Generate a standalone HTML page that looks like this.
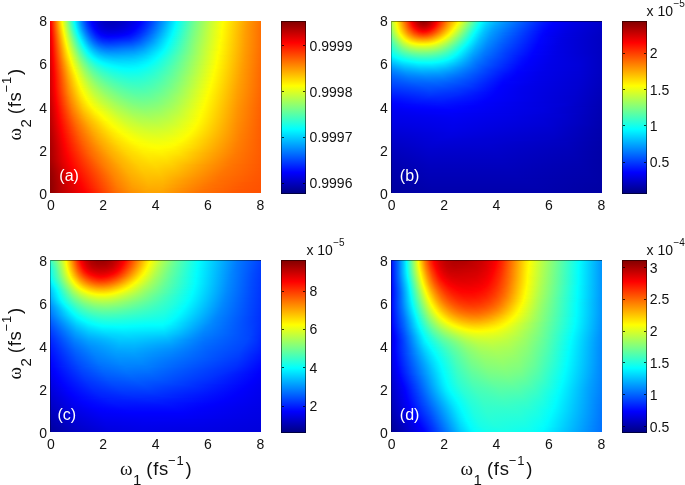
<!DOCTYPE html>
<html><head><meta charset="utf-8"><title>figure</title>
<style>
html,body{margin:0;padding:0;background:#fff;}
body{width:685px;height:485px;position:relative;overflow:hidden;font-family:"Liberation Sans",sans-serif;color:#111;}
.pl{position:absolute;overflow:hidden;}
.bx{position:absolute;box-sizing:border-box;border-top:1px solid rgba(0,0,0,0.45);border-left:1px solid rgba(0,0,0,0.3);pointer-events:none;}
.pl i{display:block;height:1px;width:100%;}
.cb{position:absolute;box-sizing:border-box;border:1px solid rgba(0,0,0,0.5);background-origin:border-box;}
.tk{position:absolute;width:2.7px;height:1px;background:rgba(0,0,0,0.75);}
.t{position:absolute;white-space:nowrap;line-height:1;font-size:14px;}
.r{text-align:right;}
.c{text-align:center;}
.al{position:absolute;white-space:pre;line-height:1;width:70px;height:26px;}
.al span{position:absolute;line-height:1;}
.al.rot{transform-origin:0 0;transform:rotate(-90deg);}
.mn{font-size:18.5px;letter-spacing:0.7px;}
.om{font-family:"Liberation Serif",serif;font-size:19px;}
.sb{font-size:15px;}
.su{font-size:13px;letter-spacing:0.8px;}
.ex{font-size:10px;position:relative;top:-9.6px;margin-left:0.4px;}
.w{color:#fff;font-size:16px;}
</style></head><body>
<div class="pl" style="left:50px;top:20.75px;width:211.2px;height:172.5px">
<i style="background:linear-gradient(90deg,#f90000 0.237%,#ff0f00 0.7109%,#fff200 5.45%,#f6ff09 5.924%,#3bffc4 10.19%,#01fffe 11.61%,#0073ff 15.4%,#002cff 17.77%,#0004ff 19.67%,#0000f3 20.62%,#0000d1 23.46%,#0000bd 26.78%,#0000ba 30.57%,#0000ca 35.31%,#0000ee 41%,#0000ff 42.89%,#003aff 47.63%,#00a8ff 54.74%,#00fcff 59.95%,#1fffe0 62.32%,#82ff7d 69.91%,#f3ff0c 80.81%,#fffe00 82.23%,#ff9b00 93.6%,#ff7300 99.76%)"></i>
<i style="background:linear-gradient(90deg,#f70000 0.237%,#ff0d00 0.7109%,#ffef00 5.45%,#f9ff06 5.924%,#3effc1 10.19%,#04fffb 11.61%,#00cbff 13.03%,#0066ff 15.88%,#002eff 17.77%,#0006ff 19.67%,#0000fc 20.14%,#0000d7 22.99%,#0000c2 25.83%,#0000bb 29.62%,#0000c7 34.36%,#0000e9 40.05%,#0003ff 42.89%,#003dff 47.63%,#00abff 54.74%,#00feff 59.95%,#72ff8d 68.48%,#d3ff2c 77.49%,#fffd00 82.23%,#ff9a00 93.6%,#ff7200 99.76%)"></i>
<i style="background:linear-gradient(90deg,#f60000 0.237%,#ff0c00 0.7109%,#ffec00 5.45%,#fcff03 5.924%,#41ffbe 10.19%,#06fff9 11.61%,#00f2ff 12.09%,#0078ff 15.4%,#0032ff 17.77%,#0000ff 20.14%,#0000dd 22.51%,#0000c6 25.36%,#0000bd 29.15%,#0000c7 33.89%,#0000e7 39.57%,#0000ff 42.42%,#0039ff 47.16%,#00a5ff 54.27%,#01fffe 59.95%,#68ff97 67.54%,#c1ff3e 75.59%,#feff01 81.75%,#ff9600 94.08%,#ff7100 99.76%)"></i>
<i style="background:linear-gradient(90deg,#f50000 0.237%,#ff0a00 0.7109%,#ffff00 5.924%,#44ffbb 10.19%,#0afff5 11.61%,#00f6ff 12.09%,#008cff 14.93%,#0042ff 17.3%,#000bff 19.67%,#0003ff 20.14%,#0000d6 23.46%,#0000c4 26.3%,#0000c0 30.09%,#0000ce 34.83%,#0000f1 40.52%,#0003ff 42.42%,#003cff 47.16%,#00a8ff 54.27%,#00fbff 59.48%,#0afff5 60.43%,#70ff8f 68.01%,#ccff33 76.54%,#feff01 81.75%,#ff9900 93.6%,#ff7100 99.76%)"></i>
<i style="background:linear-gradient(90deg,#f30000 0.237%,#ff0900 0.7109%,#fffc00 5.924%,#c2ff3d 7.346%,#0dfff2 11.61%,#00f9ff 12.09%,#0090ff 14.93%,#0046ff 17.3%,#000fff 19.67%,#0000fd 20.62%,#0000de 22.99%,#0000c9 25.83%,#0000c2 29.62%,#0000ce 34.36%,#0000ed 39.57%,#0002ff 41.94%,#0038ff 46.68%,#00a3ff 53.79%,#00fdff 59.48%,#77ff88 68.48%,#d6ff29 77.49%,#ffff00 81.75%,#ff9c00 93.13%,#ff7000 99.76%)"></i>
<i style="background:linear-gradient(90deg,#f20000 0.237%,#ff0800 0.7109%,#fff800 5.924%,#f0ff0f 6.398%,#38ffc7 10.66%,#00feff 12.09%,#0095ff 14.93%,#004bff 17.3%,#0013ff 19.67%,#0002ff 20.62%,#0000dc 23.46%,#0000ca 26.3%,#0000c6 30.09%,#0000d6 35.31%,#0000f7 40.52%,#0000ff 41.47%,#0036ff 46.21%,#0097ff 52.84%,#00ffff 59.48%,#67ff98 67.06%,#c0ff3f 75.12%,#fffe00 81.75%,#ff9b00 93.13%,#ff7000 99.76%)"></i>
<i style="background:linear-gradient(90deg,#f10000 0.237%,#ff0700 0.7109%,#fff500 5.924%,#f4ff0b 6.398%,#3cffc3 10.66%,#03fffc 12.09%,#00bbff 13.98%,#005eff 16.82%,#0022ff 19.19%,#0000fe 21.09%,#0000e0 23.46%,#0000ce 26.3%,#0000c9 30.09%,#0000d9 35.31%,#0000fb 40.52%,#0004ff 41.47%,#0039ff 46.21%,#00a2ff 53.32%,#00faff 59%,#09fff6 59.95%,#6eff91 67.54%,#caff35 76.07%,#fffd00 81.75%,#ff9b00 93.13%,#ff7000 99.76%)"></i>
<i style="background:linear-gradient(90deg,#f00000 0.237%,#ff0500 0.7109%,#fff100 5.924%,#f8ff07 6.398%,#41ffbe 10.66%,#08fff7 12.09%,#00f5ff 12.56%,#008fff 15.4%,#0049ff 17.77%,#0014ff 20.14%,#0003ff 21.09%,#0000ee 22.51%,#0000d6 25.36%,#0000cd 28.67%,#0000d5 33.41%,#0000f0 38.63%,#0000fe 40.52%,#002bff 44.79%,#0080ff 50.95%,#00fdff 59%,#75ff8a 68.01%,#d4ff2b 77.01%,#fffd00 81.75%,#ff9b00 93.13%,#ff6f00 99.76%)"></i>
<i style="background:linear-gradient(90deg,#ef0000 0.237%,#ff0400 0.7109%,#ffed00 5.924%,#fbff04 6.398%,#46ffb9 10.66%,#0dfff2 12.09%,#00faff 12.56%,#0095ff 15.4%,#004fff 17.77%,#0019ff 20.14%,#0001ff 21.56%,#0000e0 24.41%,#0000d2 27.73%,#0000d7 32.46%,#0000ed 37.68%,#0000fe 40.05%,#002aff 44.31%,#007dff 50.47%,#00ffff 59%,#65ff9a 66.59%,#c3ff3c 75.12%,#feff01 81.28%,#ff9700 93.6%,#ff6f00 99.76%)"></i>
<i style="background:linear-gradient(90deg,#ee0000 0.237%,#ff0300 0.7109%,#ffff00 6.398%,#4bffb4 10.66%,#01fffe 12.56%,#008cff 15.88%,#0049ff 18.25%,#0016ff 20.62%,#0000fe 22.04%,#0000e5 24.41%,#0000d8 27.25%,#0000d9 31.52%,#0000ef 37.2%,#0000ff 39.57%,#0029ff 43.84%,#0073ff 49.53%,#00fbff 58.53%,#09fff6 59.48%,#6cff93 67.06%,#cdff32 76.07%,#feff01 81.28%,#ff9a00 93.13%,#ff6f00 99.76%)"></i>
<i style="background:linear-gradient(90deg,#ec0000 0.237%,#ff0100 0.7109%,#fffb00 6.398%,#daff25 7.346%,#2bffd4 11.61%,#07fff8 12.56%,#00f4ff 13.03%,#0093ff 15.88%,#004fff 18.25%,#001cff 20.62%,#0000fe 22.51%,#0000e7 24.88%,#0000dc 28.2%,#0000e4 33.41%,#0000fc 38.63%,#000cff 40.52%,#003eff 45.26%,#009aff 51.9%,#00fdff 58.53%,#79ff86 68.01%,#dbff24 77.49%,#ffff00 81.28%,#ff9d00 92.65%,#ff6f00 99.76%)"></i>
<i style="background:linear-gradient(90deg,#eb0000 0.237%,#ff0000 0.7109%,#fff700 6.398%,#f2ff0d 6.872%,#43ffbc 11.14%,#0dfff2 12.56%,#00faff 13.03%,#008bff 16.35%,#004aff 18.72%,#0019ff 21.09%,#0000fd 22.99%,#0000ea 25.36%,#0000e1 28.67%,#0000ec 34.36%,#0002ff 38.63%,#0027ff 42.89%,#006eff 48.58%,#01fffe 58.53%,#69ff96 66.59%,#caff35 75.59%,#ffff00 81.28%,#ff9d00 92.65%,#ff6f00 99.76%)"></i>
<i style="background:linear-gradient(90deg,#ea0000 0.237%,#fd0000 0.7109%,#ffca00 5.45%,#fff300 6.398%,#f7ff08 6.872%,#49ffb6 11.14%,#02fffd 13.03%,#0084ff 16.82%,#0046ff 19.19%,#0018ff 21.56%,#0000fe 23.46%,#0000eb 26.3%,#0000e9 30.09%,#0000f9 36.26%,#0004ff 38.15%,#0028ff 42.42%,#006cff 48.1%,#00fcff 58.06%,#10ffef 59.48%,#76ff89 67.54%,#d8ff27 77.01%,#fffe00 81.28%,#ff9d00 92.65%,#ff6f00 99.76%)"></i>
<i style="background:linear-gradient(90deg,#e80000 0.237%,#fc0000 0.7109%,#ff3800 2.133%,#ffef00 6.398%,#fbff04 6.872%,#4fffb0 11.14%,#08fff7 13.03%,#00f7ff 13.51%,#008bff 16.82%,#004dff 19.19%,#001eff 21.56%,#0001ff 23.93%,#0000f0 27.25%,#0000f3 31.99%,#0002ff 36.73%,#001bff 40.52%,#0052ff 45.73%,#00c1ff 53.79%,#00feff 58.06%,#71ff8e 67.06%,#d4ff2b 76.54%,#fffe00 81.28%,#ffa000 92.18%,#ff6f00 99.76%)"></i>
<i style="background:linear-gradient(90deg,#e70000 0.237%,#fa0000 0.7109%,#ff0f00 1.185%,#ffff00 6.872%,#54ffab 11.14%,#00fdff 13.51%,#0092ff 16.82%,#0054ff 19.19%,#0025ff 21.56%,#0008ff 23.93%,#0000fd 25.36%,#0000f5 28.67%,#0002ff 34.83%,#0016ff 39.1%,#0042ff 43.84%,#0096ff 50.47%,#02fffd 58.06%,#6dff92 66.59%,#d0ff2f 76.07%,#fffd00 81.28%,#ffa000 92.18%,#ff6f00 99.76%)"></i>
<i style="background:linear-gradient(90deg,#e60000 0.237%,#f90000 0.7109%,#ff0d00 1.185%,#fffb00 6.872%,#c9ff36 8.294%,#27ffd8 12.56%,#05fffa 13.51%,#00f4ff 13.98%,#008cff 17.3%,#0051ff 19.67%,#0025ff 22.04%,#000bff 24.41%,#0000ff 26.78%,#0004ff 32.46%,#0016ff 38.15%,#0038ff 42.42%,#0081ff 48.58%,#00fdff 57.58%,#7fff80 68.01%,#e7ff18 78.44%,#fffd00 81.28%,#ffa000 92.18%,#ff6f00 99.76%)"></i>
<i style="background:linear-gradient(90deg,#e40000 0.237%,#f70000 0.7109%,#ff0c00 1.185%,#fff700 6.872%,#f4ff0b 7.346%,#4fffb0 11.61%,#0cfff3 13.51%,#00fbff 13.98%,#0094ff 17.3%,#0058ff 19.67%,#002cff 22.04%,#0012ff 24.41%,#0007ff 27.25%,#000cff 32.46%,#001dff 38.15%,#003fff 42.42%,#0086ff 48.58%,#01fffe 57.58%,#75ff8a 67.06%,#dbff24 77.01%,#fffc00 81.28%,#ffa000 92.18%,#ff6f00 99.76%)"></i>
<i style="background:linear-gradient(90deg,#e30000 0.237%,#f60000 0.7109%,#ff0a00 1.185%,#fff300 6.872%,#f8ff07 7.346%,#55ffaa 11.61%,#03fffc 13.98%,#00c5ff 15.88%,#0076ff 18.72%,#0044ff 21.09%,#0022ff 23.46%,#0011ff 26.3%,#0010ff 30.57%,#0024ff 38.15%,#0045ff 42.42%,#008bff 48.58%,#00fdff 57.11%,#86ff79 68.48%,#f1ff0e 79.38%,#fffc00 81.28%,#ff9f00 92.18%,#ff6f00 99.76%)"></i>
<i style="background:linear-gradient(90deg,#e20000 0.237%,#f50000 0.7109%,#ff0900 1.185%,#ffef00 6.872%,#fcff03 7.346%,#5bffa4 11.61%,#0afff5 13.98%,#00faff 14.45%,#0096ff 17.77%,#005fff 20.14%,#0036ff 22.51%,#0020ff 24.88%,#0017ff 28.2%,#0028ff 37.2%,#003fff 41%,#0079ff 46.68%,#01fffe 57.11%,#78ff87 67.06%,#e0ff1f 77.49%,#feff01 80.81%,#ff9c00 92.65%,#ff6f00 99.76%)"></i>
<i style="background:linear-gradient(90deg,#e20000 0.237%,#f40000 0.7109%,#ff0800 1.185%,#fffe00 7.346%,#51ffae 12.09%,#02fffd 14.45%,#009eff 17.77%,#0067ff 20.14%,#003fff 22.51%,#0029ff 24.88%,#0020ff 28.2%,#0032ff 37.68%,#004aff 41.47%,#0084ff 47.16%,#00fdff 56.64%,#8dff72 68.96%,#ffff00 80.81%,#ff9f00 92.18%,#ff6e00 99.76%)"></i>
<i style="background:linear-gradient(90deg,#e10000 0.237%,#f30000 0.7109%,#ff0700 1.185%,#fffa00 7.346%,#f2ff0d 7.82%,#57ffa8 12.09%,#08fff7 14.45%,#00f9ff 14.93%,#00a7ff 17.77%,#0070ff 20.14%,#0049ff 22.51%,#0032ff 24.88%,#0029ff 28.2%,#003dff 38.15%,#005aff 42.42%,#009aff 48.58%,#01fffe 56.64%,#7aff85 67.06%,#eaff15 78.44%,#fffe00 80.81%,#ff9f00 92.18%,#ff6e00 99.76%)"></i>
<i style="background:linear-gradient(90deg,#e10000 0.237%,#f30000 0.7109%,#ff0600 1.185%,#fff600 7.346%,#f6ff09 7.82%,#4dffb2 12.56%,#01fffe 14.93%,#00a3ff 18.25%,#0070ff 20.62%,#004cff 22.99%,#0039ff 25.36%,#0033ff 28.67%,#0048ff 38.63%,#0065ff 42.89%,#00a5ff 49.05%,#00fdff 56.16%,#94ff6b 69.43%,#fcff03 80.33%,#ffed00 82.7%,#ff9800 93.13%,#ff6e00 99.76%)"></i>
<i style="background:linear-gradient(90deg,#e00000 0.237%,#ff0500 1.185%,#fff200 7.346%,#fbff04 7.82%,#53ffac 12.56%,#08fff7 14.93%,#00f8ff 15.4%,#00abff 18.25%,#0079ff 20.62%,#0056ff 22.99%,#0043ff 25.36%,#003cff 28.67%,#0051ff 38.63%,#006cff 42.89%,#00aaff 49.05%,#01fffe 56.16%,#82ff7d 67.54%,#f8ff07 79.86%,#fff900 81.28%,#ff9e00 92.18%,#ff6e00 99.76%)"></i>
<i style="background:linear-gradient(90deg,#e00000 0.237%,#ff0400 1.185%,#ffff00 7.82%,#59ffa6 12.56%,#01fffe 15.4%,#00a9ff 18.72%,#007aff 21.09%,#005bff 23.46%,#0049ff 26.3%,#0047ff 30.09%,#005bff 39.1%,#0077ff 43.36%,#00b5ff 49.53%,#00fdff 55.69%,#97ff68 69.43%,#fdff02 80.33%,#ff9700 93.13%,#ff6e00 99.76%)"></i>
<i style="background:linear-gradient(90deg,#df0000 0.237%,#ff0300 1.185%,#fffb00 7.82%,#e1ff1e 8.768%,#50ffaf 13.03%,#08fff7 15.4%,#00f9ff 15.88%,#00b2ff 18.72%,#0084ff 21.09%,#0065ff 23.46%,#0053ff 26.3%,#0051ff 30.09%,#0064ff 39.1%,#0082ff 43.84%,#00c4ff 50.47%,#01fffe 55.69%,#8eff71 68.48%,#feff01 80.33%,#ff9b00 92.65%,#ff6e00 99.76%)"></i>
<i style="background:linear-gradient(90deg,#de0000 0.237%,#ff0200 1.185%,#fff700 7.82%,#f6ff09 8.294%,#56ffa9 13.03%,#02fffd 15.88%,#00b0ff 19.19%,#0086ff 21.56%,#006bff 23.93%,#005cff 26.78%,#005bff 30.57%,#006fff 39.57%,#008dff 44.31%,#00ceff 50.95%,#00feff 55.21%,#99ff66 69.43%,#ffff00 80.33%,#ff9e00 92.18%,#ff6e00 99.76%)"></i>
<i style="background:linear-gradient(90deg,#de0000 0.237%,#ff0100 1.185%,#fff300 7.82%,#fbff04 8.294%,#5dffa2 13.03%,#09fff6 15.88%,#00fcff 16.35%,#00b9ff 19.19%,#0090ff 21.56%,#0071ff 24.41%,#0064ff 27.25%,#0067ff 31.52%,#0077ff 39.57%,#0094ff 44.31%,#00d3ff 50.95%,#03fffc 55.21%,#9eff61 69.91%,#ffff00 80.33%,#ff9d00 92.18%,#ff6e00 99.76%)"></i>
<i style="background:linear-gradient(90deg,#dd0000 0.237%,#ff0000 1.185%,#ffff00 8.294%,#63ff9c 13.03%,#04fffb 16.35%,#00ebff 17.3%,#00b0ff 20.14%,#008dff 22.51%,#0075ff 25.36%,#006dff 28.67%,#007fff 39.57%,#009bff 44.31%,#00d7ff 50.95%,#01fffe 54.74%,#a4ff5b 70.38%,#fffe00 80.33%,#ff9d00 92.18%,#ff6d00 99.76%)"></i>
<i style="background:linear-gradient(90deg,#dd0000 0.237%,#fe0000 1.185%,#fffb00 8.294%,#e3ff1c 9.242%,#4dffb2 13.98%,#00ffff 16.82%,#00c1ff 19.67%,#0097ff 22.51%,#007fff 25.36%,#0076ff 28.67%,#0086ff 39.1%,#009eff 43.84%,#00d3ff 50%,#00feff 54.27%,#b7ff48 72.27%,#fffd00 80.33%,#ff9d00 92.18%,#ff6d00 99.76%)"></i>
<i style="background:linear-gradient(90deg,#dc0000 0.237%,#fd0000 1.185%,#fff700 8.294%,#f7ff08 8.768%,#62ff9d 13.51%,#08fff7 16.82%,#00fbff 17.3%,#00c2ff 20.14%,#009bff 22.99%,#0087ff 25.83%,#0080ff 29.62%,#008fff 39.57%,#00a8ff 44.31%,#00e1ff 50.95%,#03fffc 54.27%,#bdff42 72.75%,#fffd00 80.33%,#ff9d00 92.18%,#ff6d00 99.76%)"></i>
<i style="background:linear-gradient(90deg,#dc0000 0.237%,#fc0000 1.185%,#fff300 8.294%,#fcff03 8.768%,#68ff97 13.51%,#0ffff0 16.82%,#04fffb 17.3%,#00eeff 18.25%,#00bcff 21.09%,#009cff 23.93%,#008bff 27.25%,#008bff 31.99%,#0099ff 40.05%,#00b5ff 45.26%,#00f7ff 52.84%,#02fffd 53.79%,#cbff34 74.17%,#feff01 79.86%,#ff9900 92.65%,#ff6d00 99.76%)"></i>
<i style="background:linear-gradient(90deg,#db0000 0.237%,#fb0000 1.185%,#ff2e00 2.607%,#ffef00 8.294%,#fffe00 8.768%,#61ff9e 13.98%,#0cfff3 17.3%,#01fffe 17.77%,#00ccff 20.62%,#00aaff 23.46%,#0096ff 26.78%,#0093ff 31.52%,#00a0ff 40.05%,#00bbff 45.26%,#01fffe 53.32%,#d9ff26 75.59%,#ffff00 79.86%,#ff9c00 92.18%,#ff6d00 99.76%)"></i>
<i style="background:linear-gradient(90deg,#da0000 0.237%,#fb0000 1.185%,#ff1c00 2.133%,#ffdb00 7.82%,#fff900 8.768%,#f6ff09 9.242%,#67ff98 13.98%,#13ffec 17.3%,#00feff 18.25%,#00ceff 21.09%,#00afff 23.93%,#009eff 27.25%,#009cff 32.46%,#00a7ff 40.05%,#00c1ff 45.26%,#00ffff 52.84%,#e6ff19 77.01%,#ffff00 79.86%,#ff9f00 91.71%,#ff6c00 99.76%)"></i>
<i style="background:linear-gradient(90deg,#da0000 0.237%,#fa0000 1.185%,#ff0b00 1.659%,#ffc900 7.346%,#fff500 8.768%,#faff05 9.242%,#6eff91 13.98%,#1bffe4 17.3%,#00fdff 18.72%,#00d0ff 21.56%,#00b5ff 24.41%,#00a5ff 28.2%,#00a6ff 35.31%,#00b3ff 41.47%,#00d4ff 47.16%,#00ffff 52.37%,#f8ff07 78.91%,#fffa00 80.33%,#ff9b00 92.18%,#ff6c00 99.76%)"></i>
<i style="background:linear-gradient(90deg,#d90000 0.237%,#f90000 1.185%,#ff0a00 1.659%,#ffb600 6.872%,#ffff00 9.242%,#74ff8b 13.98%,#22ffdd 17.3%,#06fff9 18.72%,#00fcff 19.19%,#00d4ff 22.04%,#00b8ff 25.36%,#00acff 29.62%,#00b2ff 38.63%,#00c5ff 43.84%,#00f3ff 50.47%,#00ffff 51.9%,#fdff02 79.38%,#ff9400 93.13%,#ff6c00 99.76%)"></i>
<i style="background:linear-gradient(90deg,#d80000 0.237%,#f80000 1.185%,#ff0900 1.659%,#ffb300 6.872%,#fffb00 9.242%,#e7ff18 10.19%,#6eff91 14.45%,#20ffdf 17.77%,#05fffa 19.19%,#00fcff 19.67%,#00d7ff 22.51%,#00bfff 25.83%,#00b4ff 30.09%,#00b9ff 38.63%,#00cbff 43.84%,#00f7ff 50.47%,#03fffc 51.9%,#a4ff5b 69.43%,#feff01 79.38%,#ff9700 92.65%,#ff6c00 99.76%)"></i>
<i style="background:linear-gradient(90deg,#d80000 0.237%,#f70000 1.185%,#ff0700 1.659%,#ffb000 6.872%,#fff700 9.242%,#f9ff06 9.716%,#75ff8a 14.45%,#28ffd7 17.77%,#06fff9 19.67%,#00fdff 20.14%,#00dcff 22.99%,#00c5ff 26.3%,#00bbff 31.04%,#00c1ff 39.57%,#00d8ff 45.26%,#00ffff 50.95%,#67ff98 62.8%,#feff01 79.38%,#ff9a00 92.18%,#ff6c00 99.76%)"></i>
<i style="background:linear-gradient(90deg,#d70000 0.237%,#f60000 1.185%,#ff0600 1.659%,#ffbb00 7.346%,#feff01 9.716%,#7bff84 14.45%,#2fffd0 17.77%,#00ffff 20.62%,#00dcff 23.93%,#00c9ff 27.73%,#00c2ff 33.41%,#00caff 40.52%,#00e3ff 46.21%,#00ffff 50.47%,#60ff9f 61.85%,#ffff00 79.38%,#ff9d00 91.71%,#ff6b00 99.76%)"></i>
<i style="background:linear-gradient(90deg,#d70000 0.237%,#f50000 1.185%,#ff0500 1.659%,#ffb700 7.346%,#fffc00 9.716%,#8dff72 13.98%,#40ffbf 17.3%,#0ffff0 20.14%,#02fffd 21.09%,#00deff 24.88%,#00ccff 29.62%,#00caff 36.73%,#00d6ff 42.42%,#00f6ff 48.58%,#04fffb 50.47%,#5effa1 61.37%,#fffe00 79.38%,#ff9d00 91.71%,#ff6b00 99.76%)"></i>
<i style="background:linear-gradient(90deg,#d60000 0.237%,#f40000 1.185%,#ff0400 1.659%,#ffc200 7.82%,#fff800 9.716%,#f9ff06 10.19%,#87ff78 14.45%,#3fffc0 17.77%,#10ffef 20.62%,#00feff 22.04%,#00e4ff 25.36%,#00d3ff 30.09%,#00d1ff 37.68%,#00dfff 43.36%,#02fffd 49.53%,#4fffb0 59.48%,#fdff02 78.91%,#ff9600 92.65%,#ff6b00 99.76%)"></i>
<i style="background:linear-gradient(90deg,#d60000 0.237%,#ff0300 1.659%,#ffbe00 7.82%,#fdff02 10.19%,#8eff71 14.45%,#46ffb9 17.77%,#18ffe7 20.62%,#00fdff 22.99%,#00e5ff 26.78%,#00d7ff 32.46%,#00daff 40.05%,#00efff 45.73%,#03fffc 49.05%,#49ffb6 58.53%,#feff01 78.91%,#ff9900 92.18%,#ff6b00 99.76%)"></i>
<i style="background:linear-gradient(90deg,#d60000 0.237%,#ff0200 1.659%,#ffc800 8.294%,#fffd00 10.19%,#7eff81 15.4%,#3cffc3 18.72%,#14ffeb 21.56%,#00fdff 23.93%,#00e7ff 28.2%,#00dcff 33.89%,#00e1ff 40.52%,#00f8ff 46.68%,#04fffb 48.58%,#44ffbb 57.58%,#ffff00 78.91%,#ff9f00 91.23%,#ff6b00 99.76%)"></i>
<i style="background:linear-gradient(90deg,#d50000 0.237%,#ff0100 1.659%,#ffc500 8.294%,#fff900 10.19%,#f9ff06 10.66%,#8fff70 14.93%,#4cffb3 18.25%,#1cffe3 21.56%,#02fffd 24.41%,#00e7ff 30.57%,#00e2ff 37.68%,#00eeff 43.36%,#02fffd 47.63%,#3bffc4 56.16%,#b9ff46 70.85%,#fffe00 78.91%,#ff9e00 91.23%,#ff6a00 99.76%)"></i>
<i style="background:linear-gradient(90deg,#d50000 0.237%,#ff0000 1.659%,#ffc100 8.294%,#fdff02 10.66%,#95ff6a 14.93%,#53ffac 18.25%,#23ffdc 21.56%,#06fff9 24.88%,#00fbff 26.78%,#00eaff 32.46%,#00e9ff 39.57%,#00fcff 45.73%,#0efff1 49.05%,#4cffb3 58.06%,#fffd00 78.91%,#ff9e00 91.23%,#ff6a00 99.76%)"></i>
<i style="background:linear-gradient(90deg,#d40000 0.237%,#fe0000 1.659%,#ffcb00 8.768%,#fffd00 10.66%,#86ff79 15.88%,#4affb5 19.19%,#20ffdf 22.51%,#05fffa 26.3%,#00faff 28.67%,#00edff 34.83%,#00f1ff 41%,#01fffe 45.73%,#2cffd3 53.32%,#7dff82 63.74%,#feff01 78.44%,#ff9700 92.18%,#ff6a00 99.76%)"></i>
<i style="background:linear-gradient(90deg,#d40000 0.237%,#fd0000 1.659%,#ffd400 9.242%,#fff900 10.66%,#f9ff06 11.14%,#96ff69 15.4%,#58ffa7 18.72%,#2cffd3 22.04%,#0efff1 25.83%,#00feff 29.15%,#00f2ff 35.31%,#00f6ff 41.47%,#03fffc 45.26%,#2cffd3 52.84%,#77ff88 62.8%,#ffff00 78.44%,#ff9d00 91.23%,#ff6a00 99.76%)"></i>
<i style="background:linear-gradient(90deg,#d30000 0.237%,#fc0000 1.659%,#ff8400 6.398%,#feff01 11.14%,#9cff63 15.4%,#5effa1 18.72%,#33ffcc 22.04%,#15ffea 25.83%,#00feff 31.04%,#00f6ff 37.68%,#02fffd 43.84%,#26ffd9 51.42%,#69ff96 60.9%,#ffff00 78.44%,#ffa000 90.76%,#ff6900 99.76%)"></i>
<i style="background:linear-gradient(90deg,#d30000 0.237%,#fb0000 1.659%,#ff2500 3.081%,#ffcd00 9.242%,#fffc00 11.14%,#98ff67 15.88%,#5dffa2 19.19%,#35ffca 22.51%,#16ffe9 26.78%,#00ffff 32.94%,#00fcff 39.57%,#05fffa 43.36%,#23ffdc 50.47%,#60ff9f 59.48%,#fffe00 78.44%,#ff9f00 90.76%,#ff6900 99.76%)"></i>
<i style="background:linear-gradient(90deg,#d20000 0.237%,#fa0000 1.659%,#ff1600 2.607%,#ffbd00 8.768%,#fff800 11.14%,#fbff04 11.61%,#9dff62 15.88%,#63ff9c 19.19%,#3bffc4 22.51%,#1cffe3 26.78%,#05fffa 32.94%,#01fffe 39.1%,#10ffef 45.73%,#37ffc8 53.32%,#7cff83 62.8%,#feff01 77.96%,#ff9500 92.18%,#ff6900 99.76%)"></i>
<i style="background:linear-gradient(90deg,#d20000 0.237%,#fa0000 1.659%,#ff0800 2.133%,#ffba00 8.768%,#ffff00 11.61%,#a3ff5c 15.88%,#69ff96 19.19%,#41ffbe 22.51%,#21ffde 26.78%,#0afff5 32.94%,#05fffa 39.1%,#14ffeb 45.73%,#39ffc6 53.32%,#7dff82 62.8%,#ffff00 77.96%,#ff9b00 91.23%,#ff6900 99.76%)"></i>
<i style="background:linear-gradient(90deg,#d10000 0.237%,#f90000 1.659%,#ff0700 2.133%,#ffb700 8.768%,#fffb00 11.61%,#e3ff1c 13.03%,#8eff71 17.3%,#5cffa3 20.62%,#36ffc9 24.41%,#19ffe6 29.62%,#0afff5 36.26%,#0efff1 42.42%,#27ffd8 49.53%,#5bffa4 58.06%,#bbff44 69.91%,#fffe00 77.96%,#ff9e00 90.76%,#ff6900 99.76%)"></i>
<i style="background:linear-gradient(90deg,#d10000 0.237%,#f80000 1.659%,#ff0600 2.133%,#ffb400 8.768%,#fff700 11.61%,#fcff03 12.09%,#a4ff5b 16.35%,#6eff91 19.67%,#44ffbb 23.46%,#25ffda 28.2%,#11ffee 34.36%,#0ffff0 40.52%,#20ffdf 47.16%,#4affb5 55.21%,#94ff6b 65.17%,#fffd00 77.96%,#ff9d00 90.76%,#ff6800 99.76%)"></i>
<i style="background:linear-gradient(90deg,#d10000 0.237%,#f70000 1.659%,#ff0500 2.133%,#ffb100 8.768%,#fffe00 12.09%,#a0ff5f 16.82%,#6dff92 20.14%,#46ffb9 23.93%,#26ffd9 29.15%,#14ffeb 35.31%,#14ffeb 41.47%,#27ffd8 48.1%,#52ffad 56.16%,#9dff62 66.11%,#feff01 77.49%,#ff9700 91.71%,#ff6800 99.76%)"></i>
<i style="background:linear-gradient(90deg,#d00000 0.237%,#f70000 1.659%,#ff0400 2.133%,#ffaf00 8.768%,#fffa00 12.09%,#efff10 13.03%,#9dff62 17.3%,#6dff92 20.62%,#47ffb8 24.41%,#29ffd6 29.62%,#18ffe7 35.78%,#18ffe7 41.94%,#2effd1 49.05%,#5bffa4 57.11%,#a7ff58 67.06%,#ffff00 77.49%,#ff9c00 90.76%,#ff6800 99.76%)"></i>
<i style="background:linear-gradient(90deg,#d00000 0.237%,#f60000 1.659%,#ff0400 2.133%,#ffac00 8.768%,#fdff02 12.56%,#aaff55 16.82%,#72ff8d 20.62%,#49ffb6 24.88%,#2cffd3 30.09%,#1bffe4 36.73%,#1dffe2 42.89%,#35ffca 50%,#66ff99 58.53%,#c0ff3f 69.91%,#fffe00 77.49%,#ff9f00 90.28%,#ff6800 99.76%)"></i>
<i style="background:linear-gradient(90deg,#d00000 0.237%,#ff0300 2.133%,#ffa900 8.768%,#fffd00 12.56%,#a7ff58 17.3%,#72ff8d 21.09%,#4bffb4 25.36%,#2dffd2 31.04%,#1effe1 37.2%,#22ffdd 43.36%,#3affc5 50.47%,#6cff93 59%,#c9ff36 70.85%,#fffd00 77.49%,#ff9f00 90.28%,#ff6800 99.76%)"></i>
<i style="background:linear-gradient(90deg,#d00000 0.237%,#ff0200 2.133%,#ffa700 8.768%,#fffa00 12.56%,#faff05 13.03%,#acff53 17.3%,#77ff88 21.09%,#50ffaf 25.36%,#31ffce 31.04%,#22ffdd 37.2%,#25ffda 43.36%,#3cffc3 50.47%,#6eff91 59%,#cbff34 70.85%,#feff01 77.01%,#ff9b00 90.76%,#ff6800 99.76%)"></i>
<i style="background:linear-gradient(90deg,#d00000 0.237%,#ff0200 2.133%,#ffa500 8.768%,#feff01 13.03%,#b1ff4e 17.3%,#7cff83 21.09%,#55ffaa 25.36%,#36ffc9 31.04%,#26ffd9 37.68%,#29ffd6 43.84%,#41ffbe 50.95%,#73ff8c 59.48%,#d8ff27 72.27%,#ffff00 77.01%,#ffa100 89.81%,#ff6700 99.76%)"></i>
<i style="background:linear-gradient(90deg,#d00000 0.237%,#ff0100 2.133%,#ffa200 8.768%,#fffd00 13.03%,#a7ff58 18.25%,#77ff88 22.04%,#50ffaf 26.78%,#34ffcb 32.94%,#28ffd7 39.1%,#2fffd0 45.26%,#4dffb2 52.84%,#82ff7d 61.37%,#fffe00 77.01%,#ffa000 89.81%,#ff6700 99.76%)"></i>
<i style="background:linear-gradient(90deg,#d00000 0.237%,#ff0000 2.133%,#ffa000 8.768%,#fff900 13.03%,#fbff04 13.51%,#b2ff4d 17.77%,#81ff7e 21.56%,#58ffa7 26.3%,#39ffc6 32.46%,#2cffd3 38.63%,#31ffce 44.79%,#4affb5 51.9%,#7dff82 60.43%,#fffd00 77.01%,#ffa000 89.81%,#ff6700 99.76%)"></i>
<i style="background:linear-gradient(90deg,#cf0000 0.237%,#ff0000 2.133%,#ff9e00 8.768%,#ffff00 13.51%,#b7ff48 17.77%,#81ff7e 22.04%,#5affa5 26.78%,#3cffc3 32.94%,#2fffd0 39.1%,#35ffca 45.26%,#4fffb0 52.37%,#82ff7d 60.9%,#feff01 76.54%,#ff9f00 89.81%,#ff6700 99.76%)"></i>
<i style="background:linear-gradient(90deg,#cf0000 0.237%,#fe0000 2.133%,#ff9c00 8.768%,#fffc00 13.51%,#d9ff26 15.88%,#9bff64 20.14%,#70ff8f 24.41%,#4cffb3 30.09%,#36ffc9 36.73%,#34ffcb 42.89%,#45ffba 49.53%,#6eff91 57.58%,#baff45 68.01%,#ffff00 76.54%,#ffa200 89.34%,#ff6700 99.76%)"></i>
<i style="background:linear-gradient(90deg,#cf0000 0.237%,#fe0000 2.133%,#ffa400 9.242%,#fff900 13.51%,#fdff02 13.98%,#b9ff46 18.25%,#86ff79 22.51%,#5effa1 27.73%,#40ffbf 34.36%,#36ffc9 40.52%,#3effc1 46.68%,#5dffa2 54.27%,#97ff68 63.27%,#fffd00 76.54%,#ffa100 89.34%,#ff6700 99.76%)"></i>
<i style="background:linear-gradient(90deg,#cf0000 0.237%,#fd0000 2.133%,#ffa200 9.242%,#fffe00 13.98%,#b6ff49 18.72%,#86ff79 22.99%,#5fffa0 28.2%,#42ffbd 34.83%,#39ffc6 41%,#42ffbd 47.16%,#62ff9d 54.74%,#9cff63 63.74%,#feff01 76.07%,#ff9a00 90.28%,#ff6700 99.76%)"></i>
<i style="background:linear-gradient(90deg,#cf0000 0.237%,#fd0000 2.133%,#ffaa00 9.716%,#fffb00 13.98%,#f3ff0c 14.93%,#b4ff4b 19.19%,#82ff7d 23.93%,#5cffa3 29.62%,#42ffbd 36.26%,#3cffc3 42.42%,#4bffb4 49.05%,#71ff8e 57.11%,#b7ff48 67.06%,#ffff00 76.07%,#ffa300 88.86%,#ff6700 99.76%)"></i>
<i style="background:linear-gradient(90deg,#cf0000 0.237%,#fc0000 2.133%,#ff3500 4.502%,#ffb100 10.19%,#feff01 14.45%,#bfff40 18.72%,#8bff74 23.46%,#63ff9c 29.15%,#47ffb8 35.78%,#3fffc0 41.94%,#4cffb3 48.58%,#70ff8f 56.64%,#b1ff4e 66.11%,#fffe00 76.07%,#ffa200 88.86%,#ff6700 99.76%)"></i>
<i style="background:linear-gradient(90deg,#ce0000 0.237%,#fb0000 2.133%,#ff1300 3.081%,#ff9c00 9.242%,#fffc00 14.45%,#b1ff4e 20.14%,#84ff7b 24.88%,#5dffa2 31.04%,#46ffb9 37.68%,#43ffbc 43.36%,#53ffac 50%,#7bff84 58.06%,#c5ff3a 68.48%,#fffd00 76.07%,#ffa200 88.86%,#ff6600 99.76%)"></i>
<i style="background:linear-gradient(90deg,#ce0000 0.237%,#fb0000 2.133%,#ff1200 3.081%,#ff9a00 9.242%,#fff900 14.45%,#fdff02 14.93%,#bbff44 19.67%,#8cff73 24.41%,#64ff9b 30.57%,#4bffb4 37.2%,#46ffb9 42.89%,#54ffab 49.53%,#7aff85 57.58%,#c3ff3c 68.01%,#ffff00 75.59%,#ffa100 88.86%,#ff6600 99.76%)"></i>
<i style="background:linear-gradient(90deg,#ce0000 0.237%,#fa0000 2.133%,#ff0600 2.607%,#ff8e00 8.768%,#ffee00 13.98%,#fffd00 14.93%,#baff45 20.14%,#89ff76 25.36%,#61ff9e 31.99%,#4cffb3 38.63%,#4affb5 44.31%,#5effa1 51.42%,#88ff77 59.48%,#e2ff1d 71.8%,#fffe00 75.59%,#ffa000 88.86%,#ff6600 99.76%)"></i>
<i style="background:linear-gradient(90deg,#cd0000 0.237%,#f90000 2.133%,#ff0500 2.607%,#ff8c00 8.768%,#ffeb00 13.98%,#fcff03 15.4%,#beff41 20.14%,#8eff71 25.36%,#65ff9a 31.99%,#4fffb0 38.63%,#4dffb2 44.31%,#60ff9f 51.42%,#89ff76 59.48%,#e4ff1b 71.8%,#fffd00 75.59%,#ffa000 88.86%,#ff6600 99.76%)"></i>
<i style="background:linear-gradient(90deg,#cd0000 0.237%,#f80000 2.133%,#ff0400 2.607%,#ff8a00 8.768%,#ffe800 13.98%,#fffe00 15.4%,#bdff42 20.62%,#8eff71 25.83%,#65ff9a 32.94%,#51ffae 39.57%,#51ffae 45.26%,#66ff99 52.37%,#91ff6e 60.43%,#ffff00 75.12%,#ff9f00 88.86%,#ff6600 99.76%)"></i>
<i style="background:linear-gradient(90deg,#cc0000 0.237%,#ff0300 2.607%,#ff8800 8.768%,#ffe500 13.98%,#fcff03 15.88%,#c1ff3e 20.62%,#93ff6c 25.83%,#69ff96 32.94%,#54ffab 39.57%,#54ffab 45.26%,#69ff96 52.37%,#93ff6c 60.43%,#fffe00 75.12%,#ff9f00 88.86%,#ff6600 99.76%)"></i>
<i style="background:linear-gradient(90deg,#cc0000 0.237%,#ff0200 2.607%,#ff8600 8.768%,#ffe200 13.98%,#fffe00 15.88%,#c0ff3f 21.09%,#90ff6f 26.78%,#69ff96 33.89%,#56ffa9 40.52%,#5affa5 46.68%,#73ff8c 54.27%,#a5ff5a 62.8%,#fffd00 75.12%,#ff9e00 88.86%,#ff6500 99.76%)"></i>
<i style="background:linear-gradient(90deg,#cb0000 0.237%,#ff0100 2.607%,#ff8300 8.768%,#ffdf00 13.98%,#fcff03 16.35%,#c4ff3b 21.09%,#95ff6a 26.78%,#6dff92 33.89%,#5affa5 40.52%,#5dffa2 46.68%,#76ff89 54.27%,#a7ff58 62.8%,#feff01 74.64%,#ff9d00 88.86%,#ff6500 99.76%)"></i>
<i style="background:linear-gradient(90deg,#cb0000 0.237%,#ff0000 2.607%,#ff8a00 9.242%,#ffe300 14.45%,#fffe00 16.35%,#c3ff3c 21.56%,#93ff6c 27.73%,#6dff92 34.83%,#5dffa2 41%,#60ff9f 47.16%,#7aff85 54.74%,#acff53 63.27%,#fffe00 74.64%,#ffa000 88.39%,#ff6700 99.29%,#ff6500 99.76%)"></i>
<i style="background:linear-gradient(90deg,#ca0000 0.237%,#fe0000 2.607%,#ff9000 9.716%,#ffe000 14.45%,#fdff02 16.82%,#c7ff38 21.56%,#97ff68 27.73%,#6fff90 35.31%,#60ff9f 41.47%,#64ff9b 47.63%,#7fff80 55.21%,#b4ff4b 64.22%,#fffd00 74.64%,#ff9c00 88.86%,#ff6500 99.76%)"></i>
<i style="background:linear-gradient(90deg,#c90000 0.237%,#fc0000 2.607%,#ff9600 10.19%,#ffe300 14.93%,#fffd00 16.82%,#c3ff3c 22.51%,#92ff6d 29.15%,#6fff90 36.26%,#63ff9c 42.42%,#69ff96 48.58%,#86ff79 56.16%,#bcff43 65.17%,#feff01 74.17%,#ff9900 89.34%,#ff6400 99.76%)"></i>
<i style="background:linear-gradient(90deg,#c90000 0.237%,#fb0000 2.607%,#ff1000 3.555%,#ff8b00 9.716%,#ffd900 14.45%,#feff01 17.3%,#c7ff38 22.51%,#96ff69 29.15%,#73ff8c 36.26%,#66ff99 42.42%,#6cff93 48.58%,#88ff77 56.16%,#beff41 65.17%,#ffff00 74.17%,#ff9e00 88.39%,#ff6800 98.82%,#ff6400 99.76%)"></i>
<i style="background:linear-gradient(90deg,#c80000 0.237%,#fa0000 2.607%,#ff0500 3.081%,#ff8900 9.716%,#ffd600 14.45%,#fffc00 17.3%,#bfff40 23.93%,#8dff72 31.52%,#70ff8f 38.63%,#69ff96 44.31%,#75ff8a 50.95%,#99ff66 59%,#e1ff1e 69.91%,#fffd00 74.17%,#ff9a00 88.86%,#ff6600 99.29%,#ff6400 99.76%)"></i>
<i style="background:linear-gradient(90deg,#c70000 0.237%,#f80000 2.607%,#ff0300 3.081%,#ff8600 9.716%,#ffd300 14.45%,#ffff00 17.77%,#cbff34 22.99%,#96ff69 30.57%,#76ff89 37.68%,#6cff93 43.84%,#77ff88 50.47%,#99ff66 58.53%,#dcff23 68.96%,#feff01 73.7%,#ff9700 89.34%,#ff6300 99.76%)"></i>
<i style="background:linear-gradient(90deg,#c60000 0.237%,#ff0200 3.081%,#ff8400 9.716%,#ffd600 14.93%,#fdff02 18.25%,#cbff34 23.46%,#98ff67 31.04%,#78ff87 38.15%,#70ff8f 44.31%,#7bff84 50.95%,#9dff62 59%,#e4ff1b 69.91%,#fffe00 73.7%,#ff9900 88.86%,#ff6500 99.29%,#ff6300 99.76%)"></i>
<i style="background:linear-gradient(90deg,#c50000 0.237%,#ff0000 3.081%,#ff8100 9.716%,#ffd300 14.93%,#fffd00 18.25%,#c4ff3b 24.88%,#92ff6d 32.94%,#78ff87 39.57%,#74ff8b 45.73%,#84ff7b 52.84%,#aaff55 60.9%,#fffd00 73.7%,#ff9800 88.86%,#ff6500 99.29%,#ff6300 99.76%)"></i>
<i style="background:linear-gradient(90deg,#c40000 0.237%,#fe0000 3.081%,#ff8700 10.19%,#ffd600 15.4%,#fffe00 18.72%,#c9ff36 24.88%,#96ff69 32.94%,#7cff83 39.57%,#77ff88 45.73%,#86ff79 52.84%,#acff53 60.9%,#ffff00 73.22%,#ff9500 89.34%,#ff6200 99.76%)"></i>
<i style="background:linear-gradient(90deg,#c40000 0.237%,#fc0000 3.081%,#ff5100 7.346%,#ffaa00 12.56%,#fff000 17.77%,#feff01 19.19%,#c9ff36 25.36%,#97ff68 33.41%,#7fff80 40.05%,#7aff85 45.73%,#89ff76 52.84%,#aeff51 60.9%,#fffe00 73.22%,#ff9700 88.86%,#ff6400 99.29%,#ff6200 99.76%)"></i>
<i style="background:linear-gradient(90deg,#c30000 0.237%,#fb0000 3.081%,#ff0e00 4.028%,#ff8100 10.19%,#ffcf00 15.4%,#fffc00 19.19%,#ecff13 21.56%,#b1ff4e 29.62%,#8bff74 37.2%,#7dff82 43.36%,#84ff7b 50%,#9fff60 57.58%,#d6ff29 67.06%,#fffd00 73.22%,#ff9600 88.86%,#ff6600 98.82%,#ff6200 99.76%)"></i>
<i style="background:linear-gradient(90deg,#c20000 0.237%,#f90000 3.081%,#ff0300 3.555%,#ff7f00 10.19%,#ffcc00 15.4%,#fffd00 19.67%,#b8ff47 29.15%,#91ff6e 36.73%,#81ff7e 42.89%,#85ff7a 49.05%,#9dff62 56.64%,#ceff31 65.64%,#ffff00 72.75%,#ff9300 89.34%,#ff6200 99.76%)"></i>
<i style="background:linear-gradient(90deg,#c10000 0.237%,#ff0200 3.555%,#ff7c00 10.19%,#ffc800 15.4%,#fffd00 20.14%,#b9ff46 29.62%,#93ff6c 37.2%,#84ff7b 43.36%,#8aff75 50%,#a3ff5c 57.58%,#d9ff26 67.06%,#fffe00 72.75%,#ff9500 88.86%,#ff6500 98.82%,#ff6100 99.76%)"></i>
<i style="background:linear-gradient(90deg,#c10000 0.237%,#ff0100 3.555%,#ff7900 10.19%,#ffc500 15.4%,#fff900 20.14%,#f8ff07 21.56%,#b7ff48 30.57%,#95ff6a 37.68%,#87ff78 43.84%,#8eff71 50.47%,#aaff55 58.53%,#e4ff1b 68.48%,#fffd00 72.75%,#ff9400 88.86%,#ff6500 98.82%,#ff6100 99.76%)"></i>
<i style="background:linear-gradient(90deg,#c00000 0.237%,#fe0000 3.555%,#ff7e00 10.66%,#ffc700 15.88%,#fffd00 21.09%,#b6ff49 31.52%,#96ff69 38.63%,#8bff74 44.79%,#93ff6c 51.42%,#b1ff4e 59.48%,#efff10 69.91%,#ffff00 72.27%,#ff9400 88.86%,#ff6300 99.29%,#ff6100 99.76%)"></i>
<i style="background:linear-gradient(90deg,#bf0000 0.237%,#fd0000 3.555%,#ff8200 11.14%,#ffc900 16.35%,#fffd00 21.56%,#b7ff48 31.99%,#98ff67 39.1%,#8eff71 45.26%,#98ff67 52.37%,#b8ff47 60.43%,#faff05 71.33%,#fffb00 72.75%,#ff9300 88.86%,#ff6200 99.29%,#ff6100 99.76%)"></i>
<i style="background:linear-gradient(90deg,#bf0000 0.237%,#fc0000 3.555%,#ff1f00 5.45%,#ff7f00 11.14%,#ffc500 16.35%,#fff900 21.56%,#faff05 22.99%,#bbff44 31.99%,#9cff63 39.1%,#92ff6d 45.26%,#9bff64 52.37%,#baff45 60.43%,#fbff04 71.33%,#fff300 73.7%,#ff9000 89.34%,#ff6000 99.76%)"></i>
<i style="background:linear-gradient(90deg,#be0000 0.237%,#fa0000 3.555%,#ff0d00 4.502%,#ff7500 10.66%,#ffbc00 15.88%,#fff100 21.09%,#feff01 22.99%,#bfff40 31.99%,#9fff60 39.1%,#95ff6a 45.26%,#9eff61 52.37%,#bcff43 60.43%,#ffff00 71.8%,#ff9200 88.86%,#ff6200 99.29%,#ff6000 99.76%)"></i>
<i style="background:linear-gradient(90deg,#bd0000 0.237%,#ff0300 4.028%,#ff7200 10.66%,#ffb800 15.88%,#ffed00 21.09%,#feff01 23.46%,#c3ff3c 31.99%,#a3ff5c 39.1%,#99ff66 45.26%,#a1ff5e 52.37%,#beff41 60.43%,#faff05 70.85%,#fff700 72.75%,#ff9200 88.86%,#ff6200 99.29%,#ff6000 99.76%)"></i>
<i style="background:linear-gradient(90deg,#bd0000 0.237%,#ff0100 4.028%,#ff6f00 10.66%,#ffb400 15.88%,#ffe900 21.09%,#ffff00 23.93%,#c4ff3b 32.46%,#a6ff59 39.57%,#9cff63 46.21%,#a6ff59 53.32%,#c5ff3a 61.37%,#ffff00 71.33%,#ff9100 88.86%,#ff6000 99.76%)"></i>
<i style="background:linear-gradient(90deg,#bc0000 0.237%,#ff0000 4.028%,#ff6c00 10.66%,#ffb600 16.35%,#ffed00 22.04%,#ffff00 24.41%,#c6ff39 32.94%,#a8ff57 40.05%,#9fff60 46.68%,#aaff55 53.79%,#cbff34 62.32%,#fffe00 71.33%,#ff9100 88.86%,#ff5f00 99.76%)"></i>
<i style="background:linear-gradient(90deg,#bc0000 0.237%,#fe0000 4.028%,#ff7700 11.61%,#ffbd00 17.3%,#fff400 23.46%,#ffff00 24.88%,#c7ff38 33.41%,#abff54 40.52%,#a3ff5c 47.16%,#aeff51 54.27%,#d0ff2f 62.8%,#fffd00 71.33%,#ff9000 88.86%,#ff5f00 99.76%)"></i>
<i style="background:linear-gradient(90deg,#bb0000 0.237%,#fc0000 4.028%,#ff5100 9.242%,#ff9f00 14.93%,#ffd900 20.62%,#ffff00 25.36%,#c8ff37 33.89%,#adff52 41%,#a6ff59 47.63%,#b3ff4c 55.21%,#d6ff29 63.74%,#ffff00 70.85%,#ff9000 88.86%,#ff5f00 99.76%)"></i>
<i style="background:linear-gradient(90deg,#ba0000 0.237%,#fb0000 4.028%,#ff0c00 4.976%,#ff7100 11.61%,#ffb600 17.3%,#fff100 23.93%,#ffff00 25.83%,#caff35 34.36%,#b0ff4f 41.47%,#aaff55 48.1%,#b7ff48 55.69%,#dbff24 64.22%,#fffd00 70.85%,#ff8f00 88.86%,#ff5f00 99.76%)"></i>
<i style="background:linear-gradient(90deg,#ba0000 0.237%,#ff0200 4.502%,#ff6700 11.14%,#ffad00 16.82%,#ffe900 23.46%,#ffff00 26.3%,#cbff34 34.83%,#b2ff4d 41.94%,#adff52 48.58%,#bbff44 56.16%,#e1ff1e 65.17%,#ffff00 70.38%,#ff9100 88.39%,#ff6000 99.29%,#ff5f00 99.76%)"></i>
<i style="background:linear-gradient(90deg,#b90000 0.237%,#ff0100 4.502%,#ff6b00 11.61%,#ffaf00 17.3%,#ffea00 23.93%,#ffff00 26.78%,#cdff32 35.31%,#b5ff4a 42.42%,#b1ff4e 49.53%,#c1ff3e 57.11%,#e8ff17 66.11%,#fffd00 70.38%,#ff9100 88.39%,#ff6000 99.29%,#ff5e00 99.76%)"></i>
<i style="background:linear-gradient(90deg,#b90000 0.237%,#fe0000 4.502%,#ff6800 11.61%,#ffb000 17.77%,#ffed00 24.88%,#fcff03 27.73%,#ceff31 35.78%,#b7ff48 42.89%,#b4ff4b 50%,#c5ff3a 57.58%,#ecff13 66.59%,#fffc00 70.38%,#ff8e00 88.86%,#ff5e00 99.76%)"></i>
<i style="background:linear-gradient(90deg,#b80000 0.237%,#fd0000 4.502%,#ff7200 12.56%,#ffb600 18.72%,#fff400 26.3%,#fdff02 28.2%,#d0ff2f 36.26%,#baff45 43.36%,#b8ff47 50.47%,#c9ff36 58.06%,#f3ff0c 67.54%,#fffd00 69.91%,#ff8d00 88.86%,#ff5e00 99.76%)"></i>
<i style="background:linear-gradient(90deg,#b70000 0.237%,#fc0000 4.502%,#ff1200 5.924%,#ff6f00 12.56%,#ffb300 18.72%,#fff100 26.3%,#fdff02 28.67%,#d1ff2e 36.73%,#bdff42 43.84%,#bbff44 50.95%,#ceff31 59%,#faff05 68.48%,#fffc00 69.91%,#ff8c00 88.86%,#ff5e00 99.76%)"></i>
<i style="background:linear-gradient(90deg,#b70000 0.237%,#ff0200 4.976%,#ff6600 12.09%,#ffab00 18.25%,#ffea00 25.83%,#fdff02 29.15%,#d3ff2c 37.2%,#c0ff3f 44.31%,#bfff40 51.42%,#d2ff2d 59.48%,#fffd00 69.43%,#ff8c00 88.86%,#ff5e00 99.76%)"></i>
<i style="background:linear-gradient(90deg,#b60000 0.237%,#ff0100 4.976%,#ff6300 12.09%,#ffac00 18.72%,#ffea00 26.3%,#feff01 29.62%,#d4ff2b 37.68%,#c2ff3d 44.79%,#c2ff3d 51.9%,#d6ff29 59.95%,#fffe00 68.96%,#ff8b00 88.86%,#ff5e00 99.76%)"></i>
<i style="background:linear-gradient(90deg,#b50000 0.237%,#fe0000 4.976%,#ff6700 12.56%,#ffae00 19.19%,#ffee00 27.25%,#feff01 30.09%,#d6ff29 38.15%,#c5ff3a 45.26%,#c6ff39 52.84%,#dcff23 60.9%,#fffc00 68.96%,#ff8b00 88.86%,#ff5d00 99.76%)"></i>
<i style="background:linear-gradient(90deg,#b50000 0.237%,#fd0000 4.976%,#ff6f00 13.51%,#ffb300 20.14%,#fff100 28.2%,#feff01 30.57%,#daff25 38.15%,#c8ff37 45.73%,#caff35 53.32%,#e0ff1f 61.37%,#fffd00 68.48%,#ff8a00 88.86%,#ff5d00 99.76%)"></i>
<i style="background:linear-gradient(90deg,#b40000 0.237%,#fb0000 4.976%,#ff1100 6.398%,#ff6d00 13.51%,#ffb000 20.14%,#ffee00 28.2%,#fcff03 31.52%,#daff25 39.1%,#caff35 46.68%,#ceff31 54.27%,#e6ff19 62.32%,#fffe00 68.01%,#ff8700 89.34%,#ff5d00 99.76%)"></i>
<i style="background:linear-gradient(90deg,#b30000 0.237%,#ff0200 5.45%,#ff6500 13.03%,#ffa900 19.67%,#ffe700 27.73%,#fdff02 31.99%,#dbff24 39.57%,#cdff32 47.16%,#d2ff2d 54.74%,#eaff15 62.8%,#fffc00 68.01%,#ff8700 89.34%,#ff5d00 99.76%)"></i>
<i style="background:linear-gradient(90deg,#b30000 0.237%,#ff0000 5.45%,#ff6200 13.03%,#ffaa00 20.14%,#ffe700 28.2%,#fdff02 32.46%,#dcff23 40.52%,#cfff30 48.1%,#d6ff29 55.69%,#f2ff0d 64.22%,#fffd00 67.54%,#ff8600 89.34%,#ff5d00 99.76%)"></i>
<i style="background:linear-gradient(90deg,#b20000 0.237%,#fe0000 5.45%,#ff6a00 13.98%,#ffb000 21.09%,#ffea00 29.15%,#feff01 32.94%,#deff21 41%,#d2ff2d 48.58%,#daff25 56.16%,#f6ff09 64.69%,#fffd00 67.06%,#ff8500 89.34%,#ff5d00 99.76%)"></i>
<i style="background:linear-gradient(90deg,#b10000 0.237%,#fc0000 5.45%,#ff3600 9.716%,#ff8600 16.82%,#ffc700 24.41%,#fffd00 32.94%,#ddff22 42.42%,#d5ff2a 50%,#dfff20 57.58%,#fffd00 66.59%,#ff8500 89.34%,#ff5d00 99.76%)"></i>
<i style="background:linear-gradient(90deg,#b00000 0.237%,#ff0200 5.924%,#ff6000 13.51%,#ffa600 20.62%,#ffe100 28.67%,#fdff02 34.36%,#e1ff1e 42.42%,#d8ff27 50%,#e2ff1d 57.58%,#fffe00 66.11%,#ff8200 89.81%,#ff5d00 99.76%)"></i>
<i style="background:linear-gradient(90deg,#b00000 0.237%,#ff0100 5.924%,#ff5e00 13.51%,#ffa300 20.62%,#ffde00 28.67%,#feff01 34.83%,#e3ff1c 42.89%,#dbff24 50.47%,#e5ff1a 58.06%,#fffe00 65.64%,#ff8100 89.81%,#ff5d00 99.76%)"></i>
<i style="background:linear-gradient(90deg,#af0000 0.237%,#fe0000 5.924%,#ff6100 13.98%,#ffa900 21.56%,#ffe400 30.09%,#fdff02 35.78%,#e4ff1b 43.84%,#deff21 51.42%,#ecff13 59.48%,#fffe00 65.17%,#ff8100 89.81%,#ff5d00 99.76%)"></i>
<i style="background:linear-gradient(90deg,#ae0000 0.237%,#fd0000 5.924%,#ff6800 14.93%,#ffad00 22.51%,#ffe700 31.04%,#feff01 36.26%,#e6ff19 44.31%,#e1ff1e 51.9%,#efff10 59.95%,#fffe00 64.69%,#ff8000 89.81%,#ff5d00 99.76%)"></i>
<i style="background:linear-gradient(90deg,#ad0000 0.237%,#fc0000 5.924%,#ff0f00 7.346%,#ff6600 14.93%,#ffab00 22.51%,#ffe400 31.04%,#fdff02 37.2%,#e7ff18 45.26%,#e4ff1b 52.84%,#f5ff0a 60.9%,#fffd00 64.22%,#ff8000 89.81%,#ff5d00 99.76%)"></i>
<i style="background:linear-gradient(90deg,#ad0000 0.237%,#ff0100 6.398%,#ff5f00 14.45%,#ffa400 22.04%,#ffde00 30.57%,#feff01 37.68%,#e9ff16 45.73%,#e8ff17 53.79%,#faff05 61.85%,#fffb00 64.22%,#ff7f00 89.81%,#ff5d00 99.76%)"></i>
<i style="background:linear-gradient(90deg,#ac0000 0.237%,#ff0000 6.398%,#ff5d00 14.45%,#ffa200 22.04%,#ffdb00 30.57%,#ffff00 38.15%,#ebff14 46.68%,#ebff14 54.74%,#fffd00 63.27%,#ffbd00 76.54%,#ff7b00 90.76%,#ff5c00 99.76%)"></i>
<i style="background:linear-gradient(90deg,#ab0000 0.237%,#fe0000 6.398%,#ff6400 15.4%,#ffaa00 23.46%,#ffe000 31.99%,#ffff00 39.1%,#edff12 47.63%,#efff10 55.69%,#fffe00 62.32%,#ffc800 74.17%,#ff8000 89.34%,#ff5c00 99.76%)"></i>
<i style="background:linear-gradient(90deg,#ab0000 0.237%,#fc0000 6.398%,#ff4400 12.56%,#ff9100 20.62%,#ffce00 29.15%,#fff700 37.68%,#fcff03 41%,#efff10 49.05%,#f4ff0b 57.11%,#fffd00 61.85%,#ffcb00 73.22%,#ff7f00 89.34%,#ff5c00 99.76%)"></i>
<i style="background:linear-gradient(90deg,#aa0000 0.237%,#fb0000 6.398%,#ff0800 7.346%,#ff5f00 15.4%,#ffa500 23.46%,#ffdb00 31.99%,#fffc00 40.05%,#f1ff0e 50%,#f9ff06 58.06%,#fffc00 61.37%,#ffce00 72.27%,#ff8000 88.86%,#ff5c00 99.76%)"></i>
<i style="background:linear-gradient(90deg,#a90000 0.237%,#ff0100 6.872%,#ff5d00 15.4%,#ffa200 23.46%,#ffd800 31.99%,#fffa00 40.05%,#fcff03 43.36%,#f3ff0c 51.42%,#fdff02 59%,#ffe800 66.11%,#ff7f00 88.86%,#ff5c00 99.76%)"></i>
<i style="background:linear-gradient(90deg,#a90000 0.237%,#fe0000 6.872%,#ff5f00 15.88%,#ffa300 23.93%,#ffd800 32.46%,#fff800 40.52%,#fcff03 44.79%,#f6ff09 52.84%,#fffd00 59.48%,#ffd700 69.43%,#ff8000 88.39%,#ff5c00 99.76%)"></i>
<i style="background:linear-gradient(90deg,#a80000 0.237%,#fd0000 6.872%,#ff6600 16.82%,#ffaa00 25.36%,#ffdc00 33.89%,#fffb00 42.42%,#fbff04 47.16%,#fbff04 55.21%,#fffb00 59.48%,#ffd500 69.43%,#ff8000 88.39%,#ff5c00 99.76%)"></i>
<i style="background:linear-gradient(90deg,#a80000 0.237%,#fc0000 6.872%,#ff1200 8.768%,#ff6c00 17.77%,#ffae00 26.3%,#ffde00 34.83%,#fffa00 43.36%,#fcff03 48.58%,#fffc00 57.58%,#ffdf00 66.59%,#ff7f00 88.39%,#ff5c00 99.76%)"></i>
<i style="background:linear-gradient(90deg,#a70000 0.237%,#fb0000 6.872%,#ff0600 7.82%,#ff6100 16.82%,#ffa500 25.36%,#ffd700 33.89%,#fff600 42.42%,#feff01 49.53%,#fffb00 57.11%,#ffdf00 66.11%,#ff7e00 88.39%,#ff5c00 99.76%)"></i>
<i style="background:linear-gradient(90deg,#a70000 0.237%,#ff0000 7.346%,#ff5f00 16.82%,#ffa600 25.83%,#ffd700 34.36%,#fff400 42.89%,#fffe00 50.95%,#fff400 59%,#ffd100 68.96%,#ff7f00 87.91%,#ff5c00 99.76%)"></i>
<i style="background:linear-gradient(90deg,#a70000 0.237%,#fe0000 7.346%,#ff6500 17.77%,#ffaa00 26.78%,#ffd900 35.31%,#fff400 43.84%,#fffb00 51.9%,#ffef00 59.95%,#ffc600 70.85%,#ff7e00 87.91%,#ff5c00 99.76%)"></i>
<i style="background:linear-gradient(90deg,#a60000 0.237%,#fc0000 7.346%,#ff3700 13.03%,#ff8900 22.51%,#ffc400 31.52%,#ffe800 40.05%,#fff800 48.1%,#fff500 56.16%,#ffdd00 64.69%,#ff7d00 87.91%,#ff5b00 99.76%)"></i>
<i style="background:linear-gradient(90deg,#a60000 0.237%,#fb0000 7.346%,#ff0600 8.294%,#ff6400 18.25%,#ffa800 27.25%,#ffd600 35.78%,#fff000 44.31%,#fff600 52.37%,#ffe900 60.43%,#ffba00 72.75%,#ff7b00 88.39%,#ff5b00 99.76%)"></i>
<i style="background:linear-gradient(90deg,#a60000 0.237%,#fa0000 7.346%,#ff0500 8.294%,#ff6600 18.72%,#ffab00 28.2%,#ffd700 36.73%,#ffef00 44.79%,#fff400 52.84%,#ffe500 60.9%,#ffb100 74.17%,#ff7800 88.86%,#ff5b00 99.76%)"></i>
<i style="background:linear-gradient(90deg,#a60000 0.237%,#f40000 6.872%,#ff0300 8.294%,#ff6400 18.72%,#ffa900 28.2%,#ffd500 36.73%,#ffec00 44.79%,#fff100 52.84%,#ffe300 60.9%,#ffad00 74.64%,#ff7600 89.34%,#ff5b00 99.76%)"></i>
<i style="background:linear-gradient(90deg,#a60000 0.237%,#f30000 6.872%,#ff0200 8.294%,#ff6500 19.19%,#ffa900 28.67%,#ffd500 37.2%,#ffeb00 45.26%,#ffef00 53.32%,#ffdf00 61.37%,#ff7900 87.91%,#ff5b00 99.76%)"></i>
<i style="background:linear-gradient(90deg,#a60000 0.237%,#f10000 6.872%,#ff0000 8.294%,#ff6700 19.67%,#ffaa00 29.15%,#ffd400 37.68%,#ffe900 45.73%,#ffec00 53.79%,#ffda00 62.32%,#ff7a00 87.44%,#ff5a00 99.76%)"></i>
<i style="background:linear-gradient(90deg,#a50000 0.237%,#eb0000 6.398%,#fe0000 8.294%,#ff6c00 20.62%,#ffad00 30.09%,#ffd500 38.63%,#ffe900 46.68%,#ffe800 54.74%,#ffd200 63.74%,#ff7c00 86.49%,#ff5a00 99.76%)"></i>
<i style="background:linear-gradient(90deg,#a50000 0.237%,#ea0000 6.398%,#ff0200 8.768%,#ff6900 20.62%,#ffab00 30.09%,#ffd300 38.63%,#ffe600 46.68%,#ffe600 54.74%,#ffd000 63.74%,#ff7b00 86.49%,#ff5a00 99.76%)"></i>
<i style="background:linear-gradient(90deg,#a50000 0.237%,#e40000 5.924%,#ff0000 8.768%,#ff6b00 21.09%,#ffab00 30.57%,#ffd300 39.1%,#ffe500 47.16%,#ffe300 55.21%,#ffcc00 64.22%,#ff7b00 86.02%,#ff5a00 99.76%)"></i>
<i style="background:linear-gradient(90deg,#a40000 0.237%,#e30000 5.924%,#fe0000 8.768%,#ff7300 22.51%,#ffae00 31.52%,#ffd200 39.57%,#ffe300 47.63%,#ffe000 55.69%,#ffc600 65.17%,#ff7b00 85.55%,#ff5a00 99.76%)"></i>
<i style="background:linear-gradient(90deg,#a40000 0.237%,#dd0000 5.45%,#ff0100 9.242%,#ff6d00 22.04%,#ffac00 31.52%,#ffd000 39.57%,#ffe100 47.63%,#ffde00 55.21%,#ffc600 64.69%,#ff7a00 85.55%,#ff5900 99.76%)"></i>
<i style="background:linear-gradient(90deg,#a30000 0.237%,#dc0000 5.45%,#ff0000 9.242%,#ff7200 22.99%,#ffad00 31.99%,#ffcf00 40.05%,#ffdf00 47.63%,#ffdc00 55.21%,#ffc300 64.69%,#ff7a00 85.07%,#ff5900 99.76%)"></i>
<i style="background:linear-gradient(90deg,#a20000 0.237%,#df0000 5.924%,#ff0200 9.716%,#ff7300 23.46%,#ffad00 32.46%,#ffcf00 40.52%,#ffdd00 48.1%,#ffd900 55.69%,#ffbd00 65.64%,#ff7b00 84.6%,#ff5900 99.76%)"></i>
<i style="background:linear-gradient(90deg,#a00000 0.237%,#dd0000 5.924%,#ff0100 9.716%,#ff7400 23.93%,#ffad00 32.94%,#ffce00 41%,#ffdb00 48.58%,#ffd600 56.16%,#ffb600 67.06%,#ff7900 84.6%,#ff5900 99.76%)"></i>
<i style="background:linear-gradient(90deg,#9f0000 0.237%,#e00000 6.398%,#fe0000 9.716%,#ff7c00 25.36%,#ffb200 34.36%,#ffd000 42.42%,#ffda00 50%,#ffd000 58.06%,#ffa000 72.27%,#ff7300 86.49%,#ff5800 99.76%)"></i>
<i style="background:linear-gradient(90deg,#9d0000 0.237%,#df0000 6.398%,#ff0100 10.19%,#ff7a00 25.36%,#ffb000 34.36%,#ffce00 42.42%,#ffd800 50%,#ffcd00 58.06%,#ff9900 73.7%,#ff7000 87.44%,#ff5800 99.76%)"></i>
<i style="background:linear-gradient(90deg,#9c0000 0.237%,#dd0000 6.398%,#fe0000 10.19%,#ff7e00 26.3%,#ffb100 34.83%,#ffcd00 42.89%,#ffd600 50.47%,#ffca00 58.53%,#ff7600 84.6%,#ff5800 99.76%)"></i>
<i style="background:linear-gradient(90deg,#9b0000 0.237%,#e00000 6.872%,#ff0100 10.66%,#ff7c00 26.3%,#ffaf00 34.83%,#ffca00 42.42%,#ffd400 50%,#ffc900 58.06%,#ff7600 84.12%,#ff5800 99.76%)"></i>
<i style="background:linear-gradient(90deg,#990000 0.237%,#de0000 6.872%,#fe0000 10.66%,#ff8000 27.25%,#ffb100 35.78%,#ffcb00 43.36%,#ffd100 50.95%,#ffc400 59%,#ff7600 83.65%,#ff5700 99.76%)"></i>
<i style="background:linear-gradient(90deg,#980000 0.237%,#dc0000 6.872%,#ff0100 11.14%,#ff8100 27.73%,#ffaf00 35.78%,#ffc900 43.36%,#ffcf00 50.95%,#ffc200 59%,#ff7600 83.18%,#ff5700 99.76%)"></i>
<i style="background:linear-gradient(90deg,#960000 0.237%,#db0000 6.872%,#ff0000 11.14%,#ff8200 28.2%,#ffaf00 36.26%,#ffc800 43.84%,#ffcd00 51.42%,#ffbd00 59.95%,#ff7500 82.7%,#ff5700 99.76%)"></i>
<i style="background:linear-gradient(90deg,#950000 0.237%,#d90000 6.872%,#ff0200 11.61%,#ff8300 28.67%,#ffb000 36.73%,#ffc700 44.31%,#ffcb00 51.42%,#ffbb00 59.95%,#ff7500 82.23%,#ff5600 99.76%)"></i>
<i style="background:linear-gradient(90deg,#940000 0.237%,#d80000 6.872%,#ff0000 11.61%,#ff8400 29.15%,#ffb000 37.2%,#ffc600 44.79%,#ffc900 51.9%,#ffb700 60.43%,#ff7500 81.75%,#ff5600 99.76%)"></i>
<i style="background:linear-gradient(90deg,#930000 0.237%,#d60000 6.872%,#ff0100 12.09%,#ff8200 29.15%,#ffae00 37.2%,#ffc400 44.79%,#ffc700 51.9%,#ffb500 60.43%,#ff7500 81.28%,#ff5700 98.82%,#ff5600 99.76%)"></i>
<i style="background:linear-gradient(90deg,#930000 0.237%,#d90000 7.346%,#ff0000 12.09%,#ff8300 29.62%,#ffae00 37.68%,#ffc300 45.26%,#ffc500 52.37%,#ffb000 61.37%,#ff7500 80.81%,#ff5800 97.87%,#ff5600 99.76%)"></i>
<i style="background:linear-gradient(90deg,#920000 0.237%,#d80000 7.346%,#ff0100 12.56%,#ff8400 30.09%,#ffac00 37.68%,#ffc100 45.26%,#ffc300 52.37%,#ffae00 61.37%,#ff7500 80.33%,#ff5900 96.92%,#ff5500 99.76%)"></i>
<i style="background:linear-gradient(90deg,#910000 0.237%,#d70000 7.346%,#fe0000 12.56%,#ff8500 30.57%,#ffac00 38.15%,#ffc000 45.73%,#ffc000 52.84%,#ffa900 62.32%,#ff7300 80.33%,#ff5800 96.92%,#ff5500 99.76%)"></i>
<i style="background:linear-gradient(90deg,#910000 0.237%,#d20000 6.872%,#ff0100 13.03%,#ff8400 30.57%,#ffaa00 38.15%,#ffbe00 45.73%,#ffbe00 52.84%,#ffa600 62.32%,#ff7300 79.86%,#ff5900 95.97%,#ff5500 99.76%)"></i>
<i style="background:linear-gradient(90deg,#910000 0.237%,#d10000 6.872%,#fe0000 13.03%,#ff8500 31.04%,#ffaa00 38.63%,#ffbd00 46.21%,#ffbc00 53.32%,#ff9e00 64.22%,#ff7000 80.81%,#ff5600 97.87%,#ff5400 99.76%)"></i>
<i style="background:linear-gradient(90deg,#900000 0.237%,#d00000 6.872%,#ff0100 13.51%,#ff8300 31.04%,#ffa900 38.63%,#ffbb00 46.21%,#ffba00 53.32%,#ff9c00 64.22%,#ff7000 80.33%,#ff5700 96.92%,#ff5400 99.76%)"></i>
<i style="background:linear-gradient(90deg,#900000 0.237%,#cf0000 6.872%,#fe0000 13.51%,#ff8100 31.04%,#ffa700 38.63%,#ffba00 46.21%,#ffb800 53.32%,#ff9800 64.69%,#ff6d00 80.81%,#ff5600 97.87%,#ff5400 99.76%)"></i>
<i style="background:linear-gradient(90deg,#900000 0.237%,#ce0000 6.872%,#ff0100 13.98%,#ff7f00 31.04%,#ffa500 38.63%,#ffb800 46.21%,#ffb600 53.32%,#ff9500 65.17%,#ff6b00 81.28%,#ff5400 99.29%,#ff5400 99.76%)"></i>
<i style="background:linear-gradient(90deg,#8f0000 0.237%,#c90000 6.398%,#fe0000 13.98%,#ff8000 31.52%,#ffa500 39.1%,#ffb700 46.68%,#ffb400 53.79%,#ff7300 77.01%,#ff5a00 92.18%,#ff5300 99.76%)"></i>
<i style="background:linear-gradient(90deg,#8f0000 0.237%,#c90000 6.398%,#ff0100 14.45%,#ff7e00 31.52%,#ffa300 39.1%,#ffb500 46.68%,#ffb200 53.79%,#ff7300 76.54%,#ff5a00 91.71%,#ff5300 99.76%)"></i>
<i style="background:linear-gradient(90deg,#8f0000 0.237%,#c80000 6.398%,#ff0300 14.93%,#ff7d00 31.52%,#ffa200 39.1%,#ffb300 46.68%,#ffb100 53.32%,#ff7200 76.07%,#ff5a00 91.23%,#ff5300 99.76%)"></i>
<i style="background:linear-gradient(90deg,#8e0000 0.237%,#c40000 5.924%,#ff0100 14.93%,#ff7b00 31.52%,#ff9e00 38.63%,#ffb100 46.21%,#ffb000 52.84%,#ff9400 62.8%,#ff6d00 77.96%,#ff5800 93.13%,#ff5200 99.76%)"></i>
<i style="background:linear-gradient(90deg,#8e0000 0.237%,#c40000 5.924%,#fe0000 14.93%,#ff3a00 22.99%,#ff7c00 31.99%,#ff9e00 39.1%,#ffaf00 46.68%,#ffae00 53.32%,#ff7400 74.17%,#ff5a00 89.81%,#ff5200 99.76%)"></i>
<i style="background:linear-gradient(90deg,#8e0000 0.237%,#bf0000 5.45%,#ff0100 15.4%,#ff4400 24.41%,#ff7d00 32.46%,#ff9e00 39.57%,#ffae00 47.16%,#ffab00 53.79%,#ff7600 72.75%,#ff5a00 89.34%,#ff5200 99.76%)"></i>
<i style="background:linear-gradient(90deg,#8e0000 0.237%,#bf0000 5.45%,#fe0000 15.4%,#ff2f00 22.04%,#ff7200 31.04%,#ff9700 38.15%,#ffab00 45.73%,#ffab00 52.84%,#ff8e00 62.8%,#ff6900 78.44%,#ff5600 93.6%,#ff5200 99.76%)"></i>
<i style="background:linear-gradient(90deg,#8d0000 0.237%,#bb0000 4.976%,#fc0000 15.4%,#ff1700 19.19%,#ff6e00 30.57%,#ff9300 37.68%,#ffa800 45.26%,#ffaa00 52.37%,#ff9400 60.43%,#ff7100 73.7%,#ff5800 89.81%,#ff5100 99.76%)"></i>
<i style="background:linear-gradient(90deg,#8d0000 0.237%,#ba0000 4.976%,#fe0000 15.88%,#ff2800 21.56%,#ff6c00 30.57%,#ff9100 37.68%,#ffa600 45.26%,#ffa800 52.37%,#ff9400 59.95%,#ff7300 72.27%,#ff5800 89.34%,#ff5100 99.76%)"></i>
<i style="background:linear-gradient(90deg,#8c0000 0.237%,#ba0000 4.976%,#ff0000 16.35%,#ff3900 23.93%,#ff7300 31.99%,#ff9400 39.1%,#ffa600 46.68%,#ffa400 53.79%,#ff7700 69.43%,#ff5900 87.44%,#ff5100 99.76%)"></i>
<i style="height:3px;background:linear-gradient(90deg,#8b0000 0.237%,#b60000 4.502%,#ed0000 13.51%,#ff0200 16.82%,#ff6b00 31.04%,#ff8f00 38.15%,#ffa300 45.73%,#ffa400 52.84%,#ff7400 70.38%,#ff5800 88.39%,#ff5100 99.76%)"></i>
</div>
<div class="cb" style="left:281.3px;top:21px;width:24.6px;height:173px;background-image:linear-gradient(180deg,#800000 0.000%,#9f0000 3.125%,#bf0000 6.250%,#df0000 9.375%,#ff0000 12.500%,#ff2000 15.625%,#ff4000 18.750%,#ff6000 21.875%,#ff8000 25.000%,#ff9f00 28.125%,#ffbf00 31.250%,#ffdf00 34.375%,#ffff00 37.500%,#dfff20 40.625%,#bfff40 43.750%,#9fff60 46.875%,#80ff80 50.000%,#60ff9f 53.125%,#40ffbf 56.250%,#20ffdf 59.375%,#00ffff 62.500%,#00dfff 65.625%,#00bfff 68.750%,#009fff 71.875%,#0080ff 75.000%,#0060ff 78.125%,#0040ff 81.250%,#0020ff 84.375%,#0000ff 87.500%,#0000df 90.625%,#0000bf 93.750%,#00009f 96.875%,#000080 100.000%)"></div>
<div class="pl" style="left:390.75px;top:20.75px;width:211.4px;height:172.5px">
<i style="background:linear-gradient(90deg,#bcff43 0.237%,#f5ff0a 2.133%,#fff900 2.607%,#ff0000 9.716%,#c00000 12.09%,#9f0000 13.98%,#950000 15.4%,#9c0000 16.82%,#b70000 18.72%,#ec0000 21.09%,#f80000 21.56%,#ff0600 22.04%,#ff8400 26.78%,#fff700 31.99%,#fcff03 32.46%,#32ffcd 40.52%,#02fffd 42.89%,#00ceff 46.68%,#00a2ff 51.9%,#001bff 71.8%,#0000ff 77.49%,#0000e2 88.86%,#0000cc 99.76%)"></i>
<i style="background:linear-gradient(90deg,#b7ff48 0.237%,#fffd00 2.607%,#ff1400 9.242%,#ff0500 9.716%,#e80000 10.66%,#bb0000 12.56%,#a40000 13.98%,#9a0000 15.4%,#a10000 16.82%,#bd0000 18.72%,#f20000 21.09%,#fe0000 21.56%,#ff9500 27.25%,#fffe00 31.99%,#2cffd3 40.52%,#05fffa 42.42%,#00f4ff 43.36%,#00c9ff 46.68%,#009aff 52.37%,#0019ff 71.8%,#0000ff 77.01%,#0000e3 87.44%,#0000cb 99.76%)"></i>
<i style="background:linear-gradient(90deg,#b3ff4c 0.237%,#fdff02 2.607%,#ff1900 9.242%,#fb0000 10.19%,#cb0000 12.09%,#ab0000 13.98%,#a20000 15.4%,#a80000 16.82%,#c30000 18.72%,#f80000 21.09%,#ff0500 21.56%,#ff9000 26.78%,#fffb00 31.52%,#edff12 32.46%,#31ffce 40.05%,#00ffff 42.42%,#00d5ff 45.26%,#00abff 49.53%,#0019ff 71.33%,#0000ff 76.54%,#0000e4 86.49%,#0000ca 99.76%)"></i>
<i style="background:linear-gradient(90deg,#afff50 0.237%,#faff05 2.607%,#fff400 3.081%,#ff1f00 9.242%,#ff0200 10.19%,#c80000 12.56%,#b30000 13.98%,#aa0000 15.4%,#b00000 16.82%,#ca0000 18.72%,#ff0000 21.09%,#ffa100 27.25%,#fff700 31.04%,#fcff03 31.52%,#2bffd4 40.05%,#03fffc 41.94%,#00eaff 43.36%,#00c1ff 46.68%,#0093ff 52.37%,#0012ff 72.27%,#0000fd 76.54%,#0000e2 86.49%,#0000c9 99.76%)"></i>
<i style="background:linear-gradient(90deg,#abff54 0.237%,#f6ff09 2.607%,#fff700 3.081%,#ff3400 8.768%,#ff0a00 10.19%,#fc0000 10.66%,#d10000 12.56%,#bc0000 13.98%,#b30000 15.4%,#b90000 16.82%,#d30000 18.72%,#fb0000 20.62%,#ff1400 21.56%,#ffa700 27.25%,#ffff00 31.04%,#25ffda 40.05%,#00fdff 41.94%,#00d2ff 44.79%,#00a7ff 49.05%,#0012ff 71.8%,#0000fd 76.07%,#0000e3 85.55%,#0000c8 99.76%)"></i>
<i style="background:linear-gradient(90deg,#a7ff58 0.237%,#f3ff0c 2.607%,#fffb00 3.081%,#ff3b00 8.768%,#ff0500 10.66%,#ed0000 11.61%,#cb0000 13.51%,#bf0000 14.93%,#c00000 16.35%,#d50000 18.25%,#f90000 20.14%,#ff0500 20.62%,#ffc500 28.2%,#fffb00 30.57%,#e1ff1e 31.99%,#29ffd6 39.57%,#02fffd 41.47%,#00c8ff 45.26%,#00a0ff 49.53%,#0010ff 71.8%,#0000fd 75.59%,#0000e4 84.6%,#0000c8 99.76%)"></i>
<i style="background:linear-gradient(90deg,#a3ff5c 0.237%,#ffff00 3.081%,#ff5100 8.294%,#ff0e00 10.66%,#ff0300 11.14%,#d60000 13.51%,#ca0000 14.93%,#cb0000 16.35%,#df0000 18.25%,#f90000 19.67%,#ff0400 20.14%,#ffd700 28.67%,#fff800 30.09%,#fbff04 30.57%,#23ffdc 39.57%,#06fff9 41%,#00fcff 41.47%,#00caff 44.79%,#00a0ff 49.05%,#000eff 71.8%,#0000fe 75.12%,#0000e4 84.12%,#0000c7 99.76%)"></i>
<i style="background:linear-gradient(90deg,#9eff61 0.237%,#fbff04 3.081%,#ffe300 4.028%,#ff4b00 8.768%,#ff0d00 11.14%,#ff0300 11.61%,#dc0000 13.98%,#d50000 15.4%,#da0000 16.82%,#f30000 18.72%,#fb0000 19.19%,#ff0f00 20.14%,#fff500 29.62%,#feff01 30.09%,#27ffd8 39.1%,#01fffe 41%,#00ccff 44.31%,#00a4ff 48.1%,#006eff 56.16%,#000aff 72.27%,#0000fc 75.12%,#0000e3 84.12%,#0000c6 99.76%)"></i>
<i style="background:linear-gradient(90deg,#99ff66 0.237%,#f6ff09 3.081%,#fff800 3.555%,#ff6200 8.294%,#ff2300 10.66%,#ff0500 12.09%,#fc0000 12.56%,#e50000 14.45%,#e20000 15.88%,#eb0000 17.3%,#ff0000 18.72%,#ff3b00 21.56%,#fffd00 29.62%,#21ffde 39.1%,#04fffb 40.52%,#00f2ff 41.47%,#00c2ff 44.79%,#0099ff 49.05%,#000bff 71.8%,#0000fc 74.64%,#0000e3 83.65%,#0000c6 99.76%)"></i>
<i style="background:linear-gradient(90deg,#94ff6b 0.237%,#fffd00 3.555%,#ff7900 7.82%,#ff2f00 10.66%,#ff0300 13.03%,#f00000 14.93%,#f10000 16.35%,#ff0000 17.77%,#ff2800 20.14%,#ffa200 25.36%,#fffb00 29.15%,#edff12 30.09%,#25ffda 38.63%,#00feff 40.52%,#00caff 43.84%,#00a2ff 47.63%,#0071ff 54.74%,#0007ff 72.27%,#0000fd 74.17%,#0000e3 83.18%,#0000c5 99.76%)"></i>
<i style="background:linear-gradient(90deg,#8eff71 0.237%,#fbff04 3.555%,#ffe500 4.502%,#ff7600 8.294%,#ff3200 11.14%,#ff1100 13.03%,#ff0000 14.93%,#ff0500 16.82%,#ff1c00 18.72%,#ff5400 21.56%,#fff900 28.67%,#faff05 29.15%,#1fffe0 38.63%,#02fffd 40.05%,#00c0ff 44.31%,#0097ff 48.58%,#0011ff 69.91%,#0000fe 73.7%,#0000e3 82.7%,#0000c5 99.76%)"></i>
<i style="background:linear-gradient(90deg,#89ff76 0.237%,#f4ff0b 3.555%,#fffb00 4.028%,#ff8d00 7.82%,#ff4900 10.66%,#ff2100 13.03%,#ff1000 14.93%,#ff1200 16.35%,#ff2500 18.25%,#ff5700 21.09%,#fff800 28.2%,#fbff04 28.67%,#22ffdd 38.15%,#06fff9 39.57%,#00fcff 40.05%,#00c8ff 43.36%,#009fff 47.16%,#006eff 54.27%,#0004ff 72.27%,#0000f7 75.12%,#0000dd 85.55%,#0000c4 99.76%)"></i>
<i style="background:linear-gradient(90deg,#83ff7c 0.237%,#faff05 4.028%,#ffe700 4.976%,#ff8c00 8.294%,#ff4e00 11.14%,#ff2c00 13.51%,#ff2100 15.4%,#ff2b00 17.3%,#ff4b00 19.67%,#ff9800 23.46%,#fff700 27.73%,#fcff03 28.2%,#1cffe3 38.15%,#00ffff 39.57%,#00cbff 42.89%,#00a1ff 46.68%,#0071ff 53.32%,#0004ff 71.8%,#0000fb 73.7%,#0000e1 82.7%,#0000c4 99.76%)"></i>
<i style="background:linear-gradient(90deg,#7dff82 0.237%,#ffff00 4.502%,#ffa400 7.82%,#ff6600 10.66%,#ff4200 13.03%,#ff3500 14.93%,#ff3900 16.82%,#ff5400 19.19%,#ff9200 22.51%,#fff800 27.25%,#fcff03 27.73%,#1fffe0 37.68%,#03fffc 39.1%,#00e9ff 40.52%,#00b5ff 44.31%,#008bff 49.05%,#0008ff 70.85%,#0000fc 73.22%,#0000e2 82.23%,#0000c3 99.76%)"></i>
<i style="background:linear-gradient(90deg,#76ff89 0.237%,#f6ff09 4.502%,#fffb00 4.976%,#ffa500 8.294%,#ff6e00 11.14%,#ff5000 13.51%,#ff4800 15.4%,#ff5000 17.3%,#ff6d00 19.67%,#ffb300 23.46%,#fff900 26.78%,#fbff04 27.25%,#19ffe6 37.68%,#00fdff 39.1%,#00c9ff 42.42%,#009bff 46.68%,#006aff 53.79%,#0004ff 71.33%,#0000f9 73.7%,#0000df 83.18%,#0000c3 99.76%)"></i>
<i style="background:linear-gradient(90deg,#70ff8f 0.237%,#f9ff06 4.976%,#fff800 5.45%,#ffb300 8.294%,#ff7e00 11.14%,#ff6300 13.51%,#ff5c00 15.4%,#ff6400 17.3%,#ff7f00 19.67%,#ffc200 23.46%,#fffb00 26.3%,#f0ff0f 27.25%,#13ffec 37.68%,#01fffe 38.63%,#00c5ff 42.42%,#0098ff 46.68%,#0064ff 54.27%,#0003ff 71.33%,#0000ed 77.01%,#0000c7 96.92%,#0000c3 99.76%)"></i>
<i style="background:linear-gradient(90deg,#69ff96 0.237%,#fbff04 5.45%,#ffeb00 6.398%,#ffae00 9.242%,#ff8900 11.61%,#ff7400 13.98%,#ff7300 16.35%,#ff8500 18.72%,#ffae00 21.56%,#fffe00 25.83%,#6dff92 32.94%,#04fffb 38.15%,#00f2ff 39.1%,#00bbff 42.89%,#0091ff 47.16%,#005dff 55.21%,#0002ff 71.33%,#0000e1 81.75%,#0000c2 99.76%)"></i>
<i style="background:linear-gradient(90deg,#62ff9d 0.237%,#fbff04 5.924%,#ffec00 6.872%,#ffb500 9.716%,#ff9600 12.09%,#ff8700 14.45%,#ff8900 16.82%,#ff9d00 19.19%,#ffce00 22.51%,#fcff03 25.36%,#06fff9 37.68%,#00fdff 38.15%,#00c3ff 41.94%,#0096ff 46.21%,#0062ff 53.79%,#0003ff 70.85%,#0000e7 78.91%,#0000c2 99.76%)"></i>
<i style="background:linear-gradient(90deg,#5affa5 0.237%,#efff10 5.924%,#faff05 6.398%,#ffef00 7.346%,#ffbe00 10.19%,#ffa500 12.56%,#ff9b00 14.93%,#ffa000 17.3%,#ffb500 19.67%,#ffe600 22.99%,#fffe00 24.41%,#9eff61 29.62%,#09fff6 37.2%,#00ffff 37.68%,#00bfff 41.94%,#0093ff 46.21%,#0060ff 53.79%,#0002ff 70.85%,#0000e1 81.28%,#0000c2 99.76%)"></i>
<i style="background:linear-gradient(90deg,#53ffac 0.237%,#e3ff1c 5.924%,#fffd00 7.346%,#ffcf00 10.19%,#ffb800 12.56%,#ffb000 15.4%,#ffb700 17.77%,#ffd300 20.62%,#fffd00 23.46%,#d2ff2d 26.3%,#02fffd 37.2%,#00bbff 41.94%,#0090ff 46.21%,#005eff 53.79%,#0003ff 70.38%,#0000e1 81.28%,#0000c2 99.76%)"></i>
<i style="background:linear-gradient(90deg,#4cffb3 0.237%,#d6ff29 5.924%,#fcff03 7.82%,#ffe600 9.716%,#ffce00 12.09%,#ffc400 14.93%,#ffcb00 17.77%,#ffe400 20.62%,#fffd00 22.51%,#c5ff3a 26.3%,#04fffb 36.73%,#00f3ff 37.68%,#00b7ff 41.94%,#0089ff 46.68%,#0054ff 55.21%,#0002ff 70.38%,#0000e2 80.81%,#0000c2 99.76%)"></i>
<i style="background:linear-gradient(90deg,#45ffba 0.237%,#caff35 5.924%,#fcff03 8.768%,#fff100 10.19%,#ffdc00 13.03%,#ffda00 16.35%,#ffe700 19.19%,#feff01 21.56%,#b9ff46 26.3%,#06fff9 36.26%,#00fdff 36.73%,#00bfff 41%,#0092ff 45.26%,#0064ff 51.9%,#0003ff 69.91%,#0000e1 81.28%,#0000c2 99.76%)"></i>
<i style="background:linear-gradient(90deg,#3fffc0 0.237%,#bdff42 5.924%,#ecff13 8.768%,#fffd00 10.66%,#ffed00 13.51%,#ffef00 17.3%,#fdff02 20.14%,#d0ff2f 23.93%,#7dff82 29.15%,#00feff 36.26%,#00baff 41%,#008bff 45.73%,#005aff 53.32%,#0002ff 69.91%,#0000e2 80.33%,#0000c2 99.76%)"></i>
<i style="background:linear-gradient(90deg,#39ffc6 0.237%,#b1ff4e 5.924%,#ddff22 8.768%,#f7ff08 11.61%,#ffff00 14.45%,#f9ff06 18.25%,#dfff20 21.56%,#a8ff57 25.83%,#41ffbe 31.99%,#00ffff 35.78%,#00bcff 40.52%,#008cff 45.26%,#005cff 52.37%,#0002ff 69.43%,#0000e2 80.81%,#0000c2 99.76%)"></i>
<i style="background:linear-gradient(90deg,#34ffcb 0.237%,#a5ff5a 5.924%,#ceff31 8.768%,#e6ff19 11.61%,#edff12 14.93%,#e8ff17 18.25%,#d0ff2f 21.56%,#9cff63 25.83%,#41ffbe 31.52%,#01fffe 35.31%,#00b7ff 40.52%,#0089ff 45.26%,#0058ff 52.84%,#0001ff 69.43%,#0000e3 79.86%,#0000c2 99.76%)"></i>
<i style="background:linear-gradient(90deg,#2fffd0 0.237%,#98ff67 5.924%,#bfff40 8.768%,#d5ff2a 11.61%,#dcff23 14.93%,#d5ff2a 18.72%,#bdff42 22.04%,#89ff76 26.3%,#28ffd7 32.46%,#01fffe 34.83%,#00b3ff 40.52%,#0086ff 45.26%,#0053ff 53.32%,#0000ff 69.43%,#0000e5 78.91%,#0000c2 99.76%)"></i>
<i style="background:linear-gradient(90deg,#29ffd6 0.237%,#8cff73 5.924%,#b5ff4a 9.242%,#c7ff38 12.09%,#ccff33 15.88%,#c3ff3c 19.19%,#a5ff5a 22.99%,#6aff95 27.73%,#02fffd 34.36%,#00b4ff 40.05%,#0083ff 45.26%,#004eff 53.79%,#0001ff 68.96%,#0000e4 79.38%,#0000c2 99.76%)"></i>
<i style="background:linear-gradient(90deg,#24ffdb 0.237%,#7aff85 5.45%,#a2ff5d 8.768%,#b7ff48 12.09%,#bcff43 16.35%,#afff50 20.14%,#8fff70 23.93%,#53ffac 28.67%,#02fffd 33.89%,#00b0ff 40.05%,#0080ff 45.26%,#0049ff 54.27%,#0000ff 68.96%,#0000e6 78.44%,#0000c2 99.76%)"></i>
<i style="background:linear-gradient(90deg,#1fffe0 0.237%,#6fff90 5.45%,#94ff6b 8.768%,#a8ff57 12.09%,#acff53 16.35%,#a0ff5f 20.14%,#82ff7d 23.93%,#49ffb6 28.67%,#03fffc 33.41%,#00abff 40.05%,#007dff 45.26%,#0044ff 54.74%,#0001ff 68.48%,#0000e5 78.91%,#0000c2 99.76%)"></i>
<i style="background:linear-gradient(90deg,#19ffe6 0.237%,#64ff9b 5.45%,#8aff75 9.242%,#9aff65 12.56%,#9dff62 16.82%,#90ff6f 20.62%,#6dff92 24.88%,#33ffcc 29.62%,#03fffc 32.94%,#00acff 39.57%,#007dff 44.79%,#0045ff 54.27%,#0002ff 68.01%,#0000e4 79.38%,#0000c2 99.76%)"></i>
<i style="background:linear-gradient(90deg,#14ffeb 0.237%,#59ffa6 5.45%,#7cff83 9.242%,#8dff72 13.03%,#8eff71 17.3%,#7cff83 21.56%,#58ffa7 25.83%,#16ffe9 31.04%,#02fffd 32.46%,#00a8ff 39.57%,#007aff 44.79%,#003eff 55.21%,#0001ff 68.01%,#0000e6 77.96%,#0000c2 99.76%)"></i>
<i style="background:linear-gradient(90deg,#0efff1 0.237%,#4effb1 5.45%,#72ff8d 9.716%,#80ff7f 13.98%,#7cff83 18.72%,#66ff99 22.99%,#3effc1 27.25%,#02fffd 31.99%,#00a8ff 39.1%,#007aff 44.31%,#003eff 54.74%,#0001ff 67.54%,#0000e5 78.44%,#0000c2 99.76%)"></i>
<i style="background:linear-gradient(90deg,#08fff7 0.237%,#43ffbc 5.45%,#64ff9b 9.716%,#72ff8d 13.98%,#6fff90 18.72%,#5bffa4 22.99%,#35ffca 27.25%,#01fffe 31.52%,#00a9ff 38.63%,#007bff 43.84%,#003eff 54.27%,#0002ff 67.06%,#0000e5 78.44%,#0000c2 99.76%)"></i>
<i style="background:linear-gradient(90deg,#02fffd 0.237%,#3dffc2 5.924%,#59ffa6 10.19%,#65ff9a 14.45%,#61ff9e 19.19%,#4cffb3 23.46%,#27ffd8 27.73%,#00ffff 31.04%,#00a9ff 38.15%,#007bff 43.36%,#003fff 53.79%,#0003ff 66.59%,#0000e6 78.44%,#0000c4 98.82%,#0000c2 99.76%)"></i>
<i style="background:linear-gradient(90deg,#00faff 0.237%,#06fff9 1.185%,#39ffc6 6.872%,#52ffad 11.61%,#59ffa6 16.35%,#4dffb2 21.09%,#2fffd0 25.83%,#00fdff 30.57%,#00a0ff 38.63%,#0075ff 43.84%,#0024ff 58.53%,#0000ff 67.06%,#0000e8 76.54%,#0000ca 95.5%,#0000c2 99.76%)"></i>
<i style="background:linear-gradient(90deg,#00f3ff 0.237%,#03fffc 1.659%,#31ffce 7.346%,#47ffb8 12.09%,#4cffb3 16.82%,#40ffbf 21.56%,#22ffdd 26.3%,#01fffe 29.62%,#0097ff 39.1%,#006bff 44.79%,#0011ff 62.32%,#0000fe 67.06%,#0000e7 77.01%,#0000cd 94.08%,#0000c2 99.76%)"></i>
<i style="background:linear-gradient(90deg,#00ebff 0.237%,#00feff 2.133%,#2bffd4 8.294%,#3dffc2 13.51%,#3dffc2 18.72%,#2bffd4 23.46%,#08fff7 28.2%,#00feff 29.15%,#0097ff 38.63%,#006cff 44.31%,#0011ff 61.85%,#0000fe 66.59%,#0000e8 76.54%,#0000d0 92.65%,#0000c2 99.76%)"></i>
<i style="background:linear-gradient(90deg,#00e3ff 0.237%,#01fffe 3.555%,#23ffdc 9.242%,#32ffcd 14.45%,#2fffd0 19.67%,#19ffe6 24.88%,#00ffff 28.2%,#008fff 39.1%,#0066ff 44.79%,#000dff 62.32%,#0000fd 66.59%,#0000e8 76.54%,#0000d2 91.71%,#0000c2 99.76%)"></i>
<i style="background:linear-gradient(90deg,#00daff 0.237%,#00fdff 4.502%,#21ffde 11.61%,#27ffd8 16.82%,#1dffe2 22.04%,#00feff 27.25%,#0087ff 39.57%,#005eff 45.73%,#000cff 62.32%,#0000fd 66.11%,#0000e8 76.07%,#0000d3 91.23%,#0000c2 99.76%)"></i>
<i style="background:linear-gradient(90deg,#00d2ff 0.237%,#00f9ff 5.45%,#04fffb 7.346%,#19ffe6 13.51%,#19ffe6 19.19%,#08fff7 24.41%,#00fcff 26.3%,#00cfff 31.52%,#0080ff 40.05%,#0056ff 46.68%,#000aff 62.32%,#0000fd 65.64%,#0000e9 75.59%,#0000d6 90.28%,#0000c2 99.76%)"></i>
<i style="background:linear-gradient(90deg,#00caff 0.237%,#00efff 5.45%,#02fffd 9.242%,#10ffef 14.93%,#0cfff3 20.62%,#00fdff 24.41%,#00deff 29.15%,#007cff 40.05%,#0051ff 47.16%,#0008ff 62.32%,#0000fc 65.64%,#0000e8 76.07%,#0000d7 89.81%,#0000c2 99.76%)"></i>
<i style="background:linear-gradient(90deg,#00c1ff 0.237%,#00e8ff 5.924%,#00ffff 12.09%,#05fffa 17.77%,#00fdff 22.04%,#00e4ff 27.25%,#0075ff 40.52%,#004aff 48.1%,#0009ff 61.85%,#0000fc 65.17%,#0000e8 75.59%,#0000d8 89.34%,#0000c2 99.76%)"></i>
<i style="background:linear-gradient(90deg,#00b9ff 0.237%,#00deff 5.924%,#00f6ff 13.03%,#00f8ff 19.19%,#00e8ff 24.88%,#00c6ff 30.09%,#0072ff 40.52%,#0046ff 48.58%,#0007ff 61.85%,#0000fd 64.69%,#0000e8 75.12%,#0000d9 88.86%,#0000c2 99.76%)"></i>
<i style="background:linear-gradient(90deg,#00b1ff 0.237%,#00d4ff 5.924%,#00ecff 13.03%,#00eeff 19.19%,#00dfff 24.88%,#00bfff 30.09%,#006bff 41%,#001bff 56.64%,#0000fe 63.74%,#0000e9 74.17%,#0000d9 88.86%,#0000c2 99.76%)"></i>
<i style="background:linear-gradient(90deg,#00a9ff 0.237%,#00cdff 6.398%,#00e3ff 13.51%,#00e4ff 19.67%,#00d4ff 25.36%,#00b1ff 31.04%,#0065ff 41.47%,#000bff 59.95%,#0000fd 63.74%,#0000e8 74.64%,#0000d9 88.86%,#0000c2 99.76%)"></i>
<i style="background:linear-gradient(90deg,#00a1ff 0.237%,#00c4ff 6.398%,#00d9ff 13.51%,#00daff 20.14%,#00caff 25.83%,#00a0ff 32.46%,#005aff 42.89%,#0007ff 60.43%,#0000fb 63.74%,#0000e8 74.64%,#0000d9 88.86%,#0000c2 99.76%)"></i>
<i style="background:linear-gradient(90deg,#0099ff 0.237%,#00bcff 6.398%,#00d0ff 13.51%,#00d1ff 20.14%,#00c1ff 25.83%,#0096ff 32.94%,#0052ff 43.84%,#0006ff 60.43%,#0000fa 63.74%,#0000e7 75.12%,#0000d8 88.86%,#0000c2 99.76%)"></i>
<i style="background:linear-gradient(90deg,#0092ff 0.237%,#00b3ff 6.398%,#00c7ff 13.98%,#00c7ff 21.09%,#00b5ff 26.78%,#004aff 44.79%,#0006ff 59.95%,#0000fa 63.27%,#0000e7 74.64%,#0000d8 88.86%,#0000c2 99.76%)"></i>
<i style="background:linear-gradient(90deg,#008bff 0.237%,#00adff 6.872%,#00bfff 14.45%,#00bdff 21.56%,#00abff 27.25%,#0042ff 45.73%,#0004ff 59.95%,#0000f9 63.27%,#0000e7 75.12%,#0000d7 89.34%,#0000c2 99.76%)"></i>
<i style="background:linear-gradient(90deg,#0084ff 0.237%,#00a5ff 6.872%,#00b6ff 14.45%,#00b4ff 22.04%,#00a2ff 27.73%,#0039ff 47.16%,#0003ff 59.95%,#0000e8 73.22%,#0000d8 88.86%,#0000c1 99.76%)"></i>
<i style="background:linear-gradient(90deg,#007eff 0.237%,#009dff 6.872%,#00aeff 14.45%,#00acff 22.04%,#0099ff 28.2%,#002bff 49.53%,#0001ff 59.95%,#0000e9 71.8%,#0000d7 88.86%,#0000c1 99.76%)"></i>
<i style="background:linear-gradient(90deg,#0078ff 0.237%,#0097ff 7.346%,#00a7ff 15.4%,#00a3ff 22.99%,#008eff 29.15%,#001eff 51.9%,#0000ff 59.95%,#0000ea 70.38%,#0000d6 89.34%,#0000c1 99.76%)"></i>
<i style="background:linear-gradient(90deg,#0073ff 0.237%,#0090ff 7.346%,#009fff 15.4%,#009bff 23.46%,#0084ff 30.09%,#0013ff 53.79%,#0000fd 59.95%,#0000e9 70.85%,#0000d6 89.34%,#0000c1 99.76%)"></i>
<i style="background:linear-gradient(90deg,#006eff 0.237%,#008bff 7.82%,#0098ff 15.88%,#0093ff 23.93%,#0078ff 31.52%,#000fff 54.27%,#0000fd 59.48%,#0000e9 70.85%,#0000d5 89.34%,#0000c0 99.76%)"></i>
<i style="background:linear-gradient(90deg,#0069ff 0.237%,#0084ff 7.82%,#0091ff 16.35%,#008cff 24.41%,#006aff 33.89%,#000cff 54.27%,#0000fd 59%,#0000e9 70.38%,#0000d5 89.34%,#0000c0 99.76%)"></i>
<i style="background:linear-gradient(90deg,#0064ff 0.237%,#007fff 8.294%,#008aff 16.82%,#0086ff 24.41%,#0064ff 34.36%,#000cff 53.79%,#0000fd 58.53%,#0000e8 70.38%,#0000d5 89.34%,#0000c0 99.76%)"></i>
<i style="background:linear-gradient(90deg,#0060ff 0.237%,#0079ff 8.294%,#0084ff 16.82%,#007fff 24.88%,#0057ff 36.73%,#000aff 53.79%,#0000fc 58.06%,#0000e8 70.38%,#0000d4 89.34%,#0000bf 99.76%)"></i>
<i style="background:linear-gradient(90deg,#005cff 0.237%,#0074ff 8.768%,#007eff 17.3%,#0079ff 24.88%,#0053ff 36.73%,#0009ff 53.32%,#0000fc 57.58%,#0000e8 70.38%,#0000d4 89.34%,#0000bf 99.76%)"></i>
<i style="background:linear-gradient(90deg,#0058ff 0.237%,#0070ff 9.242%,#0078ff 18.25%,#0072ff 25.83%,#004aff 38.15%,#0007ff 53.32%,#0000fd 56.64%,#0000e8 69.91%,#0000d3 89.34%,#0000bf 99.76%)"></i>
<i style="background:linear-gradient(90deg,#0054ff 0.237%,#006bff 9.716%,#0073ff 19.19%,#006aff 26.78%,#0045ff 38.63%,#0005ff 53.32%,#0000fa 57.11%,#0000e6 71.8%,#0000d3 89.34%,#0000be 99.76%)"></i>
<i style="background:linear-gradient(90deg,#0050ff 0.237%,#0067ff 10.19%,#006eff 20.14%,#0062ff 28.2%,#0040ff 39.1%,#0003ff 53.32%,#0000e8 68.48%,#0000d3 88.86%,#0000be 99.76%)"></i>
<i style="background:linear-gradient(90deg,#004cff 0.237%,#0063ff 11.14%,#0068ff 21.09%,#0059ff 30.09%,#003bff 39.57%,#0002ff 52.84%,#0000e7 69.91%,#0000d2 89.34%,#0000be 99.76%)"></i>
<i style="background:linear-gradient(90deg,#0049ff 0.237%,#005fff 12.09%,#0063ff 22.04%,#004fff 32.46%,#0034ff 40.52%,#0001ff 52.84%,#0000e8 68.01%,#0000d2 88.86%,#0000bd 99.76%)"></i>
<i style="background:linear-gradient(90deg,#0045ff 0.237%,#005cff 13.51%,#005eff 22.51%,#0046ff 34.83%,#0025ff 43.36%,#0000fe 52.84%,#0000e9 67.06%,#0000d2 88.86%,#0000bd 99.76%)"></i>
<i style="background:linear-gradient(90deg,#0042ff 0.237%,#0059ff 14.93%,#0059ff 23.46%,#003dff 36.73%,#0000fe 52.37%,#0000ea 65.64%,#0000d2 88.39%,#0000bd 99.76%)"></i>
<i style="background:linear-gradient(90deg,#003eff 0.237%,#0056ff 16.35%,#0053ff 24.88%,#0037ff 37.68%,#0000fe 51.9%,#0000eb 63.74%,#0000d2 88.39%,#0000bc 99.76%)"></i>
<i style="background:linear-gradient(90deg,#003aff 0.237%,#0052ff 17.3%,#004dff 25.83%,#0032ff 38.15%,#0000ff 51.42%,#0000ed 62.32%,#0000d1 88.39%,#0000bc 99.76%)"></i>
<i style="background:linear-gradient(90deg,#0036ff 0.237%,#004fff 17.77%,#0047ff 26.78%,#002dff 38.63%,#0000ff 50.95%,#0000ed 61.37%,#0000d2 87.91%,#0000bb 99.76%)"></i>
<i style="background:linear-gradient(90deg,#0032ff 0.237%,#004bff 18.25%,#0041ff 28.2%,#0028ff 39.1%,#0000fe 50.95%,#0000ec 61.85%,#0000d1 87.91%,#0000bb 99.76%)"></i>
<i style="background:linear-gradient(90deg,#002eff 0.237%,#0047ff 18.72%,#0039ff 30.57%,#0020ff 40.52%,#0000fe 50.47%,#0000ed 61.37%,#0000d1 87.91%,#0000ba 99.76%)"></i>
<i style="background:linear-gradient(90deg,#002aff 0.237%,#0043ff 18.72%,#0035ff 31.04%,#001aff 41.47%,#0000fe 50%,#0000ed 60.9%,#0000d1 87.44%,#0000ba 99.76%)"></i>
<i style="background:linear-gradient(90deg,#0026ff 0.237%,#003fff 19.19%,#002eff 32.94%,#000bff 45.26%,#0000fd 50%,#0000ec 61.85%,#0000d1 87.44%,#0000b9 99.76%)"></i>
<i style="background:linear-gradient(90deg,#0022ff 0.237%,#003bff 18.72%,#002cff 31.99%,#000eff 43.84%,#0000fd 49.53%,#0000ec 61.37%,#0000d0 87.44%,#0000b9 99.76%)"></i>
<i style="background:linear-gradient(90deg,#001eff 0.237%,#0037ff 18.72%,#0029ff 31.99%,#0000fd 49.05%,#0000ec 61.37%,#0000d1 86.97%,#0000b9 99.76%)"></i>
<i style="background:linear-gradient(90deg,#001aff 0.237%,#0033ff 18.25%,#0029ff 30.09%,#000dff 42.42%,#0000fd 48.58%,#0000eb 61.85%,#0000d0 86.97%,#0000b8 99.76%)"></i>
<i style="background:linear-gradient(90deg,#0016ff 0.237%,#002eff 17.77%,#0028ff 28.2%,#0010ff 40.52%,#0000fd 48.1%,#0000eb 62.32%,#0000cf 87.44%,#0000b8 99.76%)"></i>
<i style="background:linear-gradient(90deg,#0013ff 0.237%,#002aff 17.3%,#0026ff 26.78%,#0010ff 39.57%,#0000fd 47.16%,#0000ec 60.9%,#0000cf 86.97%,#0000b7 99.76%)"></i>
<i style="background:linear-gradient(90deg,#000fff 0.237%,#0025ff 16.35%,#0024ff 25.36%,#0010ff 38.63%,#0000fd 46.68%,#0000eb 61.85%,#0000cf 86.97%,#0000b7 99.76%)"></i>
<i style="background:linear-gradient(90deg,#000cff 0.237%,#001fff 14.45%,#0022ff 23.46%,#0010ff 37.2%,#0000fd 45.73%,#0000ec 60.43%,#0000cf 86.97%,#0000b6 99.76%)"></i>
<i style="background:linear-gradient(90deg,#0009ff 0.237%,#001aff 13.51%,#001eff 23.46%,#000eff 37.2%,#0000fd 45.26%,#0000eb 62.32%,#0000ce 86.97%,#0000b6 99.76%)"></i>
<i style="background:linear-gradient(90deg,#0005ff 0.237%,#0016ff 12.56%,#001aff 23.93%,#000aff 37.68%,#0000fd 44.31%,#0000ec 60.43%,#0000ce 86.97%,#0000b5 99.76%)"></i>
<i style="background:linear-gradient(90deg,#0003ff 0.237%,#0012ff 12.09%,#0017ff 23.93%,#0008ff 37.68%,#0000fc 43.84%,#0000d1 84.6%,#0000b5 99.76%)"></i>
<i style="background:linear-gradient(90deg,#0000ff 0.237%,#000eff 12.09%,#0013ff 24.88%,#0004ff 38.63%,#0000f9 44.79%,#0000d4 82.7%,#0000b5 99.76%)"></i>
<i style="background:linear-gradient(90deg,#0000fd 0.237%,#0011ff 21.56%,#0007ff 35.78%,#0000fb 42.42%,#0000d6 81.28%,#0000b4 99.76%)"></i>
<i style="background:linear-gradient(90deg,#0000fa 0.237%,#0004ff 6.398%,#000dff 24.88%,#0000fd 40.05%,#0000ef 55.21%,#0000d3 83.18%,#0000b4 99.76%)"></i>
<i style="background:linear-gradient(90deg,#0000f8 0.237%,#0002ff 6.872%,#000aff 25.83%,#0000fc 39.1%,#0000ee 54.74%,#0000d7 79.38%,#0000b3 99.76%)"></i>
<i style="background:linear-gradient(90deg,#0000f7 0.237%,#0001ff 9.242%,#0007ff 26.78%,#0000fc 38.15%,#0000ee 53.79%,#0000df 72.27%,#0000c5 90.76%,#0000b3 99.76%)"></i>
<i style="background:linear-gradient(90deg,#0000f5 0.237%,#0000ff 12.09%,#0005ff 27.25%,#0000fc 37.2%,#0000ee 53.32%,#0000e1 69.91%,#0000c8 88.86%,#0000b3 99.76%)"></i>
<i style="background:linear-gradient(90deg,#0000f3 0.237%,#0000fc 12.56%,#0001ff 31.04%,#0000ed 53.79%,#0000df 71.33%,#0000c6 89.81%,#0000b2 99.76%)"></i>
<i style="background:linear-gradient(90deg,#0000f2 0.237%,#0000fa 12.56%,#0000ff 28.67%,#0000ec 53.79%,#0000df 71.8%,#0000c5 89.81%,#0000b2 99.76%)"></i>
<i style="background:linear-gradient(90deg,#0000f0 0.237%,#0000f8 13.03%,#0000fd 29.15%,#0000eb 53.79%,#0000de 72.27%,#0000c4 90.28%,#0000b2 99.76%)"></i>
<i style="background:linear-gradient(90deg,#0000ef 0.237%,#0000f7 14.93%,#0000fb 29.62%,#0000eb 54.27%,#0000db 74.64%,#0000bf 92.65%,#0000b2 99.76%)"></i>
<i style="background:linear-gradient(90deg,#0000ee 0.237%,#0000fa 24.88%,#0000f1 40.52%,#0000e0 68.48%,#0000c9 87.44%,#0000b1 99.76%)"></i>
<i style="background:linear-gradient(90deg,#0000ed 0.237%,#0000f8 27.25%,#0000e9 56.16%,#0000d2 81.75%,#0000b1 99.76%)"></i>
<i style="background:linear-gradient(90deg,#0000eb 0.237%,#0000f6 29.15%,#0000e8 55.69%,#0000d3 80.33%,#0000b1 99.76%)"></i>
<i style="background:linear-gradient(90deg,#0000ea 0.237%,#0000f5 29.62%,#0000e7 55.69%,#0000d3 80.33%,#0000b1 99.76%)"></i>
<i style="background:linear-gradient(90deg,#0000e9 0.237%,#0000f3 30.09%,#0000e6 56.16%,#0000d1 81.28%,#0000b0 99.76%)"></i>
<i style="background:linear-gradient(90deg,#0000e8 0.237%,#0000f2 30.09%,#0000e5 57.11%,#0000cf 82.23%,#0000b0 99.76%)"></i>
<i style="background:linear-gradient(90deg,#0000e7 0.237%,#0000f1 30.09%,#0000e4 58.06%,#0000ce 82.7%,#0000b0 99.76%)"></i>
<i style="background:linear-gradient(90deg,#0000e6 0.237%,#0000f0 30.09%,#0000d9 71.8%,#0000c2 89.34%,#0000b0 99.76%)"></i>
<i style="background:linear-gradient(90deg,#0000e5 0.237%,#0000ef 30.09%,#0000d8 72.27%,#0000c1 89.81%,#0000af 99.76%)"></i>
<i style="background:linear-gradient(90deg,#0000e4 0.237%,#0000ee 30.09%,#0000d7 72.75%,#0000bf 90.76%,#0000af 99.76%)"></i>
<i style="background:linear-gradient(90deg,#0000e2 0.237%,#0000ed 29.62%,#0000d6 73.22%,#0000be 91.23%,#0000af 99.76%)"></i>
<i style="background:linear-gradient(90deg,#0000e1 0.237%,#0000ec 29.62%,#0000d5 73.7%,#0000bb 92.65%,#0000af 99.76%)"></i>
<i style="background:linear-gradient(90deg,#0000e0 0.237%,#0000eb 29.62%,#0000d4 74.17%,#0000b9 93.6%,#0000ae 99.76%)"></i>
<i style="background:linear-gradient(90deg,#0000de 0.237%,#0000eb 29.15%,#0000d3 74.64%,#0000b6 95.02%,#0000ae 99.76%)"></i>
<i style="background:linear-gradient(90deg,#0000dd 0.237%,#0000ea 29.15%,#0000d1 75.12%,#0000b3 96.45%,#0000ae 99.76%)"></i>
<i style="background:linear-gradient(90deg,#0000db 0.237%,#0000e9 29.15%,#0000d0 75.59%,#0000af 98.82%,#0000ae 99.76%)"></i>
<i style="background:linear-gradient(90deg,#0000da 0.237%,#0000e8 29.15%,#0000cf 76.07%,#0000ad 99.76%)"></i>
<i style="background:linear-gradient(90deg,#0000d8 0.237%,#0000e7 28.67%,#0000ce 76.54%,#0000ad 99.76%)"></i>
<i style="background:linear-gradient(90deg,#0000d7 0.237%,#0000e6 28.67%,#0000cd 76.54%,#0000ad 99.76%)"></i>
<i style="background:linear-gradient(90deg,#0000d5 0.237%,#0000e4 28.67%,#0000cc 77.01%,#0000ad 99.76%)"></i>
<i style="background:linear-gradient(90deg,#0000d4 0.237%,#0000e3 28.67%,#0000cb 77.01%,#0000ac 99.76%)"></i>
<i style="background:linear-gradient(90deg,#0000d2 0.237%,#0000e2 28.2%,#0000ca 77.49%,#0000ac 99.76%)"></i>
<i style="background:linear-gradient(90deg,#0000d1 0.237%,#0000e1 27.73%,#0000c9 77.49%,#0000ac 99.76%)"></i>
<i style="background:linear-gradient(90deg,#0000cf 0.237%,#0000e0 26.78%,#0000c9 77.01%,#0000ac 99.76%)"></i>
<i style="background:linear-gradient(90deg,#0000ce 0.237%,#0000df 25.83%,#0000c8 77.01%,#0000ab 99.76%)"></i>
<i style="background:linear-gradient(90deg,#0000cc 0.237%,#0000dd 24.88%,#0000c8 76.07%,#0000ab 99.76%)"></i>
<i style="background:linear-gradient(90deg,#0000cb 0.237%,#0000dc 23.46%,#0000c9 74.17%,#0000af 96.92%,#0000ab 99.76%)"></i>
<i style="background:linear-gradient(90deg,#0000c9 0.237%,#0000da 22.51%,#0000cf 61.37%,#0000be 85.55%,#0000ab 99.76%)"></i>
<i style="background:linear-gradient(90deg,#0000c8 0.237%,#0000d8 21.56%,#0000d2 50.47%,#0000c1 82.7%,#0000aa 99.76%)"></i>
<i style="background:linear-gradient(90deg,#0000c7 0.237%,#0000d7 21.09%,#0000d2 48.58%,#0000c0 82.23%,#0000aa 99.76%)"></i>
<i style="background:linear-gradient(90deg,#0000c5 0.237%,#0000d6 20.62%,#0000d1 48.1%,#0000bf 82.7%,#0000aa 99.76%)"></i>
<i style="background:linear-gradient(90deg,#0000c4 0.237%,#0000d4 19.67%,#0000d1 45.26%,#0000bf 82.7%,#0000aa 99.76%)"></i>
<i style="background:linear-gradient(90deg,#0000c3 0.237%,#0000d3 19.19%,#0000d0 45.26%,#0000be 82.7%,#0000aa 99.76%)"></i>
<i style="background:linear-gradient(90deg,#0000c2 0.237%,#0000d2 19.19%,#0000cf 47.16%,#0000bd 83.65%,#0000a9 99.76%)"></i>
<i style="background:linear-gradient(90deg,#0000c0 0.237%,#0000d1 18.72%,#0000ce 47.16%,#0000bc 83.65%,#0000a9 99.76%)"></i>
<i style="background:linear-gradient(90deg,#0000bf 0.237%,#0000cf 18.25%,#0000cd 47.16%,#0000bb 84.12%,#0000a9 99.76%)"></i>
<i style="background:linear-gradient(90deg,#0000be 0.237%,#0000ce 18.25%,#0000cc 48.1%,#0000ba 84.6%,#0000a9 99.76%)"></i>
<i style="background:linear-gradient(90deg,#0000bd 0.237%,#0000cd 18.25%,#0000cb 49.05%,#0000b9 85.07%,#0000a9 99.76%)"></i>
<i style="background:linear-gradient(90deg,#0000bc 0.237%,#0000cc 18.25%,#0000ca 49.53%,#0000b8 85.55%,#0000a8 99.76%)"></i>
<i style="background:linear-gradient(90deg,#0000bb 0.237%,#0000cb 18.25%,#0000c9 50%,#0000b8 85.55%,#0000a8 99.76%)"></i>
<i style="background:linear-gradient(90deg,#0000ba 0.237%,#0000ca 18.25%,#0000c8 50.47%,#0000b7 86.02%,#0000a8 99.76%)"></i>
<i style="background:linear-gradient(90deg,#0000b9 0.237%,#0000c9 18.25%,#0000c7 50.95%,#0000b6 86.49%,#0000a8 99.76%)"></i>
<i style="background:linear-gradient(90deg,#0000b8 0.237%,#0000c8 18.25%,#0000c6 50.95%,#0000b6 86.49%,#0000a8 99.76%)"></i>
<i style="background:linear-gradient(90deg,#0000b7 0.237%,#0000c7 18.25%,#0000c6 51.42%,#0000b5 86.97%,#0000a8 99.76%)"></i>
<i style="background:linear-gradient(90deg,#0000b6 0.237%,#0000c6 18.25%,#0000c5 51.9%,#0000b4 87.44%,#0000a8 99.76%)"></i>
<i style="background:linear-gradient(90deg,#0000b5 0.237%,#0000c5 18.25%,#0000c4 51.9%,#0000b4 87.44%,#0000a8 99.76%)"></i>
<i style="background:linear-gradient(90deg,#0000b4 0.237%,#0000c4 18.25%,#0000c3 52.37%,#0000b3 87.91%,#0000a7 99.76%)"></i>
<i style="background:linear-gradient(90deg,#0000b4 0.237%,#0000c4 18.25%,#0000c2 52.37%,#0000b3 88.39%,#0000a7 99.76%)"></i>
<i style="background:linear-gradient(90deg,#0000b3 0.237%,#0000c3 18.25%,#0000c2 52.37%,#0000b2 88.39%,#0000a7 99.76%)"></i>
<i style="background:linear-gradient(90deg,#0000b2 0.237%,#0000c2 18.25%,#0000c1 52.84%,#0000b2 88.86%,#0000a7 99.76%)"></i>
<i style="background:linear-gradient(90deg,#0000b1 0.237%,#0000c1 18.25%,#0000c0 52.84%,#0000b1 88.86%,#0000a7 99.76%)"></i>
<i style="background:linear-gradient(90deg,#0000b0 0.237%,#0000c0 18.72%,#0000bf 54.27%,#0000b0 89.81%,#0000a7 99.76%)"></i>
<i style="background:linear-gradient(90deg,#0000b0 0.237%,#0000bf 18.72%,#0000be 54.74%,#0000b0 89.81%,#0000a7 99.76%)"></i>
<i style="background:linear-gradient(90deg,#0000af 0.237%,#0000bf 18.72%,#0000be 54.74%,#0000af 90.28%,#0000a7 99.76%)"></i>
<i style="background:linear-gradient(90deg,#0000ae 0.237%,#0000be 18.72%,#0000bd 55.21%,#0000af 90.76%,#0000a7 99.76%)"></i>
<i style="background:linear-gradient(90deg,#0000ae 0.237%,#0000bd 18.72%,#0000bc 55.69%,#0000ae 91.23%,#0000a7 99.76%)"></i>
<i style="background:linear-gradient(90deg,#0000ad 0.237%,#0000bc 18.72%,#0000bb 56.16%,#0000ae 91.23%,#0000a7 99.76%)"></i>
<i style="background:linear-gradient(90deg,#0000ac 0.237%,#0000bb 18.72%,#0000bb 56.16%,#0000ad 91.71%,#0000a6 99.76%)"></i>
<i style="background:linear-gradient(90deg,#0000ac 0.237%,#0000bb 18.72%,#0000ba 56.64%,#0000ad 92.18%,#0000a6 99.76%)"></i>
<i style="background:linear-gradient(90deg,#0000ab 0.237%,#0000ba 18.72%,#0000b9 57.58%,#0000ac 92.65%,#0000a6 99.76%)"></i>
<i style="background:linear-gradient(90deg,#0000aa 0.237%,#0000b9 18.72%,#0000b9 58.06%,#0000ac 93.13%,#0000a6 99.76%)"></i>
<i style="background:linear-gradient(90deg,#0000aa 0.237%,#0000b8 18.72%,#0000b8 58.53%,#0000ab 93.6%,#0000a6 99.76%)"></i>
<i style="background:linear-gradient(90deg,#0000a9 0.237%,#0000b8 18.72%,#0000b7 59%,#0000ab 94.08%,#0000a6 99.76%)"></i>
<i style="background:linear-gradient(90deg,#0000a9 0.237%,#0000b7 18.72%,#0000b7 59.48%,#0000aa 94.55%,#0000a6 99.76%)"></i>
<i style="background:linear-gradient(90deg,#0000a8 0.237%,#0000b6 18.72%,#0000b6 60.43%,#0000aa 95.02%,#0000a6 99.76%)"></i>
<i style="background:linear-gradient(90deg,#0000a7 0.237%,#0000b6 18.72%,#0000b5 60.9%,#0000a9 95.5%,#0000a6 99.76%)"></i>
<i style="background:linear-gradient(90deg,#0000a7 0.237%,#0000b5 18.72%,#0000b5 61.85%,#0000a9 95.97%,#0000a6 99.76%)"></i>
<i style="background:linear-gradient(90deg,#0000a6 0.237%,#0000b4 18.72%,#0000b4 62.32%,#0000a8 96.45%,#0000a5 99.76%)"></i>
<i style="background:linear-gradient(90deg,#0000a6 0.237%,#0000b3 18.72%,#0000b3 63.27%,#0000a8 96.92%,#0000a5 99.76%)"></i>
<i style="background:linear-gradient(90deg,#0000a5 0.237%,#0000b3 18.72%,#0000b3 64.22%,#0000a7 97.87%,#0000a5 99.76%)"></i>
<i style="background:linear-gradient(90deg,#0000a4 0.237%,#0000b2 19.19%,#0000b2 66.11%,#0000a6 98.82%,#0000a5 99.76%)"></i>
<i style="background:linear-gradient(90deg,#0000a4 0.237%,#0000b1 19.19%,#0000b1 66.59%,#0000a5 99.29%,#0000a5 99.76%)"></i>
<i style="background:linear-gradient(90deg,#0000a3 0.237%,#0000b1 19.19%,#0000b1 67.54%,#0000a5 99.76%)"></i>
<i style="background:linear-gradient(90deg,#0000a2 0.237%,#0000b0 19.19%,#0000b0 68.01%,#0000a5 99.76%)"></i>
<i style="background:linear-gradient(90deg,#0000a2 0.237%,#0000af 19.19%,#0000b0 68.96%,#0000a4 99.76%)"></i>
<i style="background:linear-gradient(90deg,#0000a1 0.237%,#0000af 19.67%,#0000af 70.38%,#0000a4 99.76%)"></i>
<i style="background:linear-gradient(90deg,#0000a1 0.237%,#0000ae 19.67%,#0000ae 70.85%,#0000a4 99.76%)"></i>
<i style="background:linear-gradient(90deg,#0000a0 0.237%,#0000ad 19.67%,#0000ae 71.33%,#0000a4 99.76%)"></i>
<i style="background:linear-gradient(90deg,#00009f 0.237%,#0000ad 19.67%,#0000ad 71.8%,#0000a4 99.76%)"></i>
<i style="height:3px;background:linear-gradient(90deg,#00009e 0.237%,#0000ac 19.67%,#0000ad 72.27%,#0000a3 99.76%)"></i>
</div>
<div class="bx" style="left:390.75px;top:20.75px;width:211.4px;height:172.5px"></div>
<div class="cb" style="left:622.3px;top:21px;width:24.6px;height:173px;background-image:linear-gradient(180deg,#800000 0.000%,#9f0000 3.125%,#bf0000 6.250%,#df0000 9.375%,#ff0000 12.500%,#ff2000 15.625%,#ff4000 18.750%,#ff6000 21.875%,#ff8000 25.000%,#ff9f00 28.125%,#ffbf00 31.250%,#ffdf00 34.375%,#ffff00 37.500%,#dfff20 40.625%,#bfff40 43.750%,#9fff60 46.875%,#80ff80 50.000%,#60ff9f 53.125%,#40ffbf 56.250%,#20ffdf 59.375%,#00ffff 62.500%,#00dfff 65.625%,#00bfff 68.750%,#009fff 71.875%,#0080ff 75.000%,#0060ff 78.125%,#0040ff 81.250%,#0020ff 84.375%,#0000ff 87.500%,#0000df 90.625%,#0000bf 93.750%,#00009f 96.875%,#000080 100.000%)"></div>
<div class="pl" style="left:50px;top:260px;width:211.2px;height:172px">
<i style="background:linear-gradient(90deg,#3affc5 0.237%,#89ff76 3.555%,#ebff14 6.872%,#faff05 7.346%,#fff400 7.82%,#ff2e00 13.03%,#ff0300 14.45%,#c70000 17.3%,#ab0000 19.67%,#9c0000 22.51%,#9c0000 25.83%,#ad0000 29.15%,#d20000 32.46%,#ff0000 35.31%,#ff6f00 40.52%,#ffe500 46.21%,#fffe00 47.63%,#b3ff4c 52.84%,#67ff98 59.48%,#03fffc 70.38%,#00daff 75.59%,#0077ff 89.34%,#0043ff 99.76%)"></i>
<i style="background:linear-gradient(90deg,#34ffcb 0.237%,#84ff7b 3.555%,#e7ff18 6.872%,#f7ff08 7.346%,#fff700 7.82%,#ff3100 13.03%,#ff0600 14.45%,#f80000 14.93%,#d10000 16.82%,#b20000 19.19%,#a00000 22.04%,#9e0000 25.36%,#ad0000 28.67%,#ce0000 31.99%,#fa0000 34.83%,#ff0400 35.31%,#ff7300 40.52%,#ffe800 46.21%,#fcff03 47.63%,#b7ff48 52.37%,#6aff95 59%,#05fffa 69.91%,#00f9ff 71.33%,#0079ff 88.86%,#0042ff 99.76%)"></i>
<i style="background:linear-gradient(90deg,#2fffd0 0.237%,#72ff8d 3.081%,#d4ff2b 6.398%,#f3ff0c 7.346%,#fffa00 7.82%,#ff3500 13.03%,#ff0900 14.45%,#fc0000 14.93%,#d40000 16.82%,#b40000 19.19%,#a30000 22.04%,#a10000 25.36%,#b00000 28.67%,#cb0000 31.52%,#fe0000 34.83%,#ff4200 38.15%,#ffd100 44.79%,#fffd00 47.16%,#adff52 52.84%,#63ff9c 59.48%,#00ffff 70.38%,#0078ff 88.86%,#0041ff 99.76%)"></i>
<i style="background:linear-gradient(90deg,#2affd5 0.237%,#6eff91 3.081%,#c1ff3e 5.924%,#fffd00 7.82%,#ff3a00 13.03%,#ff0100 14.93%,#d00000 17.3%,#b30000 19.67%,#a50000 22.51%,#a70000 26.3%,#bb0000 29.62%,#dc0000 32.46%,#fa0000 34.36%,#ff0300 34.83%,#ff6600 39.57%,#ffde00 45.26%,#fdff02 47.16%,#b7ff48 51.9%,#6aff95 58.53%,#03fffc 69.91%,#00f3ff 71.8%,#0078ff 88.86%,#0040ff 99.76%)"></i>
<i style="background:linear-gradient(90deg,#25ffda 0.237%,#69ff96 3.081%,#bdff42 5.924%,#feff01 7.82%,#ff3e00 13.03%,#ff0600 14.93%,#f90000 15.4%,#d40000 17.3%,#b70000 19.67%,#a90000 22.51%,#ab0000 26.3%,#bf0000 29.62%,#e00000 32.46%,#fe0000 34.36%,#ff4c00 38.15%,#ffd900 44.79%,#fffc00 46.68%,#e3ff1c 48.58%,#9cff63 53.79%,#51ffae 60.9%,#00fdff 70.38%,#007aff 88.39%,#0044ff 98.82%,#003fff 99.76%)"></i>
<i style="background:linear-gradient(90deg,#21ffde 0.237%,#65ff9a 3.081%,#baff45 5.924%,#fbff04 7.82%,#ffe100 8.768%,#ff4400 13.03%,#ff0b00 14.93%,#ff0000 15.4%,#d90000 17.3%,#bc0000 19.67%,#ae0000 22.51%,#b00000 26.3%,#c30000 29.62%,#e50000 32.46%,#fb0000 33.89%,#ff0d00 34.83%,#ff8400 40.52%,#ffee00 45.73%,#ffff00 46.68%,#bdff42 50.95%,#75ff8a 57.11%,#15ffea 67.54%,#00fdff 70.38%,#0079ff 88.39%,#0043ff 98.82%,#003fff 99.76%)"></i>
<i style="background:linear-gradient(90deg,#1dffe2 0.237%,#54ffab 2.607%,#a7ff58 5.45%,#f7ff08 7.82%,#fff500 8.294%,#ff4900 13.03%,#ff1100 14.93%,#ff0500 15.4%,#f90000 15.88%,#d60000 17.77%,#bd0000 20.14%,#b20000 22.99%,#b60000 26.78%,#c80000 29.62%,#ea0000 32.46%,#ff0200 33.89%,#ff5600 38.15%,#ffe100 44.79%,#fffb00 46.21%,#f3ff0c 47.16%,#aeff51 51.9%,#64ff9b 58.53%,#01fffe 69.91%,#0079ff 88.39%,#0042ff 98.82%,#003eff 99.76%)"></i>
<i style="background:linear-gradient(90deg,#19ffe6 0.237%,#50ffaf 2.607%,#a4ff5b 5.45%,#f4ff0b 7.82%,#fff900 8.294%,#ff4f00 13.03%,#ff0b00 15.4%,#ff0000 15.88%,#dc0000 17.77%,#c20000 20.14%,#b80000 22.99%,#bc0000 26.78%,#cd0000 29.62%,#ef0000 32.46%,#fe0000 33.41%,#ff4800 37.2%,#ffdc00 44.31%,#ffff00 46.21%,#b7ff48 50.95%,#70ff8f 57.11%,#0ffff0 68.01%,#00ffff 69.91%,#007bff 87.91%,#0044ff 98.34%,#003dff 99.76%)"></i>
<i style="background:linear-gradient(90deg,#16ffe9 0.237%,#4cffb3 2.607%,#b0ff4f 5.924%,#fffd00 8.294%,#ff5500 13.03%,#ff1100 15.4%,#ff0600 15.88%,#fb0000 16.35%,#db0000 18.25%,#c50000 20.62%,#bd0000 23.46%,#c30000 27.25%,#d80000 30.09%,#fd0000 32.94%,#ff1f00 34.83%,#ffe100 44.31%,#fffb00 45.73%,#f3ff0c 46.68%,#aeff51 51.42%,#65ff9a 58.06%,#03fffc 69.43%,#00ecff 72.27%,#0078ff 88.39%,#0041ff 98.82%,#003dff 99.76%)"></i>
<i style="background:linear-gradient(90deg,#13ffec 0.237%,#49ffb6 2.607%,#acff53 5.924%,#fdff02 8.294%,#ff4d00 13.51%,#ff0d00 15.88%,#ff0300 16.35%,#dc0000 18.72%,#c90000 21.09%,#c30000 24.41%,#cc0000 27.73%,#e30000 30.57%,#fc0000 32.46%,#ff0c00 33.41%,#ff6900 38.15%,#ffe600 44.31%,#ffff00 45.73%,#b8ff47 50.47%,#71ff8e 56.64%,#15ffea 67.06%,#00feff 69.91%,#007dff 87.44%,#0045ff 97.87%,#003cff 99.76%)"></i>
<i style="background:linear-gradient(90deg,#10ffef 0.237%,#47ffb8 2.607%,#a8ff57 5.924%,#f8ff07 8.294%,#fff500 8.768%,#ff6300 13.03%,#ff2000 15.4%,#ff0000 16.82%,#de0000 19.19%,#cc0000 22.04%,#cb0000 25.83%,#dc0000 29.15%,#fc0000 31.99%,#ff0b00 32.94%,#ff5c00 37.2%,#ffe200 43.84%,#fffb00 45.26%,#ebff14 46.68%,#a8ff57 51.42%,#61ff9e 58.06%,#02fffd 69.43%,#007aff 87.91%,#0042ff 98.34%,#003cff 99.76%)"></i>
<i style="background:linear-gradient(90deg,#0efff1 0.237%,#51ffae 3.081%,#b4ff4b 6.398%,#f3ff0c 8.294%,#fffa00 8.768%,#ff6a00 13.03%,#ff2800 15.4%,#ff0000 17.3%,#e20000 19.67%,#d20000 22.51%,#d20000 25.83%,#e40000 29.15%,#fd0000 31.52%,#ff1300 32.94%,#ff6e00 37.68%,#ffe700 43.84%,#feff01 45.26%,#b7ff48 50%,#72ff8d 56.16%,#18ffe7 66.59%,#00fcff 69.91%,#007fff 86.97%,#0046ff 97.39%,#003bff 99.76%)"></i>
<i style="background:linear-gradient(90deg,#0cfff3 0.237%,#4effb1 3.081%,#b0ff4f 6.398%,#feff01 8.768%,#ff6400 13.51%,#ff2500 15.88%,#ff0200 17.77%,#e30000 20.62%,#d80000 23.46%,#dd0000 26.78%,#f40000 30.09%,#ff0000 31.04%,#ff2c00 33.89%,#ffed00 43.84%,#fffd00 44.79%,#aeff51 50.47%,#6bff94 56.64%,#08fff7 68.48%,#00fcff 69.91%,#0082ff 86.49%,#0048ff 96.92%,#003bff 99.76%)"></i>
<i style="background:linear-gradient(90deg,#0afff5 0.237%,#4cffb3 3.081%,#acff53 6.398%,#f9ff06 8.768%,#fff500 9.242%,#ff6d00 13.51%,#ff2f00 15.88%,#ff0c00 17.77%,#fe0000 18.72%,#e60000 21.56%,#df0000 24.41%,#ea0000 27.73%,#fd0000 30.09%,#ff1600 31.99%,#ff5800 35.78%,#ffea00 43.36%,#fcff03 44.79%,#b7ff48 49.53%,#72ff8d 55.69%,#1affe5 66.11%,#00ffff 69.43%,#0085ff 86.02%,#0049ff 96.45%,#003aff 99.76%)"></i>
<i style="background:linear-gradient(90deg,#08fff7 0.237%,#56ffa9 3.555%,#b6ff49 6.872%,#f3ff0c 8.768%,#fffc00 9.242%,#ff7600 13.51%,#ff3a00 15.88%,#ff0f00 18.25%,#fe0000 19.67%,#ea0000 22.51%,#e90000 25.36%,#fa0000 28.67%,#ff0300 29.62%,#ff2700 32.46%,#ff7d00 37.2%,#fff000 43.36%,#feff01 44.31%,#b3ff4c 49.53%,#70ff8f 55.69%,#16ffe9 66.59%,#00ffff 69.43%,#0084ff 86.02%,#0049ff 96.45%,#003aff 99.76%)"></i>
<i style="background:linear-gradient(90deg,#06fff9 0.237%,#52ffad 3.555%,#b1ff4e 6.872%,#fcff03 9.242%,#ffb700 11.61%,#ff6600 14.45%,#ff3100 16.82%,#ff0e00 19.19%,#ff0000 20.62%,#f10000 23.46%,#f60000 26.3%,#ff0200 28.2%,#ff2400 31.52%,#ff6200 35.31%,#ffee00 42.89%,#fffe00 43.84%,#b0ff4f 49.53%,#6eff91 55.69%,#11ffee 67.06%,#00feff 69.43%,#0087ff 85.55%,#004bff 95.97%,#003aff 99.76%)"></i>
<i style="background:linear-gradient(90deg,#03fffc 0.237%,#4fffb0 3.555%,#baff45 7.346%,#f5ff0a 9.242%,#fffa00 9.716%,#ff8900 13.51%,#ff5000 15.88%,#ff2600 18.25%,#ff0800 21.09%,#fd0000 22.99%,#fc0000 25.36%,#ff0600 27.25%,#ff2300 30.57%,#ff5300 33.89%,#fff500 42.89%,#fffd00 43.36%,#a7ff58 50%,#64ff9b 56.64%,#00feff 69.43%,#0087ff 85.55%,#004bff 95.97%,#0039ff 99.76%)"></i>
<i style="background:linear-gradient(90deg,#01fffe 0.237%,#4bffb4 3.555%,#b4ff4b 7.346%,#fcff03 9.716%,#ff8700 13.98%,#ff5200 16.35%,#ff2b00 18.72%,#ff1000 21.56%,#ff0600 23.93%,#ff0f00 26.78%,#ff2a00 30.09%,#ff5700 33.41%,#fffc00 42.89%,#e6ff19 44.79%,#9eff61 50.47%,#5affa5 57.58%,#00fdff 69.43%,#0089ff 85.07%,#004aff 95.97%,#0039ff 99.76%)"></i>
<i style="background:linear-gradient(90deg,#00fdff 0.237%,#30ffcf 2.607%,#85ff7a 5.924%,#f5ff0a 9.716%,#fffb00 10.19%,#ff9200 13.98%,#ff5500 16.82%,#ff3200 19.19%,#ff1900 22.04%,#ff1200 24.41%,#ff2100 27.73%,#ff4100 31.04%,#ff7a00 34.83%,#fffb00 42.42%,#eeff11 43.84%,#a5ff5a 49.53%,#60ff9f 56.64%,#01fffe 68.96%,#0083ff 86.02%,#0045ff 96.92%,#0039ff 99.76%)"></i>
<i style="background:linear-gradient(90deg,#00f9ff 0.237%,#04fffb 0.7109%,#4effb1 4.028%,#c3ff3c 8.294%,#fbff04 10.19%,#ffe800 11.14%,#ff9200 14.45%,#ff5a00 17.3%,#ff3400 20.14%,#ff2100 22.99%,#ff2100 25.36%,#ff3500 28.67%,#ff5a00 31.99%,#ffa500 36.73%,#fffb00 41.94%,#eeff11 43.36%,#a6ff59 49.05%,#62ff9d 56.16%,#01fffe 68.96%,#0085ff 85.55%,#0047ff 96.45%,#0038ff 99.76%)"></i>
<i style="background:linear-gradient(90deg,#00f5ff 0.237%,#00feff 0.7109%,#49ffb6 4.028%,#caff35 8.768%,#ffff00 10.66%,#ffa800 13.98%,#ff6e00 16.82%,#ff4700 19.67%,#ff3100 22.51%,#ff2d00 24.88%,#ff3e00 28.2%,#ff6000 31.52%,#ffa800 36.26%,#fffc00 41.47%,#e1ff1e 43.84%,#98ff67 50%,#54ffab 57.58%,#00ffff 68.96%,#008bff 84.6%,#004cff 95.5%,#0038ff 99.76%)"></i>
<i style="background:linear-gradient(90deg,#00f0ff 0.237%,#04fffb 1.185%,#4fffb0 4.502%,#f6ff09 10.66%,#fffb00 11.14%,#ffa900 14.45%,#ff7400 17.3%,#ff5000 20.14%,#ff3d00 22.99%,#ff3e00 25.83%,#ff5400 29.15%,#ff8000 32.94%,#fffd00 41%,#a3ff5c 48.58%,#5effa1 56.16%,#00ffff 68.96%,#008eff 84.12%,#004eff 95.02%,#0038ff 99.76%)"></i>
<i style="background:linear-gradient(90deg,#00ebff 0.237%,#00feff 1.185%,#49ffb6 4.502%,#faff05 11.14%,#fff800 11.61%,#ffab00 14.93%,#ff7a00 17.77%,#ff5a00 20.62%,#ff4b00 23.46%,#ff4e00 26.3%,#ff6600 29.62%,#ff9300 33.41%,#ffff00 40.52%,#aeff51 47.16%,#67ff98 54.74%,#00feff 68.96%,#008dff 84.12%,#004bff 95.5%,#0037ff 99.76%)"></i>
<i style="background:linear-gradient(90deg,#00e6ff 0.237%,#03fffc 1.659%,#4fffb0 4.976%,#fcff03 11.61%,#ffae00 15.4%,#ff8100 18.25%,#ff6400 21.09%,#ff5900 23.93%,#ff5f00 26.78%,#ff7800 30.09%,#ffad00 34.36%,#feff01 40.05%,#afff50 46.68%,#69ff96 54.27%,#00feff 68.96%,#008dff 84.12%,#004bff 95.5%,#0037ff 99.76%)"></i>
<i style="background:linear-gradient(90deg,#00e1ff 0.237%,#00fdff 1.659%,#26ffd9 3.555%,#feff01 12.09%,#ffb200 15.88%,#ff8900 18.72%,#ff7000 21.56%,#ff6800 24.41%,#ff7000 27.25%,#ff8b00 30.57%,#ffcc00 35.78%,#fffc00 39.1%,#e9ff16 41%,#9cff63 48.1%,#54ffab 56.64%,#00fdff 68.96%,#008cff 84.12%,#004bff 95.5%,#0037ff 99.76%)"></i>
<i style="background:linear-gradient(90deg,#00dcff 0.237%,#01fffe 2.133%,#5affa5 5.924%,#f3ff0c 12.09%,#feff01 12.56%,#ffbf00 15.88%,#ff9300 19.19%,#ff7d00 22.04%,#ff7700 24.88%,#ff8500 28.2%,#ffa800 31.99%,#fffe00 38.63%,#aeff51 45.73%,#68ff97 53.79%,#00ffff 68.48%,#008bff 84.12%,#004bff 95.5%,#0037ff 99.76%)"></i>
<i style="background:linear-gradient(90deg,#00d7ff 0.237%,#00fbff 2.133%,#10ffef 3.081%,#e9ff16 12.09%,#feff01 13.03%,#ffbe00 16.82%,#ff9800 20.14%,#ff8800 22.99%,#ff8800 25.83%,#ff9a00 29.15%,#ffcb00 33.89%,#fdff02 38.15%,#b7ff48 44.31%,#70ff8f 52.37%,#00feff 68.48%,#008bff 84.12%,#004aff 95.5%,#0037ff 99.76%)"></i>
<i style="background:linear-gradient(90deg,#00d2ff 0.237%,#00feff 2.607%,#64ff9b 6.872%,#dfff20 12.09%,#fcff03 13.51%,#ffd900 15.88%,#ffaf00 19.19%,#ff9900 22.51%,#ff9600 25.36%,#ffa500 28.67%,#ffcc00 32.94%,#fffe00 37.2%,#b2ff4d 44.31%,#69ff96 52.84%,#00fdff 68.48%,#008dff 83.65%,#004cff 95.02%,#0036ff 99.76%)"></i>
<i style="background:linear-gradient(90deg,#00cdff 0.237%,#00f9ff 2.607%,#04fffb 3.081%,#cbff34 11.61%,#f9ff06 13.98%,#fffc00 14.45%,#ffcd00 17.77%,#ffaf00 21.09%,#ffa500 24.41%,#ffad00 27.73%,#ffca00 31.52%,#fffd00 36.26%,#a8ff57 44.79%,#5dffa2 54.27%,#01fffe 68.01%,#0089ff 84.12%,#0047ff 95.97%,#0036ff 99.76%)"></i>
<i style="background:linear-gradient(90deg,#00c9ff 0.237%,#00fdff 3.081%,#c1ff3e 11.61%,#feff01 14.93%,#ffd000 18.72%,#ffb900 22.04%,#ffb400 25.36%,#ffc100 28.67%,#ffea00 33.41%,#fcff03 35.78%,#a6ff59 44.31%,#5dffa2 53.79%,#00feff 68.01%,#008cff 83.65%,#004cff 95.02%,#0036ff 99.76%)"></i>
<i style="background:linear-gradient(90deg,#00c5ff 0.237%,#00f9ff 3.081%,#04fffb 3.555%,#aeff51 11.14%,#ebff14 14.45%,#ffff00 15.88%,#ffda00 19.19%,#ffc600 22.51%,#ffc300 25.83%,#ffd500 29.62%,#fffe00 34.36%,#9dff62 44.79%,#52ffad 55.21%,#00fdff 68.01%,#008bff 83.65%,#0049ff 95.5%,#0036ff 99.76%)"></i>
<i style="background:linear-gradient(90deg,#00c2ff 0.237%,#00ffff 3.555%,#a5ff5a 11.14%,#e6ff19 14.93%,#ffff00 16.82%,#ffdd00 20.62%,#ffd100 23.93%,#ffd700 27.73%,#fff400 31.99%,#fdff02 33.41%,#94ff6b 45.26%,#43ffbc 57.11%,#00ffff 67.54%,#0087ff 84.12%,#0047ff 95.97%,#0036ff 99.76%)"></i>
<i style="background:linear-gradient(90deg,#00beff 0.237%,#00fbff 3.555%,#10ffef 4.502%,#93ff6c 10.66%,#d4ff2b 14.45%,#fcff03 17.77%,#ffe400 22.04%,#ffdf00 25.36%,#ffec00 29.15%,#feff01 31.99%,#8cff73 45.73%,#25ffda 61.85%,#00feff 67.54%,#0089ff 83.65%,#0049ff 95.5%,#0035ff 99.76%)"></i>
<i style="background:linear-gradient(90deg,#00bbff 0.237%,#02fffd 4.028%,#8bff74 10.66%,#c9ff36 14.45%,#f0ff0f 17.77%,#fffe00 19.67%,#ffee00 22.99%,#ffef00 26.78%,#fdff02 30.57%,#80ff7f 46.68%,#00fdff 67.54%,#0088ff 83.65%,#0048ff 95.5%,#0035ff 99.76%)"></i>
<i style="background:linear-gradient(90deg,#00b8ff 0.237%,#00fdff 4.028%,#8bff74 11.14%,#c5ff3a 14.93%,#ecff13 18.72%,#fffe00 22.04%,#fffa00 25.83%,#fcff03 28.67%,#d7ff28 34.36%,#7cff83 46.68%,#00ffff 67.06%,#0087ff 83.65%,#0046ff 95.97%,#0035ff 99.76%)"></i>
<i style="background:linear-gradient(90deg,#00b6ff 0.237%,#00f9ff 4.028%,#04fffb 4.502%,#7aff85 10.66%,#b4ff4b 14.45%,#ddff22 18.25%,#f3ff0c 22.04%,#f7ff08 25.83%,#e9ff16 30.09%,#6cff93 48.58%,#00fdff 67.06%,#0089ff 83.18%,#004aff 95.02%,#0035ff 99.76%)"></i>
<i style="background:linear-gradient(90deg,#00b3ff 0.237%,#00ffff 4.502%,#72ff8d 10.66%,#aaff55 14.45%,#d1ff2e 18.25%,#e7ff18 22.04%,#ebff14 25.83%,#dfff20 30.09%,#66ff99 49.05%,#07fff8 65.64%,#00fcff 67.06%,#0088ff 83.18%,#0048ff 95.5%,#0035ff 99.76%)"></i>
<i style="background:linear-gradient(90deg,#00afff 0.237%,#00fbff 4.502%,#0efff1 5.45%,#72ff8d 11.14%,#a6ff59 14.93%,#caff35 18.72%,#ddff22 22.51%,#dfff20 26.78%,#cdff32 31.52%,#62ff9d 49.05%,#08fff7 65.17%,#00faff 67.06%,#0087ff 83.18%,#0047ff 95.5%,#0035ff 99.76%)"></i>
<i style="background:linear-gradient(90deg,#00acff 0.237%,#00ffff 4.976%,#6aff95 11.14%,#a2ff5d 15.4%,#c2ff3d 19.19%,#d3ff2c 22.99%,#d3ff2c 27.25%,#beff41 32.46%,#5cffa3 49.53%,#0dfff2 64.22%,#00fcff 66.59%,#0089ff 82.7%,#004bff 94.55%,#0034ff 99.76%)"></i>
<i style="background:linear-gradient(90deg,#00a8ff 0.237%,#00fbff 4.976%,#0dfff2 5.924%,#69ff96 11.61%,#9dff62 15.88%,#bdff42 20.14%,#caff35 24.41%,#c3ff3c 29.15%,#9eff61 36.73%,#50ffaf 51.42%,#0bfff4 64.22%,#00feff 66.11%,#0088ff 82.7%,#0049ff 95.02%,#0034ff 99.76%)"></i>
<i style="background:linear-gradient(90deg,#00a4ff 0.237%,#00feff 5.45%,#61ff9e 11.61%,#94ff6b 15.88%,#b3ff4c 20.14%,#bfff40 24.41%,#baff45 29.15%,#94ff6b 37.2%,#15ffea 62.32%,#00ffff 65.64%,#0087ff 82.7%,#0049ff 95.02%,#0034ff 99.76%)"></i>
<i style="background:linear-gradient(90deg,#00a0ff 0.237%,#02fffd 5.924%,#59ffa6 11.61%,#8bff74 15.88%,#a9ff56 20.14%,#b5ff4a 24.41%,#b0ff4f 29.15%,#8aff75 37.68%,#18ffe7 61.37%,#00fdff 65.64%,#0089ff 82.23%,#004bff 94.55%,#0034ff 99.76%)"></i>
<i style="background:linear-gradient(90deg,#009cff 0.237%,#00fbff 5.924%,#0bfff4 6.872%,#58ffa7 12.09%,#86ff79 16.35%,#a2ff5d 20.62%,#acff53 24.88%,#a4ff5b 30.09%,#21ffde 59.48%,#00feff 65.17%,#0087ff 82.23%,#004aff 94.55%,#0034ff 99.76%)"></i>
<i style="background:linear-gradient(90deg,#0098ff 0.237%,#00e4ff 4.976%,#00fcff 6.398%,#30ffcf 9.716%,#6bff94 14.45%,#8eff71 18.72%,#a0ff5f 22.99%,#a1ff5e 27.73%,#8cff73 34.36%,#21ffde 59%,#00fcff 65.17%,#0086ff 82.23%,#0048ff 95.02%,#0034ff 99.76%)"></i>
<i style="background:linear-gradient(90deg,#0094ff 0.237%,#00d6ff 4.502%,#00fdff 6.872%,#4effb1 12.56%,#78ff87 16.82%,#91ff6e 21.09%,#99ff66 25.83%,#8fff70 31.52%,#24ffdb 58.06%,#00fdff 64.69%,#0088ff 81.75%,#004cff 94.08%,#0033ff 99.76%)"></i>
<i style="background:linear-gradient(90deg,#0090ff 0.237%,#00c8ff 4.028%,#00feff 7.346%,#47ffb8 12.56%,#70ff8f 16.82%,#88ff77 21.09%,#91ff6e 25.83%,#86ff79 31.99%,#26ffd9 57.11%,#00feff 64.22%,#0087ff 81.75%,#0049ff 94.55%,#0033ff 99.76%)"></i>
<i style="background:linear-gradient(90deg,#008cff 0.237%,#00c3ff 4.028%,#00ffff 7.82%,#3fffc0 12.56%,#68ff97 16.82%,#81ff7e 21.56%,#88ff77 26.78%,#7aff85 33.41%,#26ffd9 56.64%,#00ffff 63.74%,#0086ff 81.75%,#0045ff 95.5%,#0033ff 99.76%)"></i>
<i style="background:linear-gradient(90deg,#0089ff 0.237%,#00b6ff 3.555%,#01fffe 8.294%,#3effc1 13.03%,#63ff9c 17.3%,#7aff85 22.04%,#7fff80 27.25%,#6fff90 34.36%,#26ffd9 56.16%,#00fdff 63.74%,#0087ff 81.28%,#0049ff 94.55%,#0033ff 99.76%)"></i>
<i style="background:linear-gradient(90deg,#0086ff 0.237%,#00b9ff 4.028%,#01fffe 8.768%,#3bffc4 13.51%,#5fffa0 17.77%,#73ff8c 22.51%,#77ff88 27.73%,#64ff9b 35.78%,#26ffd9 55.69%,#00fdff 63.27%,#0088ff 80.81%,#004aff 94.08%,#0032ff 99.76%)"></i>
<i style="background:linear-gradient(90deg,#0083ff 0.237%,#00bbff 4.502%,#02fffd 9.242%,#39ffc6 13.98%,#5cffa3 18.72%,#6dff92 23.46%,#6eff91 29.15%,#2bffd4 53.79%,#05fffa 61.85%,#00f8ff 63.74%,#0087ff 80.81%,#0046ff 95.02%,#0032ff 99.76%)"></i>
<i style="background:linear-gradient(90deg,#0081ff 0.237%,#00b7ff 4.502%,#02fffd 9.716%,#36ffc9 14.45%,#57ffa8 19.19%,#67ff98 24.41%,#64ff9b 30.57%,#25ffda 54.74%,#00feff 62.32%,#0086ff 80.81%,#003cff 97.39%,#0032ff 99.76%)"></i>
<i style="background:linear-gradient(90deg,#007eff 0.237%,#00b9ff 4.976%,#02fffd 10.19%,#30ffcf 14.45%,#50ffaf 19.19%,#5fffa0 24.41%,#5dffa2 30.57%,#22ffdd 54.74%,#00ffff 61.85%,#0087ff 80.33%,#0040ff 96.45%,#0032ff 99.76%)"></i>
<i style="background:linear-gradient(90deg,#007bff 0.237%,#00bbff 5.45%,#02fffd 10.66%,#2dffd2 14.93%,#4bffb4 19.67%,#58ffa7 24.88%,#55ffaa 31.52%,#20ffdf 54.74%,#00ffff 61.37%,#0086ff 80.33%,#0031ff 99.76%)"></i>
<i style="background:linear-gradient(90deg,#0078ff 0.237%,#00bdff 5.924%,#01fffe 11.14%,#2affd5 15.4%,#45ffba 20.14%,#52ffad 25.36%,#4dffb2 32.46%,#1fffe0 54.27%,#00fdff 61.37%,#0087ff 79.86%,#0031ff 99.76%)"></i>
<i style="background:linear-gradient(90deg,#0075ff 0.237%,#00c5ff 6.872%,#00ffff 11.61%,#27ffd8 15.88%,#42ffbd 21.09%,#4bffb4 26.78%,#41ffbe 35.31%,#1cffe3 54.27%,#00fdff 60.9%,#0088ff 79.38%,#0031ff 99.76%)"></i>
<i style="background:linear-gradient(90deg,#0071ff 0.237%,#00ccff 7.82%,#00feff 12.09%,#29ffd6 17.3%,#3fffc0 22.51%,#44ffbb 28.67%,#1bffe4 53.79%,#00fdff 60.43%,#0086ff 79.38%,#0031ff 99.76%)"></i>
<i style="background:linear-gradient(90deg,#006eff 0.237%,#00fdff 12.56%,#28ffd7 18.25%,#3affc5 23.46%,#3dffc2 30.09%,#23ffdc 47.63%,#16ffe9 54.74%,#00fdff 59.95%,#0087ff 78.91%,#0030ff 99.76%)"></i>
<i style="background:linear-gradient(90deg,#006aff 0.237%,#00f7ff 12.56%,#01fffe 13.51%,#23ffdc 18.72%,#35ffca 24.41%,#35ffca 31.52%,#1fffe0 46.68%,#14ffeb 54.27%,#00fdff 59.48%,#0085ff 78.91%,#0030ff 99.76%)"></i>
<i style="background:linear-gradient(90deg,#0067ff 0.237%,#00f1ff 12.56%,#02fffd 14.45%,#21ffde 19.67%,#30ffcf 25.36%,#2dffd2 33.41%,#1cffe3 46.21%,#13ffec 53.79%,#00fcff 59%,#0086ff 78.44%,#0030ff 99.76%)"></i>
<i style="background:linear-gradient(90deg,#0063ff 0.237%,#00ebff 12.56%,#00feff 14.93%,#1effe1 20.62%,#2affd5 26.3%,#25ffda 35.31%,#18ffe7 46.21%,#10ffef 53.79%,#00fcff 58.53%,#0087ff 77.96%,#0030ff 99.76%)"></i>
<i style="background:linear-gradient(90deg,#0060ff 0.237%,#00e5ff 12.56%,#00ffff 15.88%,#1bffe4 21.56%,#25ffda 27.73%,#1bffe4 38.15%,#13ffec 47.63%,#0dfff2 53.79%,#00feff 57.58%,#0085ff 77.96%,#002fff 99.76%)"></i>
<i style="background:linear-gradient(90deg,#005cff 0.237%,#00dfff 12.56%,#00feff 16.82%,#19ffe6 22.99%,#1fffe0 30.09%,#0ffff0 46.21%,#0bfff4 53.32%,#00fdff 57.11%,#0086ff 77.49%,#002fff 99.76%)"></i>
<i style="background:linear-gradient(90deg,#0059ff 0.237%,#00d9ff 12.56%,#00feff 17.77%,#16ffe9 24.41%,#18ffe7 32.46%,#0bfff4 45.73%,#08fff7 53.32%,#00fcff 56.64%,#00bcff 67.54%,#0080ff 78.44%,#0035ff 98.34%,#002fff 99.76%)"></i>
<i style="background:linear-gradient(90deg,#0055ff 0.237%,#00d3ff 12.56%,#00f7ff 17.77%,#03fffc 20.14%,#12ffed 25.83%,#11ffee 34.83%,#07fff8 45.73%,#05fffa 53.32%,#00fbff 56.16%,#00c2ff 66.11%,#0085ff 77.01%,#0037ff 97.87%,#002eff 99.76%)"></i>
<i style="background:linear-gradient(90deg,#0052ff 0.237%,#00ceff 12.56%,#00f1ff 17.77%,#01fffe 21.09%,#0dfff2 27.25%,#09fff6 37.2%,#03fffc 45.73%,#02fffd 53.32%,#00f3ff 57.11%,#008aff 75.59%,#0061ff 86.49%,#0037ff 97.87%,#002eff 99.76%)"></i>
<i style="background:linear-gradient(90deg,#004fff 0.237%,#00c8ff 12.56%,#00eeff 18.25%,#01fffe 22.99%,#08fff7 31.04%,#00fdff 44.79%,#00fdff 53.32%,#00e3ff 59.48%,#008cff 74.64%,#0065ff 85.07%,#003bff 96.92%,#002eff 99.76%)"></i>
<i style="background:linear-gradient(90deg,#004bff 0.237%,#00c3ff 12.56%,#00e8ff 18.25%,#00fdff 24.41%,#01fffe 35.78%,#00faff 46.68%,#00f8ff 53.79%,#00daff 60.43%,#008cff 74.17%,#0066ff 84.6%,#003fff 95.97%,#002eff 99.76%)"></i>
<i style="background:linear-gradient(90deg,#0048ff 0.237%,#00beff 12.56%,#00e2ff 18.25%,#00f7ff 24.41%,#00fdff 33.89%,#00f5ff 46.21%,#00f5ff 53.32%,#00dcff 59.48%,#008aff 74.17%,#0064ff 85.07%,#003fff 95.97%,#002dff 99.76%)"></i>
<i style="background:linear-gradient(90deg,#0045ff 0.237%,#00b9ff 12.56%,#00dcff 18.25%,#00f1ff 24.41%,#00f8ff 33.89%,#00f1ff 46.68%,#00f0ff 53.79%,#00d3ff 60.43%,#008aff 73.7%,#0065ff 84.6%,#0041ff 95.5%,#002dff 99.76%)"></i>
<i style="background:linear-gradient(90deg,#0042ff 0.237%,#00b4ff 12.56%,#00d7ff 18.25%,#00ecff 24.88%,#00f3ff 34.36%,#00edff 47.16%,#00ebff 53.79%,#00cfff 60.43%,#008aff 73.22%,#0065ff 84.12%,#0043ff 95.02%,#002dff 99.76%)"></i>
<i style="background:linear-gradient(90deg,#003fff 0.237%,#00afff 12.56%,#00d1ff 18.25%,#00e6ff 24.88%,#00efff 34.36%,#00e9ff 48.1%,#00e5ff 54.27%,#00c6ff 61.37%,#0088ff 73.22%,#0063ff 84.6%,#0043ff 95.02%,#002cff 99.76%)"></i>
<i style="background:linear-gradient(90deg,#003cff 0.237%,#00aaff 12.56%,#00ceff 18.72%,#00e3ff 26.3%,#00eaff 35.31%,#00e4ff 49.05%,#00dfff 54.74%,#00bdff 62.32%,#0085ff 73.22%,#0060ff 85.55%,#0041ff 95.5%,#002cff 99.76%)"></i>
<i style="background:linear-gradient(90deg,#0039ff 0.237%,#00a2ff 12.09%,#00c7ff 18.25%,#00ddff 25.83%,#00e6ff 34.83%,#00dbff 54.27%,#00c1ff 60.9%,#0085ff 72.75%,#0061ff 85.07%,#0043ff 95.02%,#002bff 99.76%)"></i>
<i style="background:linear-gradient(90deg,#0036ff 0.237%,#009eff 12.09%,#00c2ff 18.25%,#00d8ff 26.3%,#00e2ff 35.31%,#00d7ff 54.27%,#00bdff 60.9%,#0082ff 72.75%,#005eff 86.02%,#0041ff 95.5%,#002bff 99.76%)"></i>
<i style="background:linear-gradient(90deg,#0034ff 0.237%,#009aff 12.09%,#00bdff 18.25%,#00d5ff 27.25%,#00deff 35.78%,#00d2ff 54.27%,#00b9ff 60.9%,#0082ff 72.27%,#005fff 85.07%,#0043ff 95.02%,#002aff 99.76%)"></i>
<i style="background:linear-gradient(90deg,#0031ff 0.237%,#0096ff 12.09%,#00b8ff 18.25%,#00d2ff 28.2%,#00daff 36.26%,#00ccff 54.74%,#00b0ff 61.85%,#0080ff 72.27%,#005bff 86.49%,#0041ff 95.5%,#0029ff 99.76%)"></i>
<i style="background:linear-gradient(90deg,#002eff 0.237%,#0092ff 12.09%,#00b3ff 18.25%,#00d0ff 29.62%,#00d6ff 37.2%,#00c6ff 55.21%,#00a6ff 63.27%,#007cff 72.75%,#0046ff 94.08%,#0029ff 99.76%)"></i>
<i style="background:linear-gradient(90deg,#002cff 0.237%,#008eff 12.09%,#00afff 18.25%,#00cfff 31.04%,#00d2ff 38.15%,#00c1ff 55.21%,#00a2ff 63.27%,#007bff 72.27%,#0046ff 94.08%,#002bff 99.29%,#0028ff 99.76%)"></i>
<i style="background:linear-gradient(90deg,#0029ff 0.237%,#008aff 12.09%,#00aaff 18.25%,#00cdff 32.46%,#00cdff 39.57%,#00bcff 55.69%,#009aff 64.22%,#0078ff 72.75%,#0046ff 94.08%,#002dff 98.82%,#0027ff 99.76%)"></i>
<i style="background:linear-gradient(90deg,#0027ff 0.237%,#0083ff 11.61%,#00a6ff 18.25%,#00caff 32.94%,#00c9ff 40.05%,#00b6ff 56.16%,#008eff 66.11%,#0072ff 74.17%,#0047ff 93.6%,#0030ff 98.34%,#0026ff 99.76%)"></i>
<i style="background:linear-gradient(90deg,#0025ff 0.237%,#0080ff 11.61%,#00a2ff 18.25%,#00c6ff 32.94%,#00c6ff 40.05%,#00b2ff 56.16%,#008bff 66.11%,#006fff 74.64%,#0047ff 93.13%,#0032ff 97.87%,#0025ff 99.76%)"></i>
<i style="background:linear-gradient(90deg,#0023ff 0.237%,#007dff 11.61%,#009eff 18.25%,#00c3ff 32.94%,#00c3ff 40.05%,#00adff 56.64%,#0073ff 72.27%,#0046ff 93.13%,#0031ff 97.87%,#0025ff 99.76%)"></i>
<i style="background:linear-gradient(90deg,#0021ff 0.237%,#0079ff 11.61%,#009bff 18.25%,#00bfff 32.94%,#00bfff 40.05%,#00a9ff 56.64%,#0070ff 72.75%,#0047ff 92.65%,#0030ff 97.87%,#0024ff 99.76%)"></i>
<i style="background:linear-gradient(90deg,#001fff 0.237%,#0076ff 11.61%,#0097ff 18.25%,#00bcff 32.94%,#00bcff 40.05%,#00a4ff 57.11%,#006eff 72.75%,#0047ff 92.18%,#002fff 97.87%,#0023ff 99.76%)"></i>
<i style="background:linear-gradient(90deg,#001dff 0.237%,#0073ff 11.61%,#0096ff 18.72%,#00b9ff 32.94%,#00b8ff 40.52%,#00a0ff 57.11%,#006dff 72.75%,#0046ff 92.18%,#002bff 98.34%,#0023ff 99.76%)"></i>
<i style="background:linear-gradient(90deg,#001bff 0.237%,#0070ff 11.61%,#0092ff 18.72%,#00b5ff 32.94%,#00b5ff 40.52%,#009bff 57.58%,#006aff 73.22%,#0046ff 91.71%,#002aff 98.34%,#0022ff 99.76%)"></i>
<i style="background:linear-gradient(90deg,#001aff 0.237%,#006dff 11.61%,#008fff 18.72%,#00b2ff 32.46%,#00b3ff 40.05%,#0098ff 57.58%,#0068ff 73.22%,#0046ff 91.23%,#002bff 97.87%,#0021ff 99.76%)"></i>
<i style="background:linear-gradient(90deg,#0018ff 0.237%,#006aff 11.61%,#008eff 19.19%,#00afff 32.46%,#00b0ff 40.05%,#0095ff 57.58%,#0066ff 73.7%,#0046ff 90.76%,#002aff 97.87%,#0020ff 99.76%)"></i>
<i style="background:linear-gradient(90deg,#0016ff 0.237%,#006aff 12.09%,#008dff 19.67%,#00abff 31.99%,#00adff 39.57%,#0091ff 57.58%,#0065ff 73.7%,#0045ff 90.76%,#0026ff 98.34%,#001fff 99.76%)"></i>
<i style="background:linear-gradient(90deg,#0015ff 0.237%,#0067ff 12.09%,#008cff 20.14%,#00a8ff 31.99%,#00aaff 40.05%,#008eff 57.58%,#0062ff 74.17%,#0045ff 90.28%,#0025ff 98.34%,#001eff 99.76%)"></i>
<i style="background:linear-gradient(90deg,#0013ff 0.237%,#0064ff 12.09%,#0089ff 20.14%,#00a5ff 31.52%,#00a8ff 39.57%,#008cff 57.58%,#0060ff 74.64%,#0045ff 89.81%,#0026ff 97.87%,#001cff 99.76%)"></i>
<i style="background:linear-gradient(90deg,#0012ff 0.237%,#0062ff 12.09%,#0087ff 20.14%,#00a1ff 31.04%,#00a6ff 39.1%,#008aff 57.11%,#005eff 74.64%,#0043ff 89.81%,#0022ff 98.34%,#001bff 99.76%)"></i>
<i style="background:linear-gradient(90deg,#0010ff 0.237%,#005fff 12.09%,#0086ff 20.62%,#00a0ff 31.52%,#00a2ff 40.05%,#0086ff 57.58%,#005cff 75.12%,#0043ff 89.34%,#0021ff 98.34%,#001aff 99.76%)"></i>
<i style="background:linear-gradient(90deg,#000fff 0.237%,#005dff 12.09%,#0083ff 20.62%,#009cff 31.04%,#00a0ff 39.57%,#0086ff 56.64%,#005aff 75.59%,#0041ff 89.34%,#001dff 98.82%,#0019ff 99.76%)"></i>
<i style="background:linear-gradient(90deg,#000dff 0.237%,#005aff 12.09%,#0083ff 21.09%,#009aff 31.04%,#009dff 40.05%,#0083ff 56.64%,#0058ff 76.07%,#0040ff 89.34%,#0017ff 99.76%)"></i>
<i style="background:linear-gradient(90deg,#000cff 0.237%,#005bff 12.56%,#0082ff 21.56%,#0098ff 31.52%,#009bff 40.52%,#0081ff 56.64%,#0057ff 76.07%,#003eff 89.34%,#0016ff 99.76%)"></i>
<i style="background:linear-gradient(90deg,#000aff 0.237%,#0058ff 12.56%,#0081ff 22.04%,#0097ff 32.46%,#0098ff 41.47%,#007dff 57.58%,#0054ff 77.01%,#003dff 89.34%,#0014ff 99.76%)"></i>
<i style="background:linear-gradient(90deg,#0009ff 0.237%,#0056ff 12.56%,#007fff 22.04%,#0094ff 31.99%,#0095ff 41.47%,#007aff 57.58%,#0052ff 77.49%,#003bff 89.34%,#0013ff 99.76%)"></i>
<i style="background:linear-gradient(90deg,#0008ff 0.237%,#0054ff 12.56%,#007dff 22.04%,#0091ff 31.99%,#0093ff 41.47%,#0079ff 57.11%,#004fff 77.96%,#0039ff 89.34%,#0012ff 99.76%)"></i>
<i style="background:linear-gradient(90deg,#0006ff 0.237%,#0052ff 12.56%,#007cff 22.51%,#0090ff 32.94%,#0090ff 42.42%,#0073ff 59%,#004bff 79.86%,#0036ff 89.81%,#0010ff 99.76%)"></i>
<i style="background:linear-gradient(90deg,#0005ff 0.237%,#0052ff 13.03%,#007bff 22.99%,#008eff 33.41%,#008dff 43.36%,#006aff 62.32%,#0037ff 88.86%,#000fff 99.76%)"></i>
<i style="background:linear-gradient(90deg,#0004ff 0.237%,#004fff 13.03%,#0079ff 22.99%,#008cff 33.41%,#008bff 43.36%,#0067ff 62.8%,#0035ff 88.86%,#000dff 99.76%)"></i>
<i style="background:linear-gradient(90deg,#0002ff 0.237%,#004dff 13.03%,#0076ff 22.99%,#0089ff 33.41%,#0089ff 43.36%,#0063ff 63.74%,#0033ff 88.86%,#000cff 99.76%)"></i>
<i style="background:linear-gradient(90deg,#0001ff 0.237%,#004bff 13.03%,#0074ff 22.99%,#0087ff 33.41%,#0087ff 43.36%,#0060ff 64.69%,#0031ff 88.86%,#000aff 99.76%)"></i>
<i style="background:linear-gradient(90deg,#0000ff 0.237%,#004bff 13.51%,#0072ff 23.46%,#0085ff 33.89%,#0084ff 44.31%,#0031ff 88.39%,#0009ff 99.76%)"></i>
<i style="background:linear-gradient(90deg,#0000fe 0.237%,#004dff 14.45%,#0071ff 23.93%,#0083ff 34.83%,#0080ff 45.26%,#002fff 88.39%,#0007ff 99.76%)"></i>
<i style="background:linear-gradient(90deg,#0000fc 0.237%,#001aff 4.976%,#0058ff 17.3%,#0074ff 26.3%,#0082ff 37.2%,#007bff 47.63%,#002dff 88.39%,#0006ff 99.76%)"></i>
<i style="background:linear-gradient(90deg,#0000fb 0.237%,#000aff 2.607%,#004dff 15.4%,#006eff 24.88%,#007fff 35.78%,#007bff 46.21%,#002cff 87.91%,#0005ff 99.76%)"></i>
<i style="background:linear-gradient(90deg,#0000fa 0.237%,#0003ff 1.659%,#0047ff 14.45%,#006bff 24.41%,#007cff 35.31%,#0079ff 45.73%,#002bff 87.44%,#0003ff 99.76%)"></i>
<i style="background:linear-gradient(90deg,#0000f8 0.237%,#0004ff 2.133%,#0046ff 14.93%,#0069ff 24.88%,#007aff 35.78%,#0076ff 46.21%,#0029ff 87.44%,#0002ff 99.76%)"></i>
<i style="background:linear-gradient(90deg,#0000f7 0.237%,#0003ff 2.133%,#0044ff 14.93%,#0066ff 24.88%,#0077ff 35.78%,#0074ff 46.21%,#002bff 86.02%,#0001ff 99.76%)"></i>
<i style="background:linear-gradient(90deg,#0000f5 0.237%,#0001ff 2.133%,#0042ff 14.93%,#0064ff 24.88%,#0074ff 35.78%,#0071ff 46.21%,#002dff 84.12%,#0000fe 99.76%)"></i>
<i style="background:linear-gradient(90deg,#0000f4 0.237%,#0003ff 2.607%,#0041ff 15.4%,#0062ff 25.36%,#0072ff 36.26%,#006fff 46.68%,#002fff 82.23%,#0000fd 99.76%)"></i>
<i style="background:linear-gradient(90deg,#0000f3 0.237%,#0001ff 2.607%,#003fff 15.4%,#0060ff 25.83%,#0070ff 37.2%,#006aff 48.1%,#002eff 81.75%,#0000fd 99.29%,#0000fc 99.76%)"></i>
<i style="background:linear-gradient(90deg,#0000f1 0.237%,#0002ff 3.081%,#003fff 15.88%,#005fff 26.3%,#006dff 37.68%,#0067ff 48.58%,#0030ff 79.86%,#0001ff 97.87%,#0000fb 99.76%)"></i>
<i style="background:linear-gradient(90deg,#0000f0 0.237%,#0003ff 3.555%,#003eff 16.35%,#005dff 26.78%,#006aff 38.15%,#0064ff 49.05%,#0031ff 78.44%,#0000fd 98.82%,#0000fa 99.76%)"></i>
<i style="background:linear-gradient(90deg,#0000ee 0.237%,#0002ff 3.555%,#003cff 16.35%,#005aff 26.78%,#0068ff 38.15%,#0062ff 49.05%,#0032ff 77.01%,#0000fd 98.34%,#0000f9 99.76%)"></i>
<i style="background:linear-gradient(90deg,#0000ed 0.237%,#0002ff 4.028%,#0039ff 16.35%,#0058ff 27.25%,#0065ff 39.1%,#005eff 50%,#0031ff 76.54%,#0000fd 97.87%,#0000f8 99.76%)"></i>
<i style="background:linear-gradient(90deg,#0000eb 0.237%,#0001ff 4.028%,#0037ff 16.35%,#0055ff 27.25%,#0062ff 39.1%,#005cff 50%,#0031ff 75.59%,#0000fd 97.39%,#0000f7 99.76%)"></i>
<i style="background:linear-gradient(90deg,#0000ea 0.237%,#0002ff 4.502%,#0036ff 16.82%,#0054ff 27.73%,#0060ff 40.05%,#0058ff 51.42%,#002fff 75.59%,#0000fd 96.92%,#0000f6 99.76%)"></i>
<i style="background:linear-gradient(90deg,#0000e9 0.237%,#0002ff 4.976%,#0036ff 17.3%,#0052ff 28.2%,#005dff 40.52%,#0055ff 51.9%,#002dff 75.59%,#0000fd 96.45%,#0000f5 99.76%)"></i>
<i style="background:linear-gradient(90deg,#0000e7 0.237%,#0001ff 4.976%,#0033ff 17.3%,#004fff 28.67%,#005aff 41.47%,#004fff 53.79%,#0029ff 76.54%,#0000fd 95.97%,#0000f4 99.76%)"></i>
<i style="background:linear-gradient(90deg,#0000e6 0.237%,#0001ff 5.45%,#0032ff 17.77%,#004dff 29.15%,#0057ff 41.94%,#004cff 54.74%,#0026ff 77.01%,#0000fd 95.5%,#0000f4 99.76%)"></i>
<i style="background:linear-gradient(90deg,#0000e4 0.237%,#0002ff 5.924%,#0031ff 18.25%,#004bff 29.62%,#0055ff 42.89%,#0046ff 57.11%,#0021ff 78.91%,#0000fd 95.02%,#0000f3 99.76%)"></i>
<i style="background:linear-gradient(90deg,#0000e3 0.237%,#0002ff 6.398%,#0030ff 18.72%,#0049ff 30.09%,#0052ff 43.84%,#003eff 61.37%,#000eff 86.97%,#0000fc 94.55%,#0000f2 99.76%)"></i>
<i style="background:linear-gradient(90deg,#0000e1 0.237%,#0001ff 6.398%,#002eff 18.72%,#0047ff 30.57%,#004fff 44.31%,#0037ff 64.22%,#0000fd 93.6%,#0000f1 99.76%)"></i>
<i style="background:linear-gradient(90deg,#0000e0 0.237%,#0001ff 6.872%,#002dff 19.19%,#0044ff 31.04%,#004cff 45.26%,#002eff 68.48%,#0000fd 93.13%,#0000f1 99.76%)"></i>
<i style="background:linear-gradient(90deg,#0000df 0.237%,#0001ff 7.346%,#002cff 19.67%,#0042ff 31.52%,#0049ff 45.73%,#002aff 69.43%,#0000fd 92.65%,#0000f0 99.76%)"></i>
<i style="background:linear-gradient(90deg,#0000dd 0.237%,#0001ff 7.82%,#002bff 20.14%,#0040ff 32.46%,#0046ff 46.21%,#0027ff 69.91%,#0000fd 91.71%,#0000f0 99.76%)"></i>
<i style="background:linear-gradient(90deg,#0000dc 0.237%,#0002ff 8.294%,#0029ff 20.62%,#003eff 32.94%,#0043ff 46.68%,#0024ff 70.38%,#0000fd 91.23%,#0000ef 99.76%)"></i>
<i style="background:linear-gradient(90deg,#0000da 0.237%,#0002ff 8.768%,#0028ff 21.09%,#003cff 33.89%,#003fff 47.16%,#0022ff 70.38%,#0000fd 90.76%,#0000ee 99.76%)"></i>
<i style="background:linear-gradient(90deg,#0000d9 0.237%,#0002ff 9.242%,#0027ff 21.56%,#0039ff 34.36%,#003cff 47.63%,#0020ff 70.38%,#0000fc 90.28%,#0000ee 99.76%)"></i>
<i style="background:linear-gradient(90deg,#0000d7 0.237%,#0000ff 9.242%,#0024ff 21.56%,#0036ff 34.83%,#0039ff 48.1%,#001dff 70.38%,#0000fd 89.34%,#0000ed 99.76%)"></i>
<i style="background:linear-gradient(90deg,#0000d6 0.237%,#0000ff 9.716%,#0023ff 22.04%,#0034ff 35.31%,#0036ff 48.58%,#001bff 70.38%,#0000fd 88.86%,#0000ed 99.76%)"></i>
<i style="background:linear-gradient(90deg,#0000d5 0.237%,#0000ff 10.19%,#0022ff 22.99%,#0032ff 37.2%,#0032ff 49.53%,#0018ff 70.85%,#0000fc 88.39%,#0000ed 99.76%)"></i>
<i style="background:linear-gradient(90deg,#0000d3 0.237%,#0000ff 10.66%,#0021ff 23.46%,#002fff 38.15%,#002eff 50.95%,#0014ff 72.27%,#0000fd 87.44%,#0000ec 99.76%)"></i>
<i style="background:linear-gradient(90deg,#0000d2 0.237%,#0000fe 11.14%,#0020ff 24.41%,#002dff 40.05%,#002aff 53.79%,#0000fd 86.49%,#0000ec 99.76%)"></i>
<i style="background:linear-gradient(90deg,#0000d0 0.237%,#0000fe 11.61%,#001fff 25.36%,#002bff 42.42%,#0023ff 58.06%,#0000fc 86.02%,#0000eb 99.76%)"></i>
<i style="background:linear-gradient(90deg,#0000cf 0.237%,#0000fc 11.61%,#0016ff 21.56%,#0025ff 35.31%,#0026ff 50.95%,#0011ff 69.91%,#0000fc 85.07%,#0000eb 99.76%)"></i>
<i style="background:linear-gradient(90deg,#0000ce 0.237%,#0000fa 11.61%,#0005ff 14.93%,#001dff 27.73%,#0025ff 46.68%,#0017ff 64.22%,#0000fd 83.65%,#0000ea 99.76%)"></i>
<i style="background:linear-gradient(90deg,#0000cc 0.237%,#0000f9 11.61%,#0004ff 15.4%,#001aff 28.2%,#0022ff 48.1%,#0013ff 65.64%,#0000fd 82.7%,#0000ea 99.76%)"></i>
<i style="background:linear-gradient(90deg,#0000cb 0.237%,#0000f5 11.14%,#0002ff 15.4%,#0018ff 28.2%,#001fff 49.05%,#0011ff 66.11%,#0000fd 81.28%,#0000ea 99.76%)"></i>
<i style="background:linear-gradient(90deg,#0000c9 0.237%,#0000f4 11.14%,#0002ff 16.35%,#0016ff 29.15%,#001bff 50.95%,#000cff 68.01%,#0000fd 80.33%,#0000e9 99.76%)"></i>
<i style="background:linear-gradient(90deg,#0000c8 0.237%,#0000f2 11.14%,#0002ff 17.3%,#0015ff 30.09%,#0018ff 53.32%,#0005ff 71.8%,#0000fa 81.28%,#0000e9 99.76%)"></i>
<i style="background:linear-gradient(90deg,#0000c6 0.237%,#0000f0 11.14%,#0002ff 18.25%,#0013ff 31.52%,#0014ff 55.69%,#0000fd 77.01%,#0000e8 99.76%)"></i>
<i style="background:linear-gradient(90deg,#0000c5 0.237%,#0000ee 11.14%,#0002ff 19.19%,#0011ff 32.46%,#0011ff 56.64%,#0000fd 75.59%,#0000e8 99.76%)"></i>
<i style="background:linear-gradient(90deg,#0000c4 0.237%,#0000eb 10.66%,#0002ff 20.14%,#000fff 33.41%,#000eff 58.06%,#0000fc 74.64%,#0000e7 99.76%)"></i>
<i style="background:linear-gradient(90deg,#0000c2 0.237%,#0000e9 10.66%,#0001ff 21.09%,#000cff 34.36%,#000cff 58.53%,#0000fc 72.75%,#0000e7 99.76%)"></i>
<i style="background:linear-gradient(90deg,#0000c1 0.237%,#0000e8 10.66%,#0000ff 22.04%,#000aff 35.31%,#0009ff 59.48%,#0000fc 71.8%,#0000e6 99.76%)"></i>
<i style="background:linear-gradient(90deg,#0000bf 0.237%,#0000e6 10.66%,#0000ff 23.46%,#0008ff 37.68%,#0007ff 59.95%,#0000fb 70.85%,#0000e6 99.76%)"></i>
<i style="background:linear-gradient(90deg,#0000be 0.237%,#0000e4 10.66%,#0000fe 23.93%,#0006ff 43.36%,#0005ff 60.9%,#0000fb 70.38%,#0000e5 99.76%)"></i>
<i style="background:linear-gradient(90deg,#0000bd 0.237%,#0000e2 10.66%,#0000fc 23.93%,#0003ff 38.15%,#0003ff 60.43%,#0000f8 71.8%,#0000e5 99.76%)"></i>
<i style="background:linear-gradient(90deg,#0000bb 0.237%,#0000e1 10.66%,#0000fa 24.41%,#0001ff 36.26%,#0001ff 60.9%,#0000e4 99.76%)"></i>
<i style="background:linear-gradient(90deg,#0000ba 0.237%,#0000df 10.66%,#0000f8 24.41%,#0000fe 39.57%,#0000fc 63.74%,#0000e4 99.76%)"></i>
<i style="background:linear-gradient(90deg,#0000b8 0.237%,#0000dd 10.66%,#0000f6 24.41%,#0000fc 39.57%,#0000fc 61.85%,#0000e3 99.76%)"></i>
<i style="background:linear-gradient(90deg,#0000b7 0.237%,#0000dd 11.14%,#0000f6 25.36%,#0000fb 42.89%,#0000fa 62.32%,#0000e3 99.76%)"></i>
<i style="background:linear-gradient(90deg,#0000b5 0.237%,#0000db 11.14%,#0000f4 25.36%,#0000f9 42.89%,#0000f8 62.8%,#0000e3 99.76%)"></i>
<i style="background:linear-gradient(90deg,#0000b4 0.237%,#0000d9 11.14%,#0000f2 25.36%,#0000f7 42.89%,#0000f7 63.27%,#0000e2 99.76%)"></i>
<i style="background:linear-gradient(90deg,#0000b3 0.237%,#0000d7 11.14%,#0000f1 25.83%,#0000f6 45.73%,#0000f5 64.22%,#0000e2 99.76%)"></i>
<i style="background:linear-gradient(90deg,#0000b1 0.237%,#0000d7 11.61%,#0000ef 26.3%,#0000f6 53.32%,#0000e1 99.76%)"></i>
<i style="background:linear-gradient(90deg,#0000b0 0.237%,#0000d5 11.61%,#0000ee 26.3%,#0000f4 49.05%,#0000f0 68.01%,#0000e1 99.76%)"></i>
<i style="background:linear-gradient(90deg,#0000ae 0.237%,#0000d3 11.61%,#0000ec 26.3%,#0000f2 45.73%,#0000f0 66.11%,#0000e0 99.76%)"></i>
<i style="background:linear-gradient(90deg,#0000ad 0.237%,#0000d2 11.61%,#0000ea 26.3%,#0000f0 44.31%,#0000ee 66.59%,#0000e0 99.76%)"></i>
<i style="background:linear-gradient(90deg,#0000ab 0.237%,#0000d1 12.09%,#0000e9 26.78%,#0000ef 45.26%,#0000ed 67.54%,#0000df 99.76%)"></i>
<i style="background:linear-gradient(90deg,#0000aa 0.237%,#0000d0 12.09%,#0000e8 26.78%,#0000ee 44.31%,#0000eb 68.01%,#0000df 99.76%)"></i>
<i style="background:linear-gradient(90deg,#0000a8 0.237%,#0000ce 12.09%,#0000e6 26.78%,#0000ec 43.84%,#0000ea 68.96%,#0000de 99.76%)"></i>
<i style="background:linear-gradient(90deg,#0000a7 0.237%,#0000cc 12.09%,#0000e4 26.78%,#0000eb 43.36%,#0000e9 69.43%,#0000de 99.76%)"></i>
<i style="background:linear-gradient(90deg,#0000a5 0.237%,#0000cc 12.56%,#0000e4 27.73%,#0000ea 44.31%,#0000e7 70.85%,#0000dd 99.76%)"></i>
<i style="background:linear-gradient(90deg,#0000a4 0.237%,#0000ca 12.56%,#0000e2 27.73%,#0000e9 43.36%,#0000e6 71.33%,#0000dd 99.76%)"></i>
<i style="background:linear-gradient(90deg,#0000a3 0.237%,#0000c8 12.56%,#0000e1 27.73%,#0000e8 43.36%,#0000e5 72.27%,#0000dc 99.76%)"></i>
<i style="background:linear-gradient(90deg,#0000a1 0.237%,#0000c8 13.03%,#0000e0 28.2%,#0000e7 43.36%,#0000e3 73.7%,#0000dc 99.76%)"></i>
<i style="height:3px;background:linear-gradient(90deg,#0000a0 0.237%,#0000c6 13.03%,#0000df 28.2%,#0000e6 42.89%,#0000e2 75.12%,#0000db 99.76%)"></i>
</div>
<div class="bx" style="left:50px;top:260px;width:211.2px;height:172px"></div>
<div class="cb" style="left:281.3px;top:260.25px;width:24.6px;height:172.5px;background-image:linear-gradient(180deg,#800000 0.000%,#9f0000 3.125%,#bf0000 6.250%,#df0000 9.375%,#ff0000 12.500%,#ff2000 15.625%,#ff4000 18.750%,#ff6000 21.875%,#ff8000 25.000%,#ff9f00 28.125%,#ffbf00 31.250%,#ffdf00 34.375%,#ffff00 37.500%,#dfff20 40.625%,#bfff40 43.750%,#9fff60 46.875%,#80ff80 50.000%,#60ff9f 53.125%,#40ffbf 56.250%,#20ffdf 59.375%,#00ffff 62.500%,#00dfff 65.625%,#00bfff 68.750%,#009fff 71.875%,#0080ff 75.000%,#0060ff 78.125%,#0040ff 81.250%,#0020ff 84.375%,#0000ff 87.500%,#0000df 90.625%,#0000bf 93.750%,#00009f 96.875%,#000080 100.000%)"></div>
<div class="pl" style="left:390.75px;top:260px;width:211.4px;height:172px">
<i style="background:linear-gradient(90deg,#0013ff 0.237%,#0072ff 3.555%,#00c7ff 5.924%,#01fffe 7.346%,#edff12 12.56%,#fffc00 13.03%,#ff8500 15.88%,#ff3400 18.25%,#ff0500 20.14%,#f20000 21.09%,#d30000 23.46%,#ba0000 26.78%,#ae0000 31.04%,#b40000 36.26%,#d00000 43.84%,#f20000 48.58%,#ff0100 50%,#ff3100 53.32%,#ffdc00 63.27%,#ffff00 65.64%,#b2ff4d 72.27%,#00feff 89.34%,#0098ff 99.76%)"></i>
<i style="background:linear-gradient(90deg,#0011ff 0.237%,#0071ff 3.555%,#00c5ff 5.924%,#00ffff 7.346%,#fffd00 13.03%,#ff8600 15.88%,#ff3500 18.25%,#ff0600 20.14%,#fc0000 20.62%,#d80000 22.99%,#bd0000 26.3%,#b00000 30.57%,#b40000 35.78%,#ce0000 43.36%,#ee0000 48.1%,#ff0200 50%,#ff3100 53.32%,#ffdd00 63.27%,#feff01 65.64%,#b6ff49 71.8%,#00feff 89.34%,#0098ff 99.76%)"></i>
<i style="background:linear-gradient(90deg,#0010ff 0.237%,#0070ff 3.555%,#00c4ff 5.924%,#00feff 7.346%,#a9ff56 11.14%,#ffff00 13.03%,#ff8800 15.88%,#ff3700 18.25%,#ff0800 20.14%,#fd0000 20.62%,#d90000 22.99%,#c10000 25.83%,#b20000 29.62%,#b40000 34.83%,#cd0000 42.89%,#eb0000 47.63%,#ff0300 50%,#ff3200 53.32%,#ffdd00 63.27%,#fdff02 65.64%,#b5ff4a 71.8%,#00fdff 89.34%,#0097ff 99.76%)"></i>
<i style="background:linear-gradient(90deg,#000eff 0.237%,#006fff 3.555%,#00c4ff 5.924%,#00fdff 7.346%,#7cff83 10.19%,#fdff02 13.03%,#ff7900 16.35%,#ff3a00 18.25%,#ff0a00 20.14%,#ff0000 20.62%,#db0000 22.99%,#c20000 25.83%,#b40000 29.62%,#b70000 35.31%,#ce0000 42.89%,#ec0000 47.63%,#fe0000 49.53%,#ff2400 52.37%,#ffe500 63.74%,#fdff02 65.64%,#b9ff46 71.33%,#00fdff 89.34%,#0097ff 99.76%)"></i>
<i style="background:linear-gradient(90deg,#000dff 0.237%,#006fff 3.555%,#00c3ff 5.924%,#00fdff 7.346%,#50ffaf 9.242%,#fbff04 13.03%,#ffda00 13.98%,#ff7c00 16.35%,#ff3d00 18.25%,#ff0d00 20.14%,#ff0300 20.62%,#e30000 22.51%,#c60000 25.36%,#b70000 29.15%,#b90000 34.83%,#cd0000 42.42%,#e90000 47.16%,#ff0000 49.53%,#ff2d00 52.84%,#ffe600 63.74%,#fcff03 65.64%,#b8ff47 71.33%,#02fffd 88.86%,#0096ff 99.76%)"></i>
<i style="background:linear-gradient(90deg,#000dff 0.237%,#006fff 3.555%,#00d5ff 6.398%,#00fcff 7.346%,#39ffc6 8.768%,#f8ff07 13.03%,#fff200 13.51%,#ff8000 16.35%,#ff3400 18.72%,#ff0700 20.62%,#fc0000 21.09%,#da0000 23.46%,#c20000 26.3%,#b70000 30.09%,#c20000 38.63%,#d70000 44.31%,#f70000 48.58%,#ff0200 49.53%,#ff3500 53.32%,#ffe700 63.74%,#fffc00 65.17%,#e9ff16 67.06%,#9aff65 74.17%,#02fffd 88.86%,#0096ff 99.76%)"></i>
<i style="background:linear-gradient(90deg,#000cff 0.237%,#006eff 3.555%,#00d5ff 6.398%,#00fbff 7.346%,#24ffdb 8.294%,#f5ff0a 13.03%,#fff500 13.51%,#ff8400 16.35%,#ff3800 18.72%,#ff0a00 20.62%,#ff0100 21.09%,#dc0000 23.46%,#c40000 26.3%,#ba0000 30.09%,#c60000 39.57%,#db0000 44.79%,#fd0000 49.05%,#ff1a00 51.42%,#ff6600 56.16%,#ffe700 63.74%,#fffc00 65.17%,#adff52 72.27%,#01fffe 88.86%,#0096ff 99.76%)"></i>
<i style="background:linear-gradient(90deg,#000cff 0.237%,#006eff 3.555%,#00d4ff 6.398%,#00faff 7.346%,#0ffff0 7.82%,#f2ff0d 13.03%,#fff800 13.51%,#ff8800 16.35%,#ff3c00 18.72%,#ff0400 21.09%,#f30000 22.04%,#d50000 24.41%,#c20000 27.25%,#bc0000 31.04%,#ca0000 40.52%,#e20000 45.73%,#fe0000 49.05%,#ff2900 52.37%,#ff9000 58.53%,#fff600 64.69%,#faff05 65.64%,#b6ff49 71.33%,#01fffe 88.86%,#0096ff 99.76%)"></i>
<i style="background:linear-gradient(90deg,#000bff 0.237%,#006eff 3.555%,#00d4ff 6.398%,#00f9ff 7.346%,#0efff1 7.82%,#efff10 13.03%,#fffb00 13.51%,#ff8c00 16.35%,#ff4000 18.72%,#ff0800 21.09%,#fe0000 21.56%,#dd0000 23.93%,#c70000 26.78%,#bf0000 30.57%,#cc0000 40.52%,#e10000 45.26%,#ff0100 49.05%,#ff3100 52.84%,#fff000 64.22%,#fffe00 65.17%,#b6ff49 71.33%,#01fffe 88.86%,#0096ff 99.76%)"></i>
<i style="background:linear-gradient(90deg,#000bff 0.237%,#006eff 3.555%,#00d3ff 6.398%,#00f8ff 7.346%,#0cfff3 7.82%,#ffff00 13.51%,#ff9000 16.35%,#ff4500 18.72%,#ff0c00 21.09%,#ff0300 21.56%,#e50000 23.46%,#cc0000 26.3%,#c20000 29.62%,#ce0000 40.52%,#e20000 45.26%,#ff0300 49.05%,#ff3300 52.84%,#ffaa00 59.95%,#fffe00 65.17%,#baff45 70.85%,#00ffff 88.86%,#0096ff 99.76%)"></i>
<i style="background:linear-gradient(90deg,#000bff 0.237%,#006dff 3.555%,#00d2ff 6.398%,#00f7ff 7.346%,#0bfff4 7.82%,#fbff04 13.51%,#ffdc00 14.45%,#ff8400 16.82%,#ff3c00 19.19%,#ff0700 21.56%,#fe0000 22.04%,#de0000 24.41%,#ca0000 27.25%,#c40000 31.04%,#d10000 41%,#e70000 45.73%,#ff0000 48.58%,#ff2d00 52.37%,#ff8a00 58.06%,#fff800 64.69%,#ffff00 65.17%,#beff41 70.38%,#00ffff 88.86%,#0096ff 99.76%)"></i>
<i style="background:linear-gradient(90deg,#000aff 0.237%,#006dff 3.555%,#00d1ff 6.398%,#00f5ff 7.346%,#09fff6 7.82%,#f7ff08 13.51%,#fff300 13.98%,#ff8900 16.82%,#ff4100 19.19%,#ff0b00 21.56%,#ff0300 22.04%,#d80000 25.36%,#c80000 28.67%,#cc0000 37.2%,#d90000 42.89%,#f30000 47.16%,#ff0100 48.58%,#ff3600 52.84%,#ff9b00 59%,#fff900 64.69%,#feff01 65.17%,#b9ff46 70.85%,#00ffff 88.86%,#0096ff 99.76%)"></i>
<i style="background:linear-gradient(90deg,#000aff 0.237%,#006cff 3.555%,#00e1ff 6.872%,#00f4ff 7.346%,#07fff8 7.82%,#f3ff0c 13.51%,#fff800 13.98%,#ff8e00 16.82%,#ff4600 19.19%,#ff1000 21.56%,#fe0000 22.51%,#e00000 24.88%,#ce0000 27.73%,#ca0000 31.99%,#d50000 41%,#eb0000 45.73%,#fe0000 48.1%,#ff2300 51.42%,#ff6b00 56.16%,#fff200 64.22%,#feff01 65.17%,#b8ff47 70.85%,#00ffff 88.86%,#0096ff 99.76%)"></i>
<i style="background:linear-gradient(90deg,#000aff 0.237%,#006cff 3.555%,#00e0ff 6.872%,#00f2ff 7.346%,#05fffa 7.82%,#efff10 13.51%,#fffc00 13.98%,#ff9200 16.82%,#ff4a00 19.19%,#ff1400 21.56%,#ff0300 22.51%,#e40000 24.88%,#d10000 27.73%,#cd0000 31.99%,#d70000 41%,#ec0000 45.73%,#ff0000 48.1%,#ff3200 52.37%,#ff8c00 58.06%,#fffa00 64.69%,#f6ff09 65.64%,#b3ff4c 71.33%,#00ffff 88.86%,#0096ff 99.76%)"></i>
<i style="background:linear-gradient(90deg,#000aff 0.237%,#006bff 3.555%,#00deff 6.872%,#03fffc 7.82%,#feff01 13.98%,#ff8700 17.3%,#ff4300 19.67%,#ff0f00 22.04%,#ff0000 22.99%,#e30000 25.36%,#d30000 28.2%,#d00000 32.94%,#d90000 41%,#ee0000 45.73%,#ff0200 48.1%,#ff3300 52.37%,#ff8d00 58.06%,#fffb00 64.69%,#f6ff09 65.64%,#b2ff4d 71.33%,#00feff 88.86%,#0096ff 99.76%)"></i>
<i style="background:linear-gradient(90deg,#000aff 0.237%,#006aff 3.555%,#00dbff 6.872%,#00ffff 7.82%,#f9ff06 13.98%,#fff200 14.45%,#ff8c00 17.3%,#ff4700 19.67%,#ff1400 22.04%,#ff0400 22.99%,#f60000 23.93%,#dc0000 26.78%,#d10000 30.57%,#d80000 40.05%,#ea0000 44.79%,#ff0000 47.63%,#ff2800 51.42%,#ff6e00 56.16%,#fffb00 64.69%,#efff10 66.11%,#a8ff57 72.27%,#00feff 88.86%,#0096ff 99.76%)"></i>
<i style="background:linear-gradient(90deg,#0009ff 0.237%,#0069ff 3.555%,#00d9ff 6.872%,#00fdff 7.82%,#5bffa4 10.19%,#f5ff0a 13.98%,#fff700 14.45%,#ff9100 17.3%,#ff4c00 19.67%,#ff1800 22.04%,#ff0100 23.46%,#e30000 26.3%,#d50000 29.62%,#d80000 38.63%,#e70000 43.84%,#ff0100 47.63%,#ff3000 51.9%,#ff7e00 57.11%,#fffc00 64.69%,#e2ff1d 67.06%,#94ff6b 74.17%,#00feff 88.86%,#0096ff 99.76%)"></i>
<i style="background:linear-gradient(90deg,#0009ff 0.237%,#0076ff 4.028%,#00e8ff 7.346%,#00faff 7.82%,#0dfff2 8.294%,#f0ff0f 13.98%,#fffb00 14.45%,#ff9600 17.3%,#ff5100 19.67%,#ff1d00 22.04%,#fe0000 23.93%,#e40000 26.78%,#d70000 30.57%,#db0000 39.57%,#eb0000 44.31%,#fe0000 47.16%,#ff2600 50.95%,#ff6800 55.69%,#fffc00 64.69%,#abff54 71.8%,#00feff 88.86%,#0096ff 99.76%)"></i>
<i style="background:linear-gradient(90deg,#0009ff 0.237%,#0075ff 4.028%,#00e5ff 7.346%,#00f7ff 7.82%,#09fff6 8.294%,#feff01 14.45%,#ff9b00 17.3%,#ff5600 19.67%,#ff2200 22.04%,#ff0400 23.93%,#f30000 25.36%,#de0000 28.67%,#d90000 33.89%,#e10000 41%,#f60000 45.73%,#ff0100 47.16%,#ff2d00 51.42%,#ff7900 56.64%,#fffd00 64.69%,#b0ff4f 71.33%,#00feff 88.86%,#0096ff 99.76%)"></i>
<i style="background:linear-gradient(90deg,#0008ff 0.237%,#0073ff 4.028%,#00e2ff 7.346%,#00f3ff 7.82%,#06fff9 8.294%,#faff05 14.45%,#fff300 14.93%,#ff9100 17.77%,#ff4f00 20.14%,#ff1e00 22.51%,#ff0200 24.41%,#e40000 28.2%,#db0000 32.94%,#e20000 40.52%,#f50000 45.26%,#ff0300 47.16%,#ff2f00 51.42%,#ff7a00 56.64%,#fffd00 64.69%,#b4ff4b 70.85%,#00feff 88.86%,#0096ff 99.76%)"></i>
<i style="background:linear-gradient(90deg,#0008ff 0.237%,#0072ff 4.028%,#00dfff 7.346%,#03fffc 8.294%,#f5ff0a 14.45%,#fff700 14.93%,#ff9600 17.77%,#ff5400 20.14%,#ff2300 22.51%,#ff0200 24.88%,#e60000 28.67%,#de0000 33.89%,#e50000 41%,#fa0000 45.73%,#ff0500 47.16%,#ff3100 51.42%,#ff7b00 56.64%,#fffe00 64.69%,#b4ff4b 70.85%,#00fdff 88.86%,#0096ff 99.76%)"></i>
<i style="background:linear-gradient(90deg,#0007ff 0.237%,#0070ff 4.028%,#00dcff 7.346%,#00feff 8.294%,#f0ff0f 14.45%,#fffc00 14.93%,#ff9b00 17.77%,#ff5a00 20.14%,#ff2900 22.51%,#ff0700 24.88%,#fc0000 25.83%,#e80000 29.15%,#e00000 34.36%,#e90000 41.47%,#ff0000 46.21%,#ff2700 50.47%,#ff6700 55.21%,#ffff00 64.69%,#b8ff47 70.38%,#00fdff 88.86%,#0096ff 99.76%)"></i>
<i style="background:linear-gradient(90deg,#0007ff 0.237%,#006eff 4.028%,#00d9ff 7.346%,#00fbff 8.294%,#1fffe0 9.242%,#fdff02 14.93%,#ff9200 18.25%,#ff5400 20.62%,#ff2600 22.99%,#ff0200 25.83%,#ea0000 29.62%,#e30000 35.31%,#ec0000 41.94%,#ff0200 46.21%,#ff2900 50.47%,#ff6800 55.21%,#ffff00 64.69%,#bdff42 69.91%,#00fdff 88.86%,#0096ff 99.76%)"></i>
<i style="background:linear-gradient(90deg,#0006ff 0.237%,#006cff 4.028%,#00d6ff 7.346%,#00f7ff 8.294%,#0afff5 8.768%,#f8ff07 14.93%,#fff500 15.4%,#ff9700 18.25%,#ff5a00 20.62%,#ff2c00 22.99%,#ff0700 25.83%,#fa0000 27.25%,#e90000 31.04%,#e60000 37.2%,#f20000 42.89%,#ff0100 45.73%,#ff2600 50%,#ff6200 54.74%,#fff900 64.22%,#feff01 64.69%,#b7ff48 70.38%,#00fdff 88.86%,#0096ff 99.76%)"></i>
<i style="background:linear-gradient(90deg,#0005ff 0.237%,#006aff 4.028%,#00d3ff 7.346%,#00f4ff 8.294%,#07fff8 8.768%,#f3ff0c 14.93%,#fffa00 15.4%,#ff9d00 18.25%,#ff6000 20.62%,#ff3100 22.99%,#ff0c00 25.83%,#fe0000 27.25%,#ed0000 31.04%,#e90000 37.2%,#f50000 42.89%,#ff0400 45.73%,#ff2800 50%,#ff6400 54.74%,#fffa00 64.22%,#f6ff09 65.17%,#b1ff4e 70.85%,#00fdff 88.86%,#0096ff 99.76%)"></i>
<i style="background:linear-gradient(90deg,#0005ff 0.237%,#0069ff 4.028%,#00d1ff 7.346%,#04fffb 8.768%,#feff01 15.4%,#ffa300 18.25%,#ff6600 20.62%,#ff3700 22.99%,#ff1100 25.83%,#ff0100 27.73%,#ee0000 31.99%,#ed0000 38.15%,#fb0000 43.84%,#ff0600 45.73%,#ff2a00 50%,#ff6600 54.74%,#fffb00 64.22%,#efff10 65.64%,#a6ff59 71.8%,#02fffd 88.39%,#0096ff 99.76%)"></i>
<i style="background:linear-gradient(90deg,#0004ff 0.237%,#0067ff 4.028%,#00ceff 7.346%,#01fffe 8.768%,#f9ff06 15.4%,#fff500 15.88%,#ff9c00 18.72%,#ff6100 21.09%,#ff2e00 23.93%,#ff0d00 26.78%,#fe0000 28.67%,#ef0000 33.41%,#f20000 40.05%,#ff0300 44.79%,#ff2300 49.05%,#ff5a00 53.79%,#ffc100 60.43%,#fffd00 64.22%,#aaff55 71.33%,#02fffd 88.39%,#0096ff 99.76%)"></i>
<i style="background:linear-gradient(90deg,#0003ff 0.237%,#0065ff 4.028%,#00cbff 7.346%,#00fdff 8.768%,#9dff62 13.03%,#f3ff0c 15.4%,#fffb00 15.88%,#ffa200 18.72%,#ff6700 21.09%,#ff3300 23.93%,#ff1200 26.78%,#fe0000 29.62%,#f20000 34.36%,#f70000 41%,#ff0300 44.31%,#ff2100 48.58%,#ff4f00 52.84%,#ff9c00 58.06%,#fffe00 64.22%,#aeff51 70.85%,#01fffe 88.39%,#0096ff 99.76%)"></i>
<i style="background:linear-gradient(90deg,#0003ff 0.237%,#0063ff 4.028%,#00c9ff 7.346%,#00faff 8.768%,#0cfff3 9.242%,#eeff11 15.4%,#feff01 15.88%,#ff9b00 19.19%,#ff6300 21.56%,#ff3200 24.41%,#ff1200 27.25%,#fe0000 30.57%,#f40000 35.78%,#fe0000 42.42%,#ff1100 46.21%,#ff3600 50.47%,#ff7200 55.21%,#ffff00 64.22%,#b8ff47 69.91%,#01fffe 88.39%,#0096ff 99.76%)"></i>
<i style="background:linear-gradient(90deg,#0002ff 0.237%,#006fff 4.502%,#00d7ff 7.82%,#00f7ff 8.768%,#09fff6 9.242%,#f8ff07 15.88%,#fff600 16.35%,#ffa200 19.19%,#ff6000 22.04%,#ff3100 24.88%,#ff1300 27.73%,#fe0000 31.52%,#f70000 36.73%,#ff0100 42.42%,#ff1700 46.68%,#ff3d00 50.95%,#ff7b00 55.69%,#fffa00 63.74%,#feff01 64.22%,#b7ff48 69.91%,#01fffe 88.39%,#0096ff 99.76%)"></i>
<i style="background:linear-gradient(90deg,#0002ff 0.237%,#006eff 4.502%,#00c4ff 7.346%,#00f5ff 8.768%,#06fff9 9.242%,#f2ff0d 15.88%,#fffc00 16.35%,#ffa800 19.19%,#ff6600 22.04%,#ff3600 24.88%,#ff1800 27.73%,#ff0300 31.52%,#fb0000 38.15%,#ff0400 42.42%,#ff1a00 46.68%,#ff4000 50.95%,#ff7d00 55.69%,#fffb00 63.74%,#f5ff0a 64.69%,#abff54 70.85%,#01fffe 88.39%,#0097ff 99.76%)"></i>
<i style="background:linear-gradient(90deg,#0002ff 0.237%,#006cff 4.502%,#00c2ff 7.346%,#00f2ff 8.768%,#04fffb 9.242%,#edff12 15.88%,#fcff03 16.35%,#ff9600 20.14%,#ff5a00 22.99%,#ff3000 25.83%,#ff1300 29.15%,#ff0200 33.41%,#ff0200 40.52%,#ff1400 45.26%,#ff3400 49.53%,#ff6a00 54.27%,#fffd00 63.74%,#a5ff5a 71.33%,#00ffff 88.39%,#0097ff 99.76%)"></i>
<i style="background:linear-gradient(90deg,#0002ff 0.237%,#006bff 4.502%,#00c0ff 7.346%,#01fffe 9.242%,#e7ff18 15.88%,#f7ff08 16.35%,#fff900 16.82%,#ffa800 19.67%,#ff6800 22.51%,#ff3b00 25.36%,#ff1a00 28.67%,#ff0600 32.94%,#ff0200 38.15%,#ff0e00 43.36%,#ff2600 47.63%,#ff5500 52.37%,#ff9600 57.11%,#fffe00 63.74%,#aeff51 70.38%,#00ffff 88.39%,#0097ff 99.76%)"></i>
<i style="background:linear-gradient(90deg,#0002ff 0.237%,#006aff 4.502%,#00bfff 7.346%,#00feff 9.242%,#f1ff0e 16.35%,#fffe00 16.82%,#ffae00 19.67%,#ff6e00 22.51%,#ff4000 25.36%,#ff1f00 28.67%,#ff0a00 32.94%,#ff0600 38.15%,#ff1100 43.36%,#ff2d00 48.1%,#ff5d00 52.84%,#ffa000 57.58%,#feff01 63.74%,#b2ff4d 69.91%,#2dffd2 83.65%,#00ffff 88.39%,#0097ff 99.76%)"></i>
<i style="background:linear-gradient(90deg,#0002ff 0.237%,#006aff 4.502%,#00ccff 7.82%,#00fbff 9.242%,#1cffe3 10.19%,#ebff14 16.35%,#faff05 16.82%,#ffe800 17.77%,#ff9d00 20.62%,#ff6300 23.46%,#ff3a00 26.3%,#ff1d00 29.62%,#ff0c00 33.89%,#ff0a00 39.57%,#ff1a00 44.79%,#ff3800 49.05%,#ff6c00 53.79%,#ffc000 59.48%,#fdff02 63.74%,#b1ff4e 69.91%,#35ffca 82.7%,#00ffff 88.39%,#0097ff 99.76%)"></i>
<i style="background:linear-gradient(90deg,#0002ff 0.237%,#006aff 4.502%,#00cbff 7.82%,#00f9ff 9.242%,#09fff6 9.716%,#e6ff19 16.35%,#fffb00 17.3%,#ffa300 20.62%,#ff6900 23.46%,#ff4000 26.3%,#ff2200 29.62%,#ff1000 33.89%,#ff0d00 39.1%,#ff1b00 44.31%,#ff3b00 49.05%,#ff6e00 53.79%,#ffc200 59.48%,#fffc00 63.27%,#e8ff17 65.17%,#9cff63 71.8%,#00feff 88.39%,#0097ff 99.76%)"></i>
<i style="background:linear-gradient(90deg,#0003ff 0.237%,#0069ff 4.502%,#00c9ff 7.82%,#00f6ff 9.242%,#07fff8 9.716%,#e0ff1f 16.35%,#fdff02 17.3%,#ff9e00 21.09%,#ff6600 23.93%,#ff4000 26.78%,#ff2400 30.09%,#ff1200 34.36%,#ff1100 39.57%,#ff2100 44.79%,#ff4200 49.53%,#ff7700 54.27%,#fffd00 63.27%,#aaff55 70.38%,#1effe1 85.07%,#00feff 88.39%,#0097ff 99.76%)"></i>
<i style="background:linear-gradient(90deg,#0003ff 0.237%,#0069ff 4.502%,#00d6ff 8.294%,#00f4ff 9.242%,#04fffb 9.716%,#dbff24 16.35%,#f7ff08 17.3%,#fff900 17.77%,#ffa400 21.09%,#ff6c00 23.93%,#ff4500 26.78%,#ff2600 30.57%,#ff1600 34.83%,#ff1500 40.05%,#ff2700 45.26%,#ff4a00 50%,#ff8100 54.74%,#ffff00 63.27%,#b3ff4c 69.43%,#4dffb2 79.86%,#00feff 88.39%,#0096ff 99.76%)"></i>
<i style="background:linear-gradient(90deg,#0004ff 0.237%,#0069ff 4.502%,#00d4ff 8.294%,#02fffd 9.716%,#e3ff1c 16.82%,#ffff00 17.77%,#ffaa00 21.09%,#ff7200 23.93%,#ff4b00 26.78%,#ff2a00 30.57%,#ff1a00 34.83%,#ff1900 40.05%,#ff2a00 45.26%,#ff4e00 50%,#ff8400 54.74%,#fdff02 63.27%,#b1ff4e 69.43%,#4cffb3 79.86%,#00fdff 88.39%,#0096ff 99.76%)"></i>
<i style="background:linear-gradient(90deg,#0004ff 0.237%,#0069ff 4.502%,#00d3ff 8.294%,#00feff 9.716%,#deff21 16.82%,#f9ff06 17.77%,#fff800 18.25%,#ffa600 21.56%,#ff7000 24.41%,#ff4600 27.73%,#ff2a00 31.52%,#ff1c00 36.26%,#ff2000 41.47%,#ff3400 46.21%,#ff5a00 50.95%,#ff9500 55.69%,#fffc00 62.8%,#a1ff5e 70.85%,#03fffc 87.91%,#0096ff 99.76%)"></i>
<i style="background:linear-gradient(90deg,#0005ff 0.237%,#0074ff 4.976%,#00edff 9.242%,#00fcff 9.716%,#29ffd6 11.14%,#e6ff19 17.3%,#fffe00 18.25%,#ffac00 21.56%,#ff7600 24.41%,#ff4c00 27.73%,#ff2f00 31.52%,#ff2000 36.26%,#ff2400 41.47%,#ff3800 46.21%,#ff5e00 50.95%,#ff9800 55.69%,#ffff00 62.8%,#afff50 69.43%,#4fffb0 79.38%,#00fdff 88.39%,#0096ff 99.76%)"></i>
<i style="background:linear-gradient(90deg,#0005ff 0.237%,#0074ff 4.976%,#00ebff 9.242%,#00f9ff 9.716%,#08fff7 10.19%,#e0ff1f 17.3%,#faff05 18.25%,#ffeb00 19.19%,#ff9f00 22.51%,#ff6f00 25.36%,#ff4900 28.67%,#ff3000 32.46%,#ff2400 37.2%,#ff2a00 42.42%,#ff4200 47.16%,#ff6700 51.42%,#ffa900 56.64%,#fdff02 62.8%,#aeff51 69.43%,#4fffb0 79.38%,#00fdff 88.39%,#0096ff 99.76%)"></i>
<i style="background:linear-gradient(90deg,#0006ff 0.237%,#0073ff 4.976%,#00e8ff 9.242%,#00f6ff 9.716%,#05fffa 10.19%,#daff25 17.3%,#fffd00 18.72%,#ffaf00 22.04%,#ff7c00 24.88%,#ff5300 28.2%,#ff3700 31.99%,#ff2900 36.73%,#ff2d00 41.94%,#ff4300 46.68%,#ff6600 50.95%,#ffa600 56.16%,#fffd00 62.32%,#9eff61 70.85%,#02fffd 87.91%,#0096ff 99.76%)"></i>
<i style="background:linear-gradient(90deg,#0006ff 0.237%,#0072ff 4.976%,#00e5ff 9.242%,#02fffd 10.19%,#d4ff2b 17.3%,#faff05 18.72%,#ffec00 19.67%,#ffa300 22.99%,#ff7500 25.83%,#ff5100 29.15%,#ff3800 32.94%,#ff2d00 37.68%,#ff3500 42.89%,#ff4e00 47.63%,#ff7400 51.9%,#ffc400 58.06%,#ffff00 62.32%,#abff54 69.43%,#49ffb6 79.86%,#01fffe 87.91%,#0096ff 99.76%)"></i>
<i style="background:linear-gradient(90deg,#0006ff 0.237%,#0071ff 4.976%,#00e3ff 9.242%,#00feff 10.19%,#dbff24 17.77%,#fffe00 19.19%,#ffb300 22.51%,#ff8300 25.36%,#ff5b00 28.67%,#ff4000 32.46%,#ff3200 37.2%,#ff3700 41.94%,#ff4c00 46.68%,#ff6e00 50.95%,#ffae00 56.16%,#fffc00 61.85%,#eaff15 63.74%,#96ff69 71.33%,#01fffe 87.91%,#0096ff 99.76%)"></i>
<i style="background:linear-gradient(90deg,#0006ff 0.237%,#0070ff 4.976%,#00e0ff 9.242%,#00fbff 10.19%,#17ffe8 11.14%,#d5ff2a 17.77%,#faff05 19.19%,#fff900 19.67%,#ffb100 22.99%,#ff7c00 26.3%,#ff5500 30.09%,#ff3e00 34.36%,#ff3700 39.1%,#ff4200 43.84%,#ff5e00 48.58%,#ff8700 52.84%,#ffff00 61.85%,#a8ff57 69.43%,#40ffbf 80.81%,#01fffe 87.91%,#0096ff 99.76%)"></i>
<i style="background:linear-gradient(90deg,#0006ff 0.237%,#007aff 5.45%,#00f8ff 10.19%,#06fff9 10.66%,#cfff30 17.77%,#ffff00 19.67%,#ffb800 22.99%,#ff8300 26.3%,#ff5c00 30.09%,#ff4300 34.36%,#ff3c00 39.1%,#ff4700 43.84%,#ff6300 48.58%,#ff8c00 52.84%,#fffb00 61.37%,#f1ff0e 62.8%,#99ff66 70.85%,#01fffe 87.91%,#0096ff 99.76%)"></i>
<i style="background:linear-gradient(90deg,#0006ff 0.237%,#0079ff 5.45%,#03fffc 10.66%,#c9ff36 17.77%,#f8ff07 19.67%,#fffb00 20.14%,#ffb700 23.46%,#ff8400 26.78%,#ff5e00 30.57%,#ff4800 34.83%,#ff4200 39.57%,#ff4e00 44.31%,#ff6f00 49.53%,#ff9c00 53.79%,#ffff00 61.37%,#a1ff5e 69.91%,#00ffff 87.91%,#0096ff 99.76%)"></i>
<i style="background:linear-gradient(90deg,#0005ff 0.237%,#0077ff 5.45%,#00f1ff 10.19%,#00feff 10.66%,#cfff30 18.25%,#fcff03 20.14%,#ffae00 24.41%,#ff8000 27.73%,#ff5e00 31.52%,#ff4b00 35.78%,#ff4900 40.52%,#ff5800 45.26%,#ff7900 50%,#ffad00 54.74%,#fffc00 60.9%,#e6ff19 63.27%,#89ff76 72.27%,#00ffff 87.91%,#0096ff 99.76%)"></i>
<i style="background:linear-gradient(90deg,#0005ff 0.237%,#0075ff 5.45%,#00edff 10.19%,#00faff 10.66%,#15ffea 11.61%,#bdff42 17.77%,#fffe00 20.62%,#ffbd00 23.93%,#ff8d00 27.25%,#ff6800 31.04%,#ff5300 35.31%,#ff4e00 40.05%,#ff5c00 44.79%,#ff7e00 50%,#ffb100 54.74%,#ffff00 60.9%,#a3ff5c 69.43%,#00ffff 87.91%,#0096ff 99.76%)"></i>
<i style="background:linear-gradient(90deg,#0005ff 0.237%,#0073ff 5.45%,#00eaff 10.19%,#04fffb 11.14%,#b6ff49 17.77%,#f9ff06 20.62%,#fffb00 21.09%,#ffbd00 24.41%,#ff8a00 28.2%,#ff6900 31.99%,#ff5700 36.26%,#ff5600 41%,#ff6700 45.73%,#ff8800 50.47%,#ffc800 56.16%,#fffd00 60.43%,#90ff6f 71.33%,#00feff 87.91%,#0095ff 99.76%)"></i>
<i style="background:linear-gradient(90deg,#0004ff 0.237%,#007cff 5.924%,#01fffe 11.14%,#b0ff4f 17.77%,#fcff03 21.09%,#ffbd00 24.88%,#ff8c00 28.67%,#ff6d00 32.46%,#ff5c00 37.2%,#ff5d00 41.47%,#ff7300 46.68%,#ff9700 51.42%,#feff01 60.43%,#a0ff5f 69.43%,#00feff 87.91%,#0095ff 99.76%)"></i>
<i style="background:linear-gradient(90deg,#0004ff 0.237%,#007aff 5.924%,#00efff 10.66%,#00fcff 11.14%,#30ffcf 13.03%,#c1ff3e 18.72%,#ffff00 21.56%,#ffbe00 25.36%,#ff8f00 29.15%,#ff7200 32.94%,#ff6200 37.68%,#ff6400 41.94%,#ff7c00 47.16%,#ffa200 51.9%,#fffe00 59.95%,#96ff69 70.38%,#00feff 87.91%,#0095ff 99.76%)"></i>
<i style="background:linear-gradient(90deg,#0003ff 0.237%,#0078ff 5.924%,#00ecff 10.66%,#00f8ff 11.14%,#05fffa 11.61%,#a4ff5b 17.77%,#f7ff08 21.56%,#fffd00 22.04%,#ffbf00 25.83%,#ff9200 29.62%,#ff7700 33.41%,#ff6900 38.15%,#ff6c00 42.42%,#ff8600 47.63%,#ffad00 52.37%,#fffc00 59.48%,#88ff77 71.8%,#00fdff 87.91%,#0095ff 99.76%)"></i>
<i style="background:linear-gradient(90deg,#0003ff 0.237%,#0076ff 5.924%,#00e8ff 10.66%,#01fffe 11.61%,#9eff61 17.77%,#f9ff06 22.04%,#fffc00 22.51%,#ffc000 26.3%,#ff9600 30.09%,#ff7b00 34.36%,#ff6f00 39.1%,#ff7700 43.36%,#ff9300 48.58%,#ffc200 53.79%,#feff01 59.48%,#98ff67 69.91%,#00fdff 87.91%,#0095ff 99.76%)"></i>
<i style="background:linear-gradient(90deg,#0003ff 0.237%,#0073ff 5.924%,#00e4ff 10.66%,#00fcff 11.61%,#adff52 18.72%,#faff05 22.51%,#fff300 23.46%,#ffbd00 27.25%,#ff9700 31.04%,#ff7f00 35.31%,#ff7700 40.05%,#ff8200 44.31%,#ffa500 50%,#ffeb00 57.11%,#ffff00 59%,#96ff69 69.91%,#00fdff 87.91%,#0094ff 99.76%)"></i>
<i style="background:linear-gradient(90deg,#0002ff 0.237%,#007bff 6.398%,#00ecff 11.14%,#00f9ff 11.61%,#06fff9 12.09%,#91ff6e 17.77%,#eaff15 22.04%,#fbff04 22.99%,#fff400 23.93%,#ffbf00 27.73%,#ff9c00 31.52%,#ff8500 35.78%,#ff7f00 40.52%,#ff8e00 45.26%,#ffb400 50.95%,#fffe00 58.53%,#85ff7a 71.8%,#00fcff 87.91%,#0094ff 99.76%)"></i>
<i style="background:linear-gradient(90deg,#0002ff 0.237%,#0078ff 6.398%,#00e9ff 11.14%,#02fffd 12.09%,#8bff74 17.77%,#e2ff1d 22.04%,#fbff04 23.46%,#fff400 24.41%,#ffc300 28.2%,#ff9e00 32.46%,#ff8a00 37.2%,#ff8800 41.47%,#ff9d00 46.68%,#ffc700 52.37%,#fffe00 58.06%,#74ff8b 73.7%,#01fffe 87.44%,#0094ff 99.76%)"></i>
<i style="background:linear-gradient(90deg,#0001ff 0.237%,#0076ff 6.398%,#00e5ff 11.14%,#00fdff 12.09%,#99ff66 18.72%,#ebff14 22.99%,#fffd00 24.41%,#ffc600 28.67%,#ffa400 32.94%,#ff9100 37.68%,#ff9100 41.94%,#ffaa00 47.63%,#ffd600 53.32%,#fffe00 57.58%,#5fffa0 76.07%,#01fffe 87.44%,#0093ff 99.76%)"></i>
<i style="background:linear-gradient(90deg,#0001ff 0.237%,#0074ff 6.398%,#00d6ff 10.66%,#00f9ff 12.09%,#05fffa 12.56%,#89ff76 18.25%,#dbff24 22.51%,#fffe00 24.88%,#ffca00 29.15%,#ffaa00 33.41%,#ff9900 38.15%,#ff9b00 42.42%,#ffb500 48.1%,#ffe400 54.27%,#fffe00 57.11%,#40ffbf 79.86%,#00ffff 87.44%,#0093ff 99.76%)"></i>
<i style="background:linear-gradient(90deg,#0000ff 0.237%,#0071ff 6.398%,#00d2ff 10.66%,#01fffe 12.56%,#79ff86 17.77%,#cbff34 22.04%,#feff01 25.36%,#ffcf00 29.62%,#ffb000 33.89%,#ffa100 38.63%,#ffa500 42.89%,#ffbf00 48.58%,#fff600 55.69%,#fbff04 57.11%,#00ffff 87.44%,#0093ff 99.76%)"></i>
<i style="background:linear-gradient(90deg,#0000fe 0.237%,#006fff 6.398%,#00dbff 11.14%,#00fdff 12.56%,#86ff79 18.72%,#d3ff2c 22.99%,#fcff03 25.83%,#ffeb00 27.73%,#ffc500 31.99%,#ffae00 36.73%,#ffaa00 41%,#ffba00 46.21%,#ffe100 52.37%,#ffff00 56.16%,#00ffff 87.44%,#0092ff 99.76%)"></i>
<i style="background:linear-gradient(90deg,#0000fe 0.237%,#0064ff 5.924%,#00c1ff 10.19%,#00f9ff 12.56%,#05fffa 13.03%,#76ff89 18.25%,#c3ff3c 22.51%,#ffff00 26.78%,#ffd500 31.04%,#ffba00 35.78%,#ffb200 40.05%,#ffbc00 44.79%,#ffdd00 50.95%,#fdff02 55.69%,#00feff 87.44%,#0092ff 99.76%)"></i>
<i style="background:linear-gradient(90deg,#0000fd 0.237%,#0059ff 5.45%,#00b3ff 9.716%,#01fffe 13.03%,#70ff8f 18.25%,#c2ff3d 22.99%,#fbff04 27.25%,#fff400 28.67%,#ffcf00 33.41%,#ffbd00 38.15%,#ffbe00 42.42%,#ffd500 48.58%,#fffe00 54.74%,#2dffd2 81.75%,#00fdff 87.44%,#0092ff 99.76%)"></i>
<i style="background:linear-gradient(90deg,#0000fc 0.237%,#0035ff 3.555%,#0087ff 7.82%,#00fcff 13.03%,#57ffa8 17.3%,#acff53 22.04%,#edff12 26.78%,#fffd00 28.67%,#ffd800 33.41%,#ffc600 38.15%,#ffc700 42.42%,#ffdf00 49.05%,#feff01 54.27%,#5effa1 75.59%,#00fdff 87.44%,#0091ff 99.76%)"></i>
<i style="background:linear-gradient(90deg,#0000fb 0.237%,#000cff 1.185%,#0068ff 6.398%,#00e3ff 12.09%,#00f8ff 13.03%,#04fffb 13.51%,#6cff93 18.72%,#b9ff46 23.46%,#f3ff0c 28.2%,#fffd00 29.62%,#ffdd00 34.36%,#ffce00 39.1%,#ffd300 43.84%,#ffed00 50.47%,#fcff03 53.79%,#7eff81 71.33%,#01fffe 86.97%,#0091ff 99.76%)"></i>
<i style="background:linear-gradient(90deg,#0000fa 0.237%,#0003ff 0.7109%,#0066ff 6.398%,#00eaff 12.56%,#00ffff 13.51%,#66ff99 18.72%,#b1ff4e 23.46%,#eaff15 28.2%,#ffff00 30.57%,#ffe100 35.31%,#ffd600 40.05%,#ffe000 45.73%,#fdff02 52.84%,#96ff69 68.01%,#00ffff 86.97%,#0090ff 99.76%)"></i>
<i style="background:linear-gradient(90deg,#0000f8 0.237%,#0001ff 0.7109%,#0064ff 6.398%,#00fbff 13.51%,#0ffff0 14.45%,#70ff8f 19.67%,#b6ff49 24.41%,#eaff15 29.15%,#fffe00 31.99%,#ffe500 36.73%,#ffdf00 41.47%,#fff300 49.05%,#fdff02 51.9%,#a9ff56 65.17%,#22ffdd 82.7%,#00feff 86.97%,#0090ff 99.76%)"></i>
<i style="background:linear-gradient(90deg,#0000f7 0.237%,#0000ff 0.7109%,#0058ff 5.924%,#00ceff 11.61%,#01fffe 13.98%,#61ff9e 19.19%,#a7ff58 23.93%,#dcff23 28.67%,#fdff02 32.94%,#ffea00 38.15%,#ffe900 42.89%,#fcff03 50.95%,#baff45 62.32%,#53ffac 76.54%,#00fdff 86.97%,#0090ff 99.76%)"></i>
<i style="background:linear-gradient(90deg,#0000f6 0.237%,#0000fd 0.7109%,#0045ff 4.976%,#00acff 10.19%,#00fcff 13.98%,#2affd5 16.35%,#7fff80 21.56%,#c0ff3f 26.78%,#eeff11 31.99%,#fffd00 35.31%,#fff000 40.05%,#fff800 46.21%,#fcff03 49.53%,#cfff30 58.53%,#76ff89 71.8%,#01fffe 86.49%,#008fff 99.76%)"></i>
<i style="background:linear-gradient(90deg,#0000f4 0.237%,#0004ff 1.185%,#005dff 6.398%,#02fffd 14.45%,#55ffaa 19.19%,#9dff62 24.41%,#d2ff2d 29.62%,#f6ff09 34.83%,#fffc00 37.68%,#fff800 42.42%,#fcff03 47.63%,#e0ff1f 54.74%,#9aff65 66.59%,#2fffd0 80.81%,#00ffff 86.49%,#008fff 99.76%)"></i>
<i style="background:linear-gradient(90deg,#0000f3 0.237%,#0002ff 1.185%,#005bff 6.398%,#00fdff 14.45%,#5dffa2 20.14%,#a0ff5f 25.36%,#d4ff2b 31.04%,#f4ff0b 36.26%,#ffff00 41%,#f3ff0c 49.05%,#d0ff2f 57.11%,#88ff77 68.96%,#13ffec 84.12%,#00feff 86.49%,#008eff 99.76%)"></i>
<i style="background:linear-gradient(90deg,#0000f1 0.237%,#0001ff 1.185%,#0058ff 6.398%,#00f8ff 14.45%,#02fffd 14.93%,#50ffaf 19.67%,#92ff6d 24.88%,#c8ff37 30.57%,#e9ff16 35.78%,#f7ff08 40.52%,#efff10 48.1%,#d4ff2b 55.69%,#93ff6c 67.06%,#34ffcb 79.86%,#00fcff 86.49%,#0091ff 99.29%,#008eff 99.76%)"></i>
<i style="background:linear-gradient(90deg,#0000f0 0.237%,#0000fe 1.185%,#004dff 5.924%,#00fdff 14.93%,#57ffa8 20.62%,#95ff6a 25.83%,#cdff32 32.46%,#e9ff16 37.68%,#f0ff0f 42.42%,#e4ff1b 50.47%,#c0ff3f 59%,#7fff80 69.91%,#0cfff3 84.6%,#00ffff 86.02%,#0091ff 99.29%,#008dff 99.76%)"></i>
<i style="background:linear-gradient(90deg,#0000ef 0.237%,#0000fd 1.185%,#0032ff 4.502%,#009dff 10.19%,#00f9ff 14.93%,#02fffd 15.4%,#4affb5 20.14%,#88ff77 25.36%,#c5ff3a 32.46%,#e1ff1e 37.68%,#eaff15 42.89%,#e0ff1f 50.47%,#beff41 59%,#7dff82 69.91%,#13ffec 83.65%,#00feff 86.02%,#0094ff 98.82%,#008dff 99.76%)"></i>
<i style="background:linear-gradient(90deg,#0000ed 0.237%,#0003ff 1.659%,#005aff 6.872%,#00fdff 15.4%,#56ffa9 21.56%,#8eff71 26.78%,#c9ff36 34.36%,#dfff20 39.1%,#e3ff1c 44.79%,#d7ff28 51.9%,#b2ff4d 60.9%,#72ff8d 71.33%,#00fdff 86.02%,#0097ff 98.34%,#008dff 99.76%)"></i>
<i style="background:linear-gradient(90deg,#0000ec 0.237%,#0002ff 1.659%,#0058ff 6.872%,#00f9ff 15.4%,#02fffd 15.88%,#50ffaf 21.56%,#87ff78 26.78%,#c5ff3a 34.83%,#d9ff26 39.57%,#ddff22 45.73%,#d1ff2e 52.84%,#abff54 61.85%,#6eff91 71.8%,#01fffe 85.55%,#0093ff 98.82%,#008cff 99.76%)"></i>
<i style="background:linear-gradient(90deg,#0000eb 0.237%,#0001ff 1.659%,#0056ff 6.872%,#00f6ff 15.4%,#00fdff 15.88%,#55ffaa 22.51%,#8cff73 28.2%,#c3ff3c 35.78%,#d5ff2a 40.52%,#d8ff27 47.16%,#c7ff38 54.74%,#9cff63 64.22%,#5bffa4 74.17%,#00ffff 85.55%,#009dff 97.39%,#008cff 99.76%)"></i>
<i style="background:linear-gradient(90deg,#0000eb 0.237%,#0000ff 1.659%,#0054ff 6.872%,#00f3ff 15.4%,#02fffd 16.35%,#54ffab 22.99%,#88ff77 28.67%,#bcff43 35.78%,#d0ff2f 41%,#d2ff2d 48.1%,#c1ff3e 55.69%,#98ff67 64.69%,#57ffa8 74.64%,#00feff 85.55%,#009dff 97.39%,#008cff 99.76%)"></i>
<i style="background:linear-gradient(90deg,#0000ea 0.237%,#0000fe 1.659%,#0042ff 5.924%,#00b3ff 12.09%,#00f7ff 15.88%,#00feff 16.35%,#58ffa7 23.93%,#a3ff5c 32.94%,#c2ff3d 38.15%,#ceff31 43.84%,#caff35 50.95%,#b2ff4d 59%,#80ff7f 68.48%,#31ffce 79.38%,#00fdff 85.55%,#00a0ff 96.92%,#008bff 99.76%)"></i>
<i style="background:linear-gradient(90deg,#0000ea 0.237%,#0000fd 1.659%,#0039ff 5.45%,#00a8ff 11.61%,#00f3ff 15.88%,#02fffd 16.82%,#53ffac 23.93%,#a4ff5b 33.89%,#c0ff3f 39.1%,#caff35 44.79%,#c5ff3a 51.9%,#acff53 59.95%,#7cff83 68.96%,#2cffd3 79.86%,#01fffe 85.07%,#0098ff 97.87%,#008bff 99.76%)"></i>
<i style="background:linear-gradient(90deg,#0000ea 0.237%,#0000fd 1.659%,#0038ff 5.45%,#00a5ff 11.61%,#00f0ff 15.88%,#00fdff 16.82%,#56ffa9 24.88%,#aaff55 35.78%,#c0ff3f 41%,#c7ff38 47.63%,#baff45 55.21%,#98ff67 63.74%,#5effa1 73.22%,#00ffff 85.07%,#009fff 96.92%,#008bff 99.76%)"></i>
<i style="background:linear-gradient(90deg,#0000ea 0.237%,#0000fd 1.659%,#0037ff 5.45%,#00acff 12.09%,#00edff 15.88%,#00ffff 17.3%,#4dffb2 24.41%,#a2ff5d 35.31%,#baff45 40.52%,#c3ff3c 47.16%,#b9ff46 54.74%,#99ff66 63.27%,#64ff9b 72.27%,#00feff 85.07%,#009eff 96.92%,#008aff 99.76%)"></i>
<i style="background:linear-gradient(90deg,#0000eb 0.237%,#0000fe 1.659%,#003eff 5.924%,#00e2ff 15.4%,#02fffd 17.77%,#4cffb3 24.88%,#a0ff5f 35.78%,#b7ff48 41%,#c0ff3f 47.63%,#b5ff4a 55.21%,#95ff6a 63.74%,#5fffa0 72.75%,#00feff 85.07%,#009eff 96.92%,#008aff 99.76%)"></i>
<i style="background:linear-gradient(90deg,#0000eb 0.237%,#0000fe 1.659%,#0045ff 6.398%,#00deff 15.4%,#00fdff 17.77%,#50ffaf 25.83%,#9bff64 35.78%,#b4ff4b 41.47%,#bcff43 48.1%,#b2ff4d 55.69%,#94ff6b 63.74%,#5effa1 72.75%,#00fdff 85.07%,#009eff 96.92%,#008aff 99.76%)"></i>
<i style="background:linear-gradient(90deg,#0000eb 0.237%,#0000fe 1.659%,#004cff 6.872%,#00daff 15.4%,#00ffff 18.25%,#48ffb7 25.36%,#97ff68 35.78%,#b0ff4f 41.47%,#b9ff46 48.1%,#b0ff4f 55.69%,#92ff6d 63.74%,#5dffa2 72.75%,#01fffe 84.6%,#0097ff 97.87%,#0089ff 99.76%)"></i>
<i style="background:linear-gradient(90deg,#0000eb 0.237%,#0000fe 1.659%,#004bff 6.872%,#00d7ff 15.4%,#02fffd 18.72%,#47ffb8 25.83%,#93ff6c 35.78%,#adff52 41.47%,#b6ff49 48.1%,#adff52 55.69%,#91ff6e 63.74%,#5cffa3 72.75%,#00ffff 84.6%,#009aff 97.39%,#0089ff 99.76%)"></i>
<i style="background:linear-gradient(90deg,#0000eb 0.237%,#0000fe 1.659%,#0051ff 7.346%,#00d3ff 15.4%,#00fdff 18.72%,#4fffb0 27.25%,#92ff6d 36.26%,#aaff55 41.94%,#b3ff4c 48.58%,#aaff55 56.16%,#8dff72 64.22%,#58ffa7 73.22%,#00ffff 84.6%,#0099ff 97.39%,#0089ff 99.76%)"></i>
<i style="background:linear-gradient(90deg,#0000eb 0.237%,#0000fe 1.659%,#0050ff 7.346%,#00d6ff 15.88%,#00ffff 19.19%,#48ffb7 26.78%,#8eff71 36.26%,#a7ff58 41.94%,#b1ff4e 48.58%,#a8ff57 56.16%,#8cff73 64.22%,#57ffa8 73.22%,#00feff 84.6%,#0099ff 97.39%,#0089ff 99.76%)"></i>
<i style="background:linear-gradient(90deg,#0000eb 0.237%,#0000fe 1.659%,#004fff 7.346%,#00d3ff 15.88%,#01fffe 19.67%,#48ffb7 27.25%,#8bff74 36.26%,#a4ff5b 41.94%,#aeff51 48.58%,#a6ff59 56.16%,#8bff74 64.22%,#56ffa9 73.22%,#00fdff 84.6%,#0099ff 97.39%,#0089ff 99.76%)"></i>
<i style="background:linear-gradient(90deg,#0000ea 0.237%,#0000fd 1.659%,#004eff 7.346%,#00cfff 15.88%,#00fdff 19.67%,#55ffaa 29.15%,#8dff72 37.2%,#a5ff5a 43.36%,#acff53 50.47%,#a0ff5f 58.06%,#80ff7f 66.11%,#47ffb8 75.12%,#00fcff 84.6%,#0095ff 97.87%,#0088ff 99.76%)"></i>
<i style="background:linear-gradient(90deg,#0000ea 0.237%,#0000fd 1.659%,#004dff 7.346%,#00ccff 15.88%,#00ffff 20.14%,#4affb5 28.2%,#85ff7a 36.26%,#9fff60 42.42%,#a9ff56 49.53%,#a1ff5e 57.11%,#86ff79 64.69%,#51ffae 73.7%,#01fffe 84.12%,#0092ff 98.34%,#0088ff 99.76%)"></i>
<i style="background:linear-gradient(90deg,#0000ea 0.237%,#0000fc 1.659%,#0031ff 5.45%,#00cfff 16.35%,#01fffe 20.62%,#4bffb4 28.67%,#84ff7b 36.73%,#9eff61 42.89%,#a7ff58 50%,#9eff61 57.58%,#82ff7d 65.17%,#4cffb3 74.17%,#00ffff 84.12%,#0095ff 97.87%,#0088ff 99.76%)"></i>
<i style="background:linear-gradient(90deg,#0000e9 0.237%,#0003ff 2.133%,#0098ff 12.56%,#00e3ff 18.25%,#00fdff 20.62%,#54ffab 30.09%,#87ff78 37.68%,#9eff61 43.84%,#a5ff5a 51.42%,#99ff66 59%,#7aff85 66.59%,#3effc1 76.07%,#00feff 84.12%,#0095ff 97.87%,#0088ff 99.76%)"></i>
<i style="background:linear-gradient(90deg,#0000e8 0.237%,#0002ff 2.133%,#00cfff 16.82%,#00ffff 21.09%,#4affb5 29.15%,#7fff80 36.73%,#99ff66 42.89%,#a3ff5c 50%,#9bff64 57.58%,#80ff7f 65.17%,#4affb5 74.17%,#00feff 84.12%,#0095ff 97.87%,#0088ff 99.76%)"></i>
<i style="background:linear-gradient(90deg,#0000e8 0.237%,#0002ff 2.133%,#00ccff 16.82%,#00fcff 21.09%,#2bffd4 25.83%,#6eff91 34.36%,#8fff70 40.52%,#9fff60 47.63%,#9eff61 55.21%,#89ff76 62.8%,#60ff9f 70.85%,#0dfff2 82.23%,#00fdff 84.12%,#0091ff 98.34%,#0088ff 99.76%)"></i>
<i style="background:linear-gradient(90deg,#0000e7 0.237%,#0001ff 2.133%,#00ceff 17.3%,#00feff 21.56%,#4cffb3 30.09%,#80ff7f 37.68%,#97ff68 43.84%,#9fff60 51.42%,#95ff6a 59%,#77ff88 66.59%,#3bffc4 76.07%,#00fcff 84.12%,#0091ff 98.34%,#0088ff 99.76%)"></i>
<i style="background:linear-gradient(90deg,#0000e7 0.237%,#0000ff 2.133%,#00ccff 17.3%,#02fffd 22.04%,#4affb5 30.09%,#7eff81 37.68%,#95ff6a 43.84%,#9dff62 51.42%,#93ff6c 59%,#76ff89 66.59%,#3affc5 76.07%,#01fffe 83.65%,#008eff 98.82%,#0088ff 99.76%)"></i>
<i style="background:linear-gradient(90deg,#0000e6 0.237%,#0000fe 2.133%,#00cfff 17.77%,#00feff 22.04%,#4fffb0 31.04%,#7eff81 38.15%,#94ff6b 44.79%,#9bff64 52.37%,#8fff70 59.95%,#70ff8f 67.54%,#2fffd0 77.49%,#00ffff 83.65%,#0091ff 98.34%,#0087ff 99.76%)"></i>
<i style="background:linear-gradient(90deg,#0000e5 0.237%,#0000fd 2.133%,#00d2ff 18.25%,#01fffe 22.51%,#4affb5 30.57%,#79ff86 37.68%,#91ff6e 44.31%,#99ff66 51.9%,#8fff70 59.48%,#74ff8b 66.59%,#39ffc6 76.07%,#00feff 83.65%,#0091ff 98.34%,#0087ff 99.76%)"></i>
<i style="background:linear-gradient(90deg,#0000e4 0.237%,#0000fc 2.133%,#002eff 5.924%,#00cfff 18.25%,#00feff 22.51%,#4bffb4 31.04%,#79ff86 38.15%,#90ff6f 44.79%,#97ff68 52.84%,#8cff73 60.43%,#6bff94 68.01%,#2affd5 77.96%,#00feff 83.65%,#0090ff 98.34%,#0087ff 99.76%)"></i>
<i style="background:linear-gradient(90deg,#0000e3 0.237%,#0002ff 2.607%,#00d2ff 18.72%,#02fffd 22.99%,#46ffb9 30.57%,#75ff8a 37.68%,#8dff72 44.31%,#96ff69 52.37%,#8cff73 59.95%,#6fff90 67.06%,#34ffcb 76.54%,#00fdff 83.65%,#0090ff 98.34%,#0087ff 99.76%)"></i>
<i style="background:linear-gradient(90deg,#0000e3 0.237%,#0001ff 2.607%,#00cfff 18.72%,#00feff 22.99%,#48ffb7 31.04%,#75ff8a 38.15%,#8dff72 45.26%,#94ff6b 53.32%,#88ff77 60.9%,#66ff99 68.48%,#21ffde 78.91%,#01fffe 83.18%,#008dff 98.82%,#0087ff 99.76%)"></i>
<i style="background:linear-gradient(90deg,#0000e2 0.237%,#0000ff 2.607%,#00d2ff 19.19%,#02fffd 23.46%,#46ffb9 31.04%,#73ff8c 38.15%,#8bff74 45.26%,#92ff6d 53.32%,#86ff79 60.9%,#65ff9a 68.48%,#21ffde 78.91%,#00ffff 83.18%,#0090ff 98.34%,#0087ff 99.76%)"></i>
<i style="background:linear-gradient(90deg,#0000e1 0.237%,#0000fe 2.607%,#00dbff 20.14%,#00ffff 23.46%,#44ffbb 31.04%,#71ff8e 38.15%,#89ff76 45.26%,#90ff6f 53.32%,#85ff7a 60.9%,#64ff9b 68.48%,#20ffdf 78.91%,#00ffff 83.18%,#0093ff 97.87%,#0087ff 99.76%)"></i>
<i style="background:linear-gradient(90deg,#0000e0 0.237%,#0000fd 2.607%,#0069ff 11.14%,#00e3ff 21.09%,#03fffc 23.93%,#42ffbd 31.04%,#6fff90 38.15%,#87ff78 45.26%,#8eff71 53.32%,#84ff7b 60.9%,#66ff99 68.01%,#22ffdd 78.44%,#00feff 83.18%,#0093ff 97.87%,#0086ff 99.76%)"></i>
<i style="background:linear-gradient(90deg,#0000df 0.237%,#0002ff 3.081%,#00dcff 20.62%,#01fffe 23.93%,#40ffbf 31.04%,#6aff95 37.68%,#84ff7b 44.79%,#8cff73 52.84%,#84ff7b 60.43%,#67ff98 67.54%,#28ffd7 77.49%,#00fdff 83.18%,#0092ff 97.87%,#0086ff 99.76%)"></i>
<i style="background:linear-gradient(90deg,#0000de 0.237%,#0001ff 3.081%,#00dfff 21.09%,#00feff 23.93%,#42ffbd 31.52%,#6bff94 38.15%,#83ff7c 45.26%,#8aff75 53.32%,#81ff7e 60.9%,#61ff9e 68.48%,#1dffe2 78.91%,#00fcff 83.18%,#0092ff 97.87%,#0086ff 99.76%)"></i>
<i style="background:linear-gradient(90deg,#0000dd 0.237%,#0000fe 3.081%,#00e8ff 22.04%,#02fffd 24.41%,#3dffc2 31.04%,#66ff99 37.68%,#80ff7f 45.26%,#89ff76 53.32%,#7fff80 60.9%,#5fffa0 68.48%,#1cffe3 78.91%,#00ffff 82.7%,#0092ff 97.87%,#0086ff 99.76%)"></i>
<i style="background:linear-gradient(90deg,#0000dc 0.237%,#0000fd 3.081%,#0072ff 12.56%,#00ebff 22.51%,#00ffff 24.41%,#3bffc4 31.04%,#64ff9b 37.68%,#7eff81 45.26%,#87ff78 53.32%,#7eff81 60.9%,#5effa1 68.48%,#1bffe4 78.91%,#00feff 82.7%,#0095ff 97.39%,#0086ff 99.76%)"></i>
<i style="background:linear-gradient(90deg,#0000da 0.237%,#0002ff 3.555%,#00e9ff 22.51%,#00fdff 24.41%,#41ffbe 31.99%,#67ff98 38.63%,#7eff81 46.21%,#84ff7b 54.74%,#79ff86 61.85%,#55ffaa 69.91%,#0dfff2 80.81%,#00feff 82.7%,#0094ff 97.39%,#0085ff 99.76%)"></i>
<i style="background:linear-gradient(90deg,#0000d9 0.237%,#0001ff 3.555%,#00edff 22.99%,#02fffd 24.88%,#3cffc3 31.52%,#62ff9d 38.15%,#7cff83 46.21%,#82ff7d 54.74%,#78ff87 61.85%,#54ffab 69.91%,#0cfff3 80.81%,#00fdff 82.7%,#0097ff 96.92%,#0085ff 99.76%)"></i>
<i style="background:linear-gradient(90deg,#0000d8 0.237%,#0000fe 3.555%,#0084ff 14.45%,#00f5ff 23.93%,#00ffff 24.88%,#37ffc8 31.04%,#5effa1 37.68%,#79ff86 45.73%,#80ff7f 54.27%,#77ff88 61.37%,#57ffa8 68.96%,#15ffea 79.38%,#01fffe 82.23%,#0094ff 97.39%,#0085ff 99.76%)"></i>
<i style="background:linear-gradient(90deg,#0000d7 0.237%,#0003ff 4.028%,#00a5ff 17.3%,#00fdff 24.88%,#3cffc3 31.99%,#60ff9f 38.63%,#78ff87 46.68%,#7eff81 55.21%,#72ff8d 62.32%,#4effb1 70.38%,#07fff8 81.28%,#00fbff 82.7%,#0096ff 96.92%,#0085ff 99.76%)"></i>
<i style="background:linear-gradient(90deg,#0000d6 0.237%,#0001ff 4.028%,#0091ff 15.88%,#00f7ff 24.41%,#02fffd 25.36%,#37ffc8 31.52%,#5cffa3 38.15%,#75ff8a 46.21%,#7cff83 54.74%,#72ff8d 61.85%,#52ffad 69.43%,#10ffef 79.86%,#00feff 82.23%,#0099ff 96.45%,#0084ff 99.76%)"></i>
<i style="background:linear-gradient(90deg,#0000d5 0.237%,#0000fe 4.028%,#0077ff 13.98%,#00f0ff 23.93%,#00ffff 25.36%,#35ffca 31.52%,#5affa5 38.15%,#73ff8c 46.68%,#7aff85 55.21%,#6fff90 62.32%,#4bffb4 70.38%,#05fffa 81.28%,#00f9ff 82.7%,#0098ff 96.45%,#0084ff 99.76%)"></i>
<i style="background:linear-gradient(90deg,#0000d4 0.237%,#0000fd 4.028%,#0045ff 10.19%,#00e9ff 23.46%,#00feff 25.36%,#37ffc8 31.99%,#5affa5 38.63%,#72ff8d 47.16%,#77ff88 55.69%,#6bff94 62.8%,#47ffb8 70.85%,#01fffe 81.75%,#0098ff 96.45%,#0084ff 99.76%)"></i>
<i style="background:linear-gradient(90deg,#0000d2 0.237%,#0001ff 4.502%,#0072ff 13.98%,#00edff 23.93%,#02fffd 25.83%,#32ffcd 31.52%,#56ffa9 38.15%,#6fff90 46.68%,#75ff8a 55.21%,#6aff95 62.32%,#49ffb6 70.38%,#06fff9 80.81%,#00fbff 82.23%,#009eff 95.5%,#0084ff 99.76%)"></i>
<i style="background:linear-gradient(90deg,#0000d1 0.237%,#0000fe 4.502%,#0064ff 13.03%,#00ebff 23.93%,#00ffff 25.83%,#31ffce 31.52%,#54ffab 38.15%,#6cff93 46.68%,#73ff8c 55.21%,#68ff97 62.32%,#4affb5 69.91%,#09fff6 80.33%,#00faff 82.23%,#009dff 95.5%,#0083ff 99.76%)"></i>
<i style="background:linear-gradient(90deg,#0000d0 0.237%,#0003ff 4.976%,#006dff 13.98%,#00efff 24.41%,#00feff 25.83%,#32ffcd 31.99%,#54ffab 38.63%,#6bff94 47.63%,#70ff8f 56.16%,#64ff9b 63.27%,#41ffbe 71.33%,#00fdff 81.75%,#009fff 95.02%,#0083ff 99.76%)"></i>
<i style="background:linear-gradient(90deg,#0000cf 0.237%,#0001ff 4.976%,#0065ff 13.51%,#00edff 24.41%,#02fffd 26.3%,#31ffce 31.99%,#52ffad 38.63%,#6aff95 48.1%,#6eff91 56.64%,#60ff9f 63.74%,#3dffc2 71.8%,#00ffff 81.28%,#00a2ff 94.55%,#0083ff 99.76%)"></i>
<i style="background:linear-gradient(90deg,#0000ce 0.237%,#0000fe 4.976%,#004bff 11.61%,#00ecff 24.41%,#01fffe 26.3%,#2cffd3 31.52%,#4effb1 38.15%,#66ff99 47.63%,#6cff93 56.16%,#5effa1 63.74%,#3bffc4 71.8%,#00feff 81.28%,#00a1ff 94.55%,#0082ff 99.76%)"></i>
<i style="background:linear-gradient(90deg,#0000cd 0.237%,#0002ff 5.45%,#0061ff 13.51%,#00eaff 24.41%,#00feff 26.3%,#2effd1 31.99%,#4effb1 38.63%,#65ff9a 48.58%,#69ff96 57.11%,#59ffa6 64.69%,#32ffcd 73.22%,#00fdff 81.28%,#00a4ff 94.08%,#0082ff 99.76%)"></i>
<i style="background:linear-gradient(90deg,#0000cc 0.237%,#0000ff 5.45%,#0058ff 13.03%,#00eeff 24.88%,#02fffd 26.78%,#2cffd3 31.99%,#4cffb3 38.63%,#63ff9c 48.58%,#66ff99 57.11%,#57ffa8 64.69%,#33ffcc 72.75%,#00ffff 80.81%,#00a3ff 94.08%,#0082ff 99.76%)"></i>
<i style="background:linear-gradient(90deg,#0000cb 0.237%,#0000fd 5.45%,#0039ff 10.66%,#00ecff 24.88%,#01fffe 26.78%,#2affd5 31.99%,#4affb5 38.63%,#61ff9e 49.05%,#64ff9b 57.58%,#54ffab 65.17%,#2cffd3 73.7%,#00feff 80.81%,#00a5ff 93.6%,#0081ff 99.76%)"></i>
<i style="background:linear-gradient(90deg,#0000ca 0.237%,#0001ff 5.924%,#0054ff 13.03%,#00eaff 24.88%,#00feff 26.78%,#2bffd4 32.46%,#4affb5 39.1%,#60ff9f 50%,#60ff9f 58.53%,#4effb1 66.11%,#26ffd9 74.64%,#00fdff 80.81%,#00a5ff 93.6%,#0081ff 99.76%)"></i>
<i style="background:linear-gradient(90deg,#0000c9 0.237%,#0000fe 5.924%,#0046ff 12.09%,#00edff 25.36%,#02fffd 27.25%,#2cffd3 32.94%,#49ffb6 39.57%,#5fffa0 50.95%,#5dffa2 59.48%,#49ffb6 67.06%,#1fffe0 75.59%,#00ffff 80.33%,#00a4ff 93.6%,#0081ff 99.76%)"></i>
<i style="background:linear-gradient(90deg,#0000c8 0.237%,#0002ff 6.398%,#005cff 13.98%,#00ebff 25.36%,#00ffff 27.25%,#2affd5 32.94%,#47ffb8 39.57%,#5cffa3 50.95%,#5bffa4 59.48%,#47ffb8 67.06%,#1effe1 75.59%,#00feff 80.33%,#00a6ff 93.13%,#0080ff 99.76%)"></i>
<i style="background:linear-gradient(90deg,#0000c7 0.237%,#0001ff 6.398%,#0059ff 13.98%,#00efff 25.83%,#02fffd 27.73%,#2bffd4 33.41%,#46ffb9 40.05%,#5affa5 51.42%,#58ffa7 59.95%,#42ffbd 68.01%,#17ffe8 76.54%,#00fdff 80.33%,#00a6ff 93.13%,#0080ff 99.76%)"></i>
<i style="background:linear-gradient(90deg,#0000c6 0.237%,#0000fe 6.398%,#0045ff 12.56%,#00ecff 25.83%,#00ffff 27.73%,#29ffd6 33.41%,#45ffba 40.05%,#58ffa7 51.42%,#56ffa9 59.95%,#40ffbf 68.01%,#15ffea 76.54%,#00ffff 79.86%,#00a5ff 93.13%,#0080ff 99.76%)"></i>
<i style="background:linear-gradient(90deg,#0000c5 0.237%,#0002ff 6.872%,#0061ff 14.93%,#00eaff 25.83%,#02fffd 28.2%,#2affd5 33.89%,#44ffbb 40.52%,#56ffa9 51.9%,#53ffac 60.43%,#3dffc2 68.48%,#11ffee 77.01%,#00feff 79.86%,#00a4ff 93.13%,#007fff 99.76%)"></i>
<i style="background:linear-gradient(90deg,#0000c4 0.237%,#0001ff 6.872%,#005fff 14.93%,#00e7ff 25.83%,#00feff 28.2%,#2affd5 34.36%,#43ffbc 41%,#54ffab 51.9%,#50ffaf 60.9%,#39ffc6 68.96%,#0dfff2 77.49%,#00fdff 79.86%,#00a1ff 93.6%,#007fff 99.76%)"></i>
<i style="background:linear-gradient(90deg,#0000c3 0.237%,#0000ff 6.872%,#0057ff 14.45%,#00e4ff 25.83%,#01fffe 28.67%,#28ffd7 34.36%,#42ffbd 41%,#52ffad 51.9%,#4effb1 60.9%,#38ffc7 68.96%,#0cfff3 77.49%,#00fcff 79.86%,#00a1ff 93.6%,#007fff 99.76%)"></i>
<i style="background:linear-gradient(90deg,#0000c2 0.237%,#0000fe 6.872%,#003dff 12.56%,#00e6ff 26.3%,#02fffd 29.15%,#29ffd6 34.83%,#41ffbe 41.47%,#50ffaf 52.37%,#4bffb4 61.37%,#34ffcb 69.43%,#08fff7 77.96%,#00fbff 79.86%,#009dff 94.08%,#007eff 99.76%)"></i>
<i style="background:linear-gradient(90deg,#0000c1 0.237%,#0002ff 7.346%,#005eff 15.4%,#00e3ff 26.3%,#00feff 29.15%,#29ffd6 35.31%,#40ffbf 41.94%,#4effb1 52.37%,#49ffb6 61.37%,#33ffcc 69.43%,#07fff8 77.96%,#00faff 79.86%,#009dff 94.08%,#007eff 99.76%)"></i>
<i style="background:linear-gradient(90deg,#0000c0 0.237%,#0001ff 7.346%,#005bff 15.4%,#00e0ff 26.3%,#01fffe 29.62%,#27ffd8 35.31%,#3fffc0 41.94%,#4cffb3 52.37%,#46ffb9 61.85%,#2fffd0 69.91%,#03fffc 78.44%,#00f3ff 80.81%,#009aff 94.55%,#007dff 99.76%)"></i>
<i style="background:linear-gradient(90deg,#0000bf 0.237%,#0000ff 7.346%,#0053ff 14.93%,#00e2ff 26.78%,#02fffd 30.09%,#27ffd8 35.78%,#3effc1 42.42%,#4affb5 52.84%,#44ffbb 62.32%,#2cffd3 70.38%,#00feff 78.91%,#0097ff 95.02%,#007dff 99.76%)"></i>
<i style="background:linear-gradient(90deg,#0000be 0.237%,#0000fd 7.346%,#0040ff 13.51%,#00dfff 26.78%,#00feff 30.09%,#28ffd7 36.26%,#3effc1 42.89%,#48ffb7 53.32%,#41ffbe 62.8%,#29ffd6 70.85%,#00fdff 78.91%,#0096ff 95.02%,#007cff 99.76%)"></i>
<i style="background:linear-gradient(90deg,#0000bd 0.237%,#0002ff 7.82%,#005fff 16.35%,#00e1ff 27.25%,#00ffff 30.57%,#26ffd9 36.26%,#3cffc3 42.89%,#46ffb9 52.84%,#3fffc0 62.8%,#27ffd8 70.85%,#00ffff 78.44%,#0093ff 95.5%,#007cff 99.76%)"></i>
<i style="background:linear-gradient(90deg,#0000bc 0.237%,#0000ff 7.82%,#005dff 16.35%,#00deff 27.25%,#02fffd 31.04%,#26ffd9 36.73%,#3cffc3 43.36%,#44ffbb 53.32%,#3cffc3 63.27%,#24ffdb 71.33%,#00feff 78.44%,#0090ff 95.97%,#007bff 99.76%)"></i>
<i style="background:linear-gradient(90deg,#0000bc 0.237%,#0000fe 7.82%,#004fff 15.4%,#00dfff 27.73%,#00feff 31.04%,#27ffd8 37.2%,#3bffc4 43.84%,#42ffbd 54.27%,#3affc5 63.74%,#21ffde 71.8%,#00fdff 78.44%,#008fff 95.97%,#007bff 99.76%)"></i>
<i style="background:linear-gradient(90deg,#0000bb 0.237%,#0002ff 8.294%,#005dff 16.82%,#00e1ff 28.2%,#01fffe 31.52%,#25ffda 37.2%,#3affc5 43.84%,#40ffbf 54.27%,#37ffc8 64.22%,#1dffe2 72.27%,#00fcff 78.44%,#008cff 96.45%,#007bff 99.76%)"></i>
<i style="background:linear-gradient(90deg,#0000ba 0.237%,#0001ff 8.294%,#005aff 16.82%,#00e3ff 28.67%,#02fffd 31.99%,#26ffd9 37.68%,#39ffc6 44.31%,#3effc1 55.21%,#34ffcb 64.69%,#1affe5 72.75%,#00feff 77.96%,#008cff 96.45%,#007aff 99.76%)"></i>
<i style="background:linear-gradient(90deg,#0000b9 0.237%,#0000fe 8.294%,#0052ff 16.35%,#00e0ff 28.67%,#00ffff 31.99%,#24ffdb 37.68%,#37ffc8 43.84%,#3dffc2 53.79%,#35ffca 63.74%,#1dffe2 71.8%,#00fdff 77.96%,#0089ff 96.92%,#007aff 99.76%)"></i>
<i style="background:linear-gradient(90deg,#0000b8 0.237%,#0002ff 8.768%,#0060ff 17.77%,#00e2ff 29.15%,#01fffe 32.46%,#23ffdc 37.68%,#36ffc9 43.84%,#3bffc4 53.79%,#32ffcd 64.22%,#1affe5 72.27%,#00fcff 77.96%,#0088ff 96.92%,#0079ff 99.76%)"></i>
<i style="background:linear-gradient(90deg,#0000b7 0.237%,#0001ff 8.768%,#005dff 17.77%,#00e4ff 29.62%,#00feff 32.46%,#23ffdc 38.15%,#35ffca 44.31%,#39ffc6 54.74%,#30ffcf 64.69%,#17ffe8 72.75%,#00feff 77.49%,#0085ff 97.39%,#0079ff 99.76%)"></i>
<i style="background:linear-gradient(90deg,#0000b6 0.237%,#0000fe 8.768%,#004aff 16.35%,#00e6ff 30.09%,#01fffe 32.94%,#22ffdd 38.15%,#34ffcb 44.31%,#37ffc8 54.74%,#2effd1 64.69%,#15ffea 72.75%,#00fdff 77.49%,#0085ff 97.39%,#0079ff 99.76%)"></i>
<i style="background:linear-gradient(90deg,#0000b5 0.237%,#0001ff 9.242%,#005cff 18.25%,#00e4ff 30.09%,#00feff 32.94%,#22ffdd 38.63%,#33ffcc 44.79%,#35ffca 57.11%,#2affd5 66.11%,#0efff1 74.17%,#00fcff 77.49%,#0082ff 97.87%,#0078ff 99.76%)"></i>
<i style="background:linear-gradient(90deg,#0000b4 0.237%,#0000ff 9.242%,#0054ff 17.77%,#00e6ff 30.57%,#01fffe 33.41%,#21ffde 38.63%,#32ffcd 44.79%,#33ffcc 57.11%,#29ffd6 66.11%,#0dfff2 74.17%,#00feff 77.01%,#0082ff 97.87%,#0078ff 99.76%)"></i>
<i style="background:linear-gradient(90deg,#0000b3 0.237%,#0002ff 9.716%,#0057ff 18.25%,#00e4ff 30.57%,#00feff 33.41%,#22ffdd 39.1%,#32ffcd 45.26%,#31ffce 59.48%,#22ffdd 68.01%,#03fffc 76.07%,#00eaff 80.33%,#0081ff 97.87%,#0077ff 99.76%)"></i>
<i style="background:linear-gradient(90deg,#0000b2 0.237%,#0000ff 9.716%,#0054ff 18.25%,#00e6ff 31.04%,#01fffe 33.89%,#20ffdf 39.1%,#30ffcf 45.26%,#2fffd0 59.48%,#21ffde 68.01%,#00feff 76.54%,#007eff 98.34%,#0077ff 99.76%)"></i>
<i style="background:linear-gradient(90deg,#0000b1 0.237%,#0002ff 10.19%,#0056ff 18.72%,#00e4ff 31.04%,#00feff 33.89%,#21ffde 39.57%,#30ffcf 45.73%,#2cffd3 61.37%,#1affe5 69.91%,#00fdff 76.54%,#007eff 98.34%,#0077ff 99.76%)"></i>
<i style="background:linear-gradient(90deg,#0000b0 0.237%,#0000ff 10.19%,#004eff 18.25%,#00e7ff 31.52%,#01fffe 34.36%,#1effe1 39.1%,#2effd1 45.26%,#2dffd2 59.48%,#1dffe2 68.48%,#00feff 76.07%,#007bff 98.82%,#0076ff 99.76%)"></i>
<i style="background:linear-gradient(90deg,#0000af 0.237%,#0002ff 10.66%,#0051ff 18.72%,#00e4ff 31.52%,#00feff 34.36%,#1fffe0 39.57%,#2dffd2 45.73%,#2affd5 61.37%,#18ffe7 69.91%,#00fdff 76.07%,#007bff 98.82%,#0076ff 99.76%)"></i>
<i style="background:linear-gradient(90deg,#0000ad 0.237%,#0000ff 10.66%,#0049ff 18.25%,#00e2ff 31.52%,#01fffe 34.83%,#1dffe2 39.57%,#2cffd3 45.73%,#28ffd7 61.37%,#17ffe8 69.91%,#00feff 75.59%,#007bff 98.82%,#0076ff 99.76%)"></i>
<i style="background:linear-gradient(90deg,#0000ac 0.237%,#0002ff 11.14%,#004bff 18.72%,#00e5ff 31.99%,#00ffff 34.83%,#1cffe3 39.57%,#2bffd4 45.73%,#28ffd7 60.9%,#17ffe8 69.43%,#00fdff 75.59%,#007aff 98.82%,#0076ff 99.76%)"></i>
<i style="background:linear-gradient(90deg,#0000aa 0.237%,#0000ff 11.14%,#0043ff 18.25%,#00e3ff 31.99%,#02fffd 35.31%,#1dffe2 40.05%,#2affd5 46.21%,#25ffda 61.85%,#13ffec 70.38%,#00fcff 75.59%,#007aff 98.82%,#0075ff 99.76%)"></i>
<i style="background:linear-gradient(90deg,#0000a9 0.237%,#0001ff 11.61%,#0045ff 18.72%,#00e6ff 32.46%,#00ffff 35.31%,#1bffe4 40.05%,#29ffd6 46.21%,#25ffda 61.37%,#13ffec 69.91%,#00fdff 75.12%,#007aff 98.82%,#0075ff 99.76%)"></i>
<i style="background:linear-gradient(90deg,#0000a8 0.237%,#0000fe 11.61%,#0039ff 17.77%,#00e3ff 32.46%,#02fffd 35.78%,#1cffe3 40.52%,#28ffd7 46.68%,#22ffdd 62.32%,#0ffff0 70.85%,#00fcff 75.12%,#0079ff 98.82%,#0075ff 99.76%)"></i>
<i style="background:linear-gradient(90deg,#0000a6 0.237%,#0000ff 12.09%,#0040ff 18.72%,#00e1ff 32.46%,#00ffff 35.78%,#1affe5 40.52%,#27ffd8 46.68%,#22ffdd 61.85%,#0ffff0 70.38%,#00fdff 74.64%,#0079ff 98.82%,#0074ff 99.76%)"></i>
<i style="background:linear-gradient(90deg,#0000a5 0.237%,#0002ff 12.56%,#0042ff 19.19%,#00dfff 32.46%,#00fdff 35.78%,#1cffe3 41.47%,#27ffd8 48.1%,#1fffe0 63.27%,#0bfff4 71.33%,#00fcff 74.64%,#0079ff 98.82%,#0074ff 99.76%)"></i>
<i style="background:linear-gradient(90deg,#0000a3 0.237%,#0000ff 12.56%,#003aff 18.72%,#00e2ff 32.94%,#00ffff 36.26%,#1bffe4 41.47%,#25ffda 48.1%,#1dffe2 63.27%,#0afff5 71.33%,#00fdff 74.17%,#0078ff 98.82%,#0074ff 99.76%)"></i>
<i style="background:linear-gradient(90deg,#0000a2 0.237%,#0001ff 13.03%,#003dff 19.19%,#00dfff 32.94%,#01fffe 36.73%,#19ffe6 41.47%,#24ffdb 48.1%,#1cffe3 63.27%,#09fff6 71.33%,#00fcff 74.17%,#007aff 98.34%,#0074ff 99.76%)"></i>
<i style="background:linear-gradient(90deg,#0000a0 0.237%,#0002ff 13.51%,#003fff 19.67%,#00ddff 32.94%,#00feff 36.73%,#19ffe6 41.94%,#23ffdc 48.58%,#1affe5 63.74%,#06fff9 71.8%,#00fbff 74.17%,#007aff 98.34%,#0073ff 99.76%)"></i>
<i style="background:linear-gradient(90deg,#00009f 0.237%,#0000ff 13.51%,#003dff 19.67%,#00daff 32.94%,#01fffe 37.2%,#18ffe7 41.94%,#22ffdd 48.58%,#1affe5 63.27%,#07fff8 71.33%,#00fcff 73.7%,#007aff 98.34%,#0073ff 99.76%)"></i>
<i style="background:linear-gradient(90deg,#00009d 0.237%,#0001ff 13.98%,#003fff 20.14%,#00d8ff 32.94%,#00feff 37.2%,#18ffe7 42.42%,#21ffde 49.53%,#17ffe8 64.22%,#04fffb 71.8%,#00f9ff 74.17%,#007eff 97.39%,#0073ff 99.76%)"></i>
<i style="background:linear-gradient(90deg,#00009c 0.237%,#0000fe 13.98%,#002dff 18.72%,#00d6ff 32.94%,#00ffff 37.68%,#16ffe9 42.42%,#1fffe0 49.53%,#16ffe9 64.22%,#03fffc 71.8%,#00f1ff 75.59%,#0084ff 95.97%,#0073ff 99.76%)"></i>
<i style="background:linear-gradient(90deg,#00009b 0.237%,#0000ff 14.45%,#003aff 20.14%,#00d3ff 32.94%,#00fdff 37.68%,#17ffe8 43.36%,#1effe1 51.42%,#13ffec 65.17%,#00fdff 72.75%,#007bff 97.87%,#0072ff 99.76%)"></i>
<i style="background:linear-gradient(90deg,#000099 0.237%,#0002ff 14.93%,#003dff 20.62%,#00d1ff 32.94%,#00fbff 37.68%,#07fff8 39.57%,#19ffe6 45.26%,#1bffe4 55.21%,#0efff1 67.06%,#00fdff 72.27%,#007bff 97.87%,#0072ff 99.76%)"></i>
<i style="background:linear-gradient(90deg,#000098 0.237%,#0000fb 14.45%,#0004ff 15.4%,#0046ff 21.56%,#00ceff 32.94%,#00f8ff 37.68%,#02fffd 39.1%,#15ffea 44.31%,#1affe5 52.84%,#10ffef 65.64%,#00fcff 72.27%,#007cff 97.39%,#0072ff 99.76%)"></i>
<i style="background:linear-gradient(90deg,#000096 0.237%,#0000f9 14.45%,#0006ff 15.88%,#0055ff 22.99%,#00d0ff 33.41%,#00f9ff 38.15%,#03fffc 39.57%,#15ffea 45.26%,#18ffe7 54.74%,#0cfff3 66.59%,#00fdff 71.8%,#00c5ff 82.7%,#0072ff 99.76%)"></i>
<i style="height:3px;background:linear-gradient(90deg,#000095 0.237%,#0000fb 14.93%,#0004ff 15.88%,#0053ff 22.99%,#00ceff 33.41%,#00f7ff 38.15%,#03fffc 40.05%,#13ffec 45.73%,#16ffe9 55.69%,#0afff5 67.06%,#00fdff 71.33%,#00ccff 81.28%,#0073ff 99.29%,#0071ff 99.76%)"></i>
</div>
<div class="bx" style="left:390.75px;top:260px;width:211.4px;height:172px"></div>
<div class="cb" style="left:622.3px;top:260.25px;width:24.6px;height:172.5px;background-image:linear-gradient(180deg,#800000 0.000%,#9f0000 3.125%,#bf0000 6.250%,#df0000 9.375%,#ff0000 12.500%,#ff2000 15.625%,#ff4000 18.750%,#ff6000 21.875%,#ff8000 25.000%,#ff9f00 28.125%,#ffbf00 31.250%,#ffdf00 34.375%,#ffff00 37.500%,#dfff20 40.625%,#bfff40 43.750%,#9fff60 46.875%,#80ff80 50.000%,#60ff9f 53.125%,#40ffbf 56.250%,#20ffdf 59.375%,#00ffff 62.500%,#00dfff 65.625%,#00bfff 68.750%,#009fff 71.875%,#0080ff 75.000%,#0060ff 78.125%,#0040ff 81.250%,#0020ff 84.375%,#0000ff 87.500%,#0000df 90.625%,#0000bf 93.750%,#00009f 96.875%,#000080 100.000%)"></div>
<div class="t r" style="left:7.10px;width:40px;top:186.81px;">0</div>
<div class="t c" style="left:30.90px;width:40px;top:198.21px;">0</div>
<div class="t r" style="left:7.10px;width:40px;top:143.69px;">2</div>
<div class="t c" style="left:83.28px;width:40px;top:198.21px;">2</div>
<div class="t r" style="left:7.10px;width:40px;top:100.56px;">4</div>
<div class="t c" style="left:135.65px;width:40px;top:198.21px;">4</div>
<div class="t r" style="left:7.10px;width:40px;top:57.44px;">6</div>
<div class="t c" style="left:188.03px;width:40px;top:198.21px;">6</div>
<div class="t r" style="left:7.10px;width:40px;top:14.31px;">8</div>
<div class="t c" style="left:240.40px;width:40px;top:198.21px;">8</div>
<div class="t r" style="left:347.85px;width:40px;top:186.81px;">0</div>
<div class="t c" style="left:371.65px;width:40px;top:198.21px;">0</div>
<div class="t r" style="left:347.85px;width:40px;top:143.69px;">2</div>
<div class="t c" style="left:424.07px;width:40px;top:198.21px;">2</div>
<div class="t r" style="left:347.85px;width:40px;top:100.56px;">4</div>
<div class="t c" style="left:476.50px;width:40px;top:198.21px;">4</div>
<div class="t r" style="left:347.85px;width:40px;top:57.44px;">6</div>
<div class="t c" style="left:528.92px;width:40px;top:198.21px;">6</div>
<div class="t r" style="left:347.85px;width:40px;top:14.31px;">8</div>
<div class="t c" style="left:581.35px;width:40px;top:198.21px;">8</div>
<div class="t r" style="left:7.10px;width:40px;top:425.56px;">0</div>
<div class="t c" style="left:30.90px;width:40px;top:436.96px;">0</div>
<div class="t r" style="left:7.10px;width:40px;top:382.56px;">2</div>
<div class="t c" style="left:83.28px;width:40px;top:436.96px;">2</div>
<div class="t r" style="left:7.10px;width:40px;top:339.56px;">4</div>
<div class="t c" style="left:135.65px;width:40px;top:436.96px;">4</div>
<div class="t r" style="left:7.10px;width:40px;top:296.56px;">6</div>
<div class="t c" style="left:188.03px;width:40px;top:436.96px;">6</div>
<div class="t r" style="left:7.10px;width:40px;top:253.56px;">8</div>
<div class="t c" style="left:240.40px;width:40px;top:436.96px;">8</div>
<div class="t r" style="left:347.85px;width:40px;top:425.56px;">0</div>
<div class="t c" style="left:371.65px;width:40px;top:436.96px;">0</div>
<div class="t r" style="left:347.85px;width:40px;top:382.56px;">2</div>
<div class="t c" style="left:424.07px;width:40px;top:436.96px;">2</div>
<div class="t r" style="left:347.85px;width:40px;top:339.56px;">4</div>
<div class="t c" style="left:476.50px;width:40px;top:436.96px;">4</div>
<div class="t r" style="left:347.85px;width:40px;top:296.56px;">6</div>
<div class="t c" style="left:528.92px;width:40px;top:436.96px;">6</div>
<div class="t r" style="left:347.85px;width:40px;top:253.56px;">8</div>
<div class="t c" style="left:581.35px;width:40px;top:436.96px;">8</div>
<div class="t" style="left:309.60px;top:38.66px;">0.9999</div>
<div class="t" style="left:309.60px;top:85.06px;">0.9998</div>
<div class="t" style="left:309.60px;top:130.36px;">0.9997</div>
<div class="t" style="left:309.60px;top:176.06px;">0.9996</div>
<div class="t" style="left:649.80px;top:46.46px;">2</div>
<div class="t" style="left:649.80px;top:82.66px;">1.5</div>
<div class="t" style="left:649.80px;top:118.86px;">1</div>
<div class="t" style="left:649.80px;top:155.16px;">0.5</div>
<div class="t" style="left:309.60px;top:284.16px;">8</div>
<div class="t" style="left:309.60px;top:322.46px;">6</div>
<div class="t" style="left:309.60px;top:360.76px;">4</div>
<div class="t" style="left:309.60px;top:399.16px;">2</div>
<div class="t" style="left:649.80px;top:260.66px;">3</div>
<div class="t" style="left:649.80px;top:292.46px;">2.5</div>
<div class="t" style="left:649.80px;top:324.26px;">2</div>
<div class="t" style="left:649.80px;top:356.06px;">1.5</div>
<div class="t" style="left:649.80px;top:387.86px;">1</div>
<div class="t" style="left:649.80px;top:419.66px;">0.5</div>
<div class="tk" style="left:281.80px;top:45.00px"></div>
<div class="tk" style="left:302.70px;top:45.00px"></div>
<div class="tk" style="left:281.80px;top:91.20px"></div>
<div class="tk" style="left:302.70px;top:91.20px"></div>
<div class="tk" style="left:281.80px;top:136.80px"></div>
<div class="tk" style="left:302.70px;top:136.80px"></div>
<div class="tk" style="left:281.80px;top:182.50px"></div>
<div class="tk" style="left:302.70px;top:182.50px"></div>
<div class="tk" style="left:622.80px;top:52.80px"></div>
<div class="tk" style="left:643.70px;top:52.80px"></div>
<div class="tk" style="left:622.80px;top:89.00px"></div>
<div class="tk" style="left:643.70px;top:89.00px"></div>
<div class="tk" style="left:622.80px;top:125.20px"></div>
<div class="tk" style="left:643.70px;top:125.20px"></div>
<div class="tk" style="left:622.80px;top:161.50px"></div>
<div class="tk" style="left:643.70px;top:161.50px"></div>
<div class="tk" style="left:281.80px;top:290.50px"></div>
<div class="tk" style="left:302.70px;top:290.50px"></div>
<div class="tk" style="left:281.80px;top:328.80px"></div>
<div class="tk" style="left:302.70px;top:328.80px"></div>
<div class="tk" style="left:281.80px;top:367.10px"></div>
<div class="tk" style="left:302.70px;top:367.10px"></div>
<div class="tk" style="left:281.80px;top:405.50px"></div>
<div class="tk" style="left:302.70px;top:405.50px"></div>
<div class="tk" style="left:622.80px;top:267.00px"></div>
<div class="tk" style="left:643.70px;top:267.00px"></div>
<div class="tk" style="left:622.80px;top:298.80px"></div>
<div class="tk" style="left:643.70px;top:298.80px"></div>
<div class="tk" style="left:622.80px;top:330.60px"></div>
<div class="tk" style="left:643.70px;top:330.60px"></div>
<div class="tk" style="left:622.80px;top:362.40px"></div>
<div class="tk" style="left:643.70px;top:362.40px"></div>
<div class="tk" style="left:622.80px;top:394.20px"></div>
<div class="tk" style="left:643.70px;top:394.20px"></div>
<div class="tk" style="left:622.80px;top:426.00px"></div>
<div class="tk" style="left:643.70px;top:426.00px"></div>
<div class="t" style="left:646.60px;top:4.36px;">x 10<span class="ex">&minus;5</span></div>
<div class="t" style="left:306.40px;top:243.36px;">x 10<span class="ex">&minus;5</span></div>
<div class="t" style="left:646.60px;top:243.36px;">x 10<span class="ex">&minus;4</span></div>
<div class="t w" style="left:59.30px;top:167.78px;">(a)</div>
<div class="t w" style="left:399.80px;top:167.78px;">(b)</div>
<div class="t w" style="left:57.50px;top:406.78px;">(c)</div>
<div class="t w" style="left:399.80px;top:406.78px;">(d)</div>
<div class="al" style="left:120.5px;top:458px"><span class="om" style="left:-0.6px;top:1.2px">&omega;</span><span class="sb" style="left:12.4px;top:14.2px">1</span><span class="mn" style="left:25.8px;top:1.6px">(fs</span><span class="su" style="left:47.6px;top:-4.2px">&minus;1</span><span class="mn" style="left:65px;top:1.6px">)</span></div>
<div class="al" style="left:461.2px;top:458px"><span class="om" style="left:-0.6px;top:1.2px">&omega;</span><span class="sb" style="left:12.4px;top:14.2px">1</span><span class="mn" style="left:25.8px;top:1.6px">(fs</span><span class="su" style="left:47.6px;top:-4.2px">&minus;1</span><span class="mn" style="left:65px;top:1.6px">)</span></div>
<div class="al rot" style="left:3.9px;top:140.4px"><span class="om" style="left:-0.6px;top:1.2px">&omega;</span><span class="sb" style="left:12.4px;top:14.2px">2</span><span class="mn" style="left:25.8px;top:1.6px">(fs</span><span class="su" style="left:47.6px;top:-4.2px">&minus;1</span><span class="mn" style="left:65px;top:1.6px">)</span></div>
<div class="al rot" style="left:3.9px;top:379.4px"><span class="om" style="left:-0.6px;top:1.2px">&omega;</span><span class="sb" style="left:12.4px;top:14.2px">2</span><span class="mn" style="left:25.8px;top:1.6px">(fs</span><span class="su" style="left:47.6px;top:-4.2px">&minus;1</span><span class="mn" style="left:65px;top:1.6px">)</span></div>
</body></html>
